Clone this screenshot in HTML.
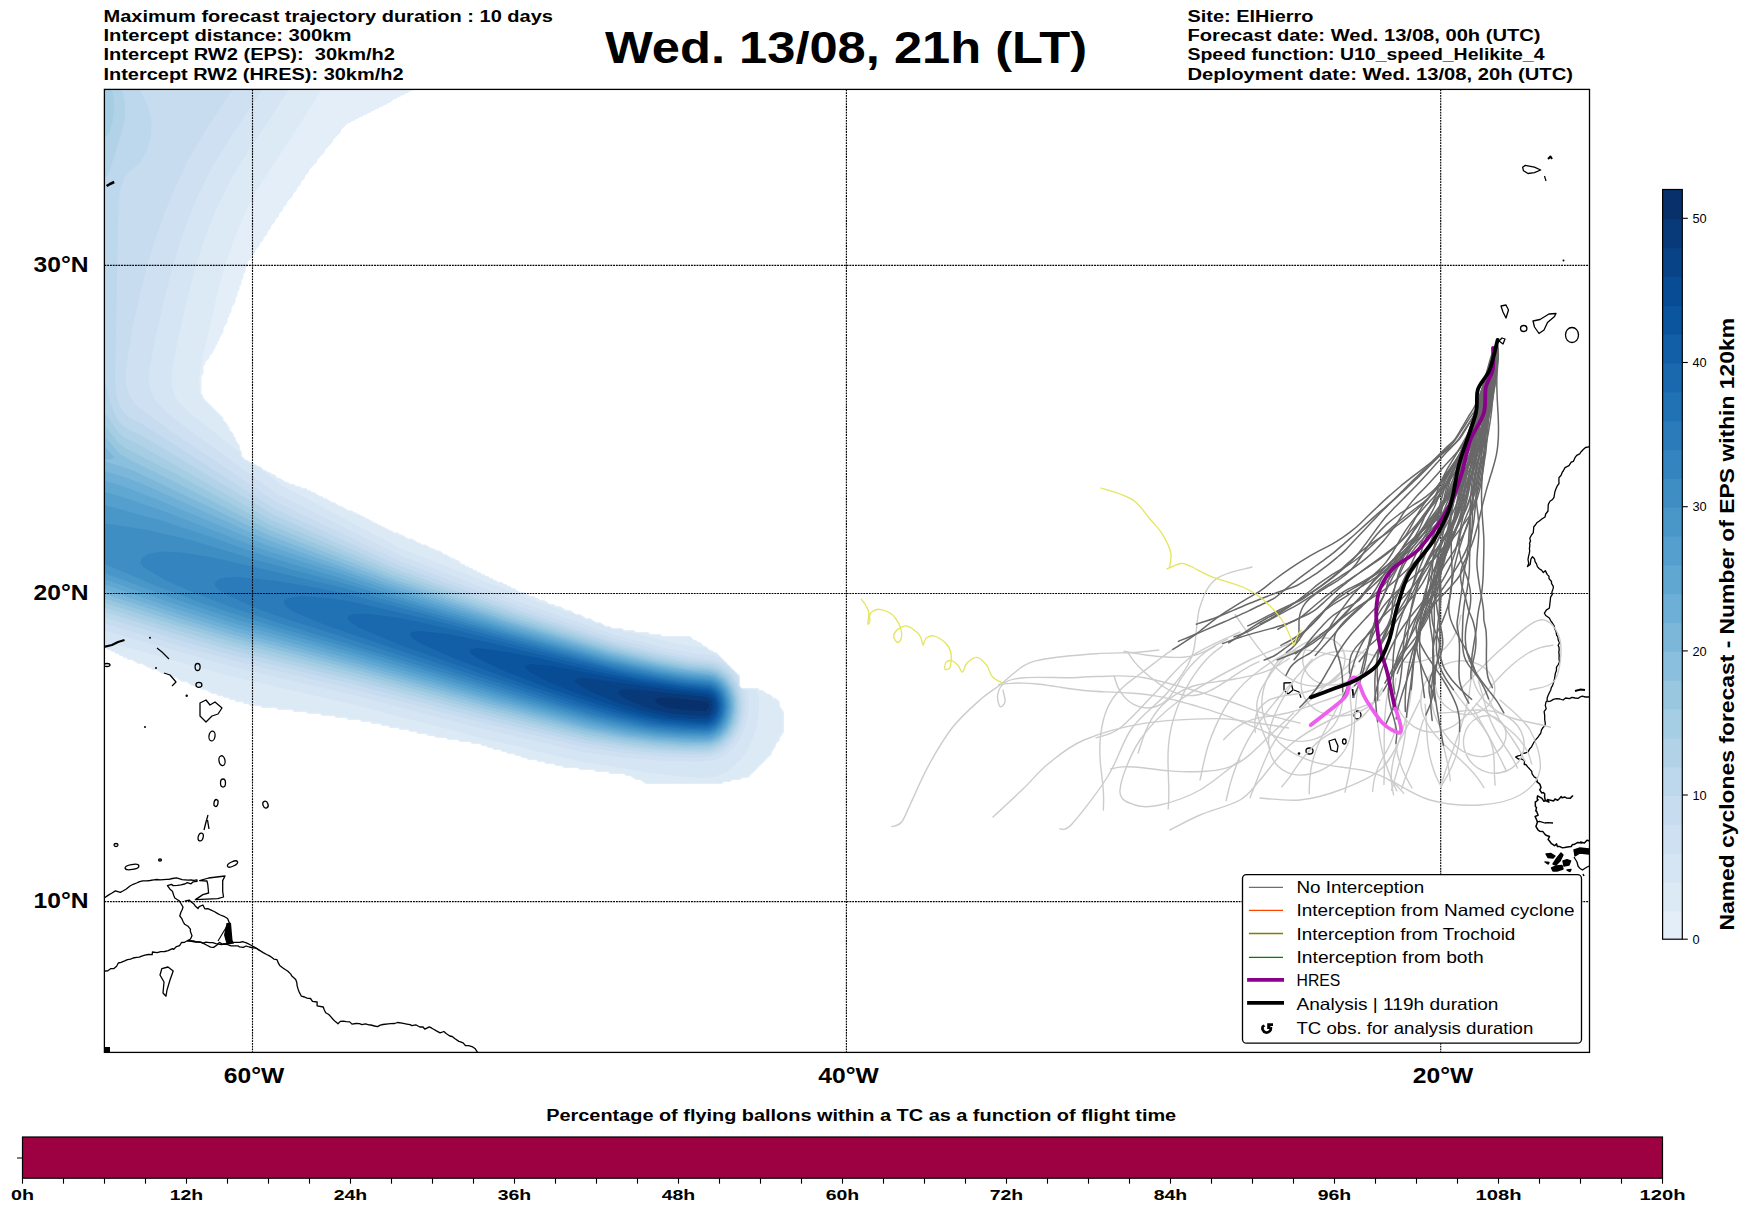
<!DOCTYPE html>
<html><head><meta charset="utf-8"><style>
html,body{margin:0;padding:0;background:#fff;width:1748px;height:1213px;overflow:hidden}
svg{position:absolute;left:0;top:0;font-family:"Liberation Sans",sans-serif}
</style></head><body>
<svg width="1748" height="1213" viewBox="0 0 1748 1213">
<defs><clipPath id="mapclip"><rect x="104.4" y="89.4" width="1485.1" height="963"/></clipPath></defs>
<g clip-path="url(#mapclip)">
<path d="M722,784l-76,0 -6,-4 -4,0 -6,-4 -4,0 -2,-2 -14,0 -2,-2 -12,0 -2,-2 -14,0 -2,-2 -14,0 -2,-2 -6,0 -2,-2 -8,0 -2,-2 -6,0 -2,-2 -8,0 -2,-2 -4,0 -2,-2 -4,0 -2,-2 -6,0 -2,-2 -4,0 -2,-2 -6,0 -2,-2 -4,0 -2,-2 -4,0 -2,-2 -8,0 -2,-2 -10,0 -2,-2 -10,0 -2,-2 -10,0 -2,-2 -6,0 -2,-2 -8,0 -2,-2 -6,0 -2,-2 -8,0 -2,-2 -8,0 -2,-2 -6,0 -2,-2 -8,0 -2,-2 -8,0 -2,-2 -12,0 -2,-2 -10,0 -2,-2 -12,0 -2,-2 -12,0 -2,-2 -12,0 -2,-2 -14,0 -2,-2 -14,0 -2,-2 -10,0 -2,-2 -4,0 -2,-2 -6,0 -2,-2 -4,0 -2,-2 -4,0 -2,-2 -4,0 -2,-2 -4,0 -6,-4 -4,0 -6,-4 -4,0 -6,-4 -4,0 -6,-4 -4,0 -6,-4 -4,0 -6,-4 -4,0 -2,-2 -2,0 -6,-4 -4,0 -6,-4 -4,0 -2,-2 -2,0 -2,-2 -2,0 -2,-2 -2,0 -2,-2 -2,0 -2,-2 -2,0 -2,-2 -2,0 -6,-4 0,-562 2,-2 220,0.5 96,0.5 1,1 0,4 -5,5 -2,0 -2,2 -2,0 -2,2 -2,0 -2,2 -2,0 -2,2 -2,0 -4,4 -2,0 -2,2 -2,0 -2,2 -2,0 -2,2 -2,0 -2,2 -2,0 -2,2 -2,0 -2,2 -2,0 -2,2 -2,0 -2,2 -2,0 -2,2 -2,0 -2,2 -2,0 -7,7 0,2 -8,8 0,2 -8,8 0,2 -8,8 0,2 -8,8 0,2 -4,4 0,2 -4,4 0,2 -4,4 0,2 -4,4 0,2 -6,6 0,2 -4,4 0,2 -4,4 0,2 -4,4 0,2 -4,4 0,2 -3.5,4 0,2 -4,4 0,2 -4,4 0,2 -4,4 0,2 -4,4 0,2 -4,4 0,4 -2,2 0,4 -2,2 0,4 -2,2 0,4 -2,2 0,4 -2,2 0,4 -2,2 0,4 -4,6 0,4 -2,2 0,2 -2,2 0,4 -4,6 0,4 -4,6 0,2 -2,2 0,2 -2,2 0,2 -2,2 0,2 -4,4 0,2 -4,4 0,2 -2,2 0,8 -2,2 0,18 2,2 0,2 20,20 0,2 4,4 0.5,2 2,2 0,2 4,4 0,2 2,2 0,2 4,6 0,4 2,2 0,4 4,4 2,0 2,2 2,0 6,4 2,0 4,4 2,0 2,2 2,0 2,2 2,0 4,4 2,0 6,4 2,0 2,2 4,0 2,2 4,0 2,2 4,0 2,2 2,0 2,2 2,0 6,4 2,0 2,2 2,0 6,4 2,0 6,4 2,0 6,4 4,0.5 2,1.5 2,0.5 2,1.5 2,0.5 2,1.5 2,0.5 2,1.5 2,0.5 2,1.5 2,0.5 2,2 2,0 2,2 2,0 2,2 2,0 2,2 2,0 2,2 2,0 2,2 4,0 2,2 2,0 6,4 4,0 6,4 2,0 2,2 4,0 6,4 2,0 2,1.5 4,0.5 4,3.5 2,0 6,4 2,0 2,2 2,0 4,4 2,0 2,2 2,0 2,2 2,0 2,2 2,0 2,2 2,0 2,2 2,0 2,2 2,0 2,2 2,0 2,2 2,0 2,2 4,0 2,2 2,0 2,2 2,0 2,2 2,0 6,4 4,0 6,4 4,0 2,2 2,0 2,2 4,0 6,4 4,0 2,2 4,0 6,4 4,0 6,4 4,0 6,4 4,0 6,4 4,0 6,4 4,0 2,2 10,0 2,2 10,0 2,2 12,0 2,2 10,0 2,2 28,0 4,4 2,0 2,2 2,0 4,4 2,0 4,4 2,0 2,2 2,0 24,24 0,10 2,2 16,0 2,2 2,0 6,4 2,0 4,4 2,0 4,4 0,4 4,6 0,20 -4,6 0,2 -4,4 0,2 -4,6 0,2 -24,24 -6,0 -2,2 -8,0 -2,2 -6,0 -2,2z" fill="#e3eef9"/>
<path d="M722,783l-76,0 -6,-4 -4,0 -6,-4 -4,0 -2,-2 -14,0 -2,-2 -12,0 -2,-2 -14,0 -2,-2 -14,0 -2,-2 -6,0 -2,-2 -8,0 -2,-2 -6,0 -2,-2 -8,0 -2,-2 -4,0 -2,-2 -4,0 -2,-2 -6,0 -2,-2 -4,0 -2,-2 -6,0 -2,-2 -4,0 -2,-2 -4,0 -2,-2 -8,0 -2,-2 -10,0 -2,-2 -10,0 -2,-2 -10,-0.5 -2,-1.5 -6,-0.5 -2,-1.5 -8,-0.5 -2,-2 -6,0 -2,-2 -8,0 -2,-2 -8,0 -2,-2 -6,0 -2,-2 -8,0 -2,-2 -8,0 -2,-2 -12,0 -2,-2 -10,0 -2,-2 -12,0 -2,-2 -12,0 -2,-2 -12,0 -2,-2 -14,0 -2,-2 -14,0 -2,-2 -10,0 -2,-2 -4,0 -2,-2 -6,0 -2,-2 -4,0 -2,-2 -4,0 -2,-2 -4,0 -2,-2 -4,0 -6,-4 -4,0 -6,-4 -4,0 -6,-4 -4,0 -6,-4 -4,0 -6,-4 -4,0 -6,-4 -4,0 -2,-2 -2,0 -6,-4 -4,0 -6,-4 -4,0 -2,-2 -2,0 -2,-1.5 -2,0 -2,-2 -2,0 -2,-2 -2,0 -2,-2 -2,0 -2,-2 -2,0 -2,-2 -2,0 -1,-1 -1,-74 0.5,-488 1.5,-1.5 164,0 62,1.5 -17,28 -51,78 -12,22.5 -10,23.5 -8,22.5 -8.5,27.5 -16.5,72 -4,24 1,14 2,2 0,2 20,20 0.5,2 4,4 0,2 2,2 0,2 4,4 0,2 2,2 0,2 4.5,6 0,4 2,2 0,4 4,4 3,1 2,2 2,0 2,2 2,0 2,2 2,0 4,4 2,0 2,2 2,0 2,2 2,0 4,4 2,0 6,4 2,0 2,2 4,0.5 2,1.5 4,0.5 2,2 4,0 2,2 2,0 2,2 2,0 6,4 2,0 2,2 2,0 6,4 2,0 6,4 2,0 6,4 4,0 2,2 6,2 2,2 2,0 2,2 2,0 2,2 2,0.5 2,1.5 2,0.5 2,1.5 2,0.5 2,1.5 2,0.5 2,1.5 6,2.5 2,1.5 4,0.5 2,2 2,0 6,4 4,0 6,3.5 2,0.5 2,1.5 4,0.5 6,3.5 2,0 2,2 4,0 4,4 2,0 6,4 6,2 4,4 2,0 2,2 6,2 2,2 2,0 2,2 2,0 2,1.5 6,2.5 2,1.5 2,0 2,2 2,0 2,2 4,0 2,2 2,0 2,2 2,0 2,2 2,0 6,4 4,0 6,4 4,0 2,2 2,0 2,2 4,0 6,4 4,0 2,2 4,0 6,4 4,0 6,4 4,0 6,4 4,0 6,4 4,0 6,4 4,0 2,2 10,0 2,2 10,0 2,2 12,0 2,2 10,0 2,2 28,0 4,4 2,0 2,2 2,0 4,4 2,0 4,4 2,0 2,2 2,0 23.5,23 0,10 2.5,2.5 16,0.5 2,2 2,0 6,4 2,0 4,4.5 2,0 2.5,2.5 0,4 4,6 0,20 -4,6 0,2 -4,4 0,2 -4,6 0,2 -22.5,22.5 -6,0.5 -2,2 -8,0 -2,2 -6,0 -2,2z" fill="#dceaf6"/>
<path d="M706,778l-20,-1 -24,-2.5 -82,-13 -102,-24.5 -127.5,-33 -124.5,-29 -104,-29 -14,-2.5 -8,0.5 -1.5,-36 0,-58 0,-468 1.5,-1.5 194,1.5 -47.5,72 -14.5,23.5 -14,27.5 -12.5,31 -9,28 -8.5,32 -10,43.5 -6,30.5 -0.5,10 0.5,8 3,8 5.5,8 15.5,14 44,34.5 0,3.5 6,5.5 2,0.5 2,2 2,0 2,2 2,0 2,2 1.5,0 22.5,17.5 118,62.5 118,46.5 48,17.5 8,2 2,2 4,0 6,4 4,0 2,2 2,0 2,2 4,0 6,3.5 4,0.5 2,1.5 10,0.5 2,2 5.5,0 40,10 20.5,4 16,2 4,3.5 6,2 23,22.5 0.5,10 2.5,3 15,1 2,10 0,12 -2,14 -4,12 -4.5,10 -6.5,10 -8,8 -8,6 -10,4.5 -10,1.5z" fill="#d5e5f4"/>
<path d="M714,760l-14,1.5 -34,-0.5 -42,-3.5 -42,-5.5 -100,-23.5 -133,-34.5 -117,-27.5 -132,-37 -1.5,-29.5 0,-50 0.5,-466 0,-2 1,-1 167.5,1 -40,60 -17,28 -14.5,30 -14,36 -8.5,28 -8,30 -10,44 -6,30 -1,12 1.5,8 4,10 4.5,6 9.5,9.5 13,10.5 97,70.5 120,60 116,45.5 98,34 53.5,14 26.5,5 20,2.5 8,2.5 18.5,18 0.5,10 3,3.5 4.5,0.5 2,10 0,8 -1,10 -2,8 -6.5,14 -5,7 -6,5.5 -6,4.5 -8,3z" fill="#cee0f2"/>
<path d="M712,756l-20,1.5 -26,-1 -42,-3.5 -40,-6 -102,-24.5 -133,-34.5 -115,-27.5 -50,-13.5 -84,-25 -1.5,-72 1,-174 -0.5,-286 0,-8 1,-1 137.5,1 -33,50 -17.5,30 -17.5,38 -14.5,40 -8,26 -8,32 -6.5,30 -4.5,26 -2,18 0,12 2.5,10 5,8 4.5,4.5 31.5,23.5 106.5,72 121,58 119,45.5 96,32.5 54,14 22,4.5 24,3 12,4.5 6,4.5 5,5.5 3,4.5 0.5,7.5 4.5,4 2,12 -0.5,12 -3.5,14 -8,14 -9,8.5 -6,3.5 -6,2z" fill="#c7dcef"/>
<path d="M704,754l-24,0 -32,-2 -30,-3.5 -34,-5.5 -100,-24 -131.5,-35 -120.5,-29 -50,-14 -82,-25 -1.5,-66 1.5,-468.5 36,0.5 5.5,10 5.5,12 3,10 1.5,10 -0.5,12 -4,14 -7,12.5 -12,10.5 -4,5.5 -4,11.5 -1.5,12 -3.5,178 1,12 1.5,8 2.5,7 4,6 6,5 12,6 132,84.5 122,56 118,44 98,33 49.5,12.5 28.5,5.5 22,2.5 10,4 6,4.5 5,5.5 6.5,12 3,14 -1,16 -5,14 -3.5,6 -5.5,6 -5.5,4.5 -6,3 -6,2 -6,0.5z" fill="#bdd7ec"/>
<path d="M106,177.5l-2,-2.5 -4,-15.5 -0.5,-77.5 20.5,0 5,20 0,16 -2,10 -13,41.5 -2,5.5 -2,2.5zM104,323l0,-3 0,-2.5 0,2.5 0,3zM712,750.5l-6,1 -14,0 -28,-1 -34,-3.5 -44,-7 -102,-25 -130.5,-35 -119.5,-29 -50,-14.5 -84,-26 -1,-44.5 0,-108 1,-72.5 2,-7.5 2,-1 5,21 5,14.5 4,7.5 6,6.5 6,4 10,4 134,80.5 122,54 118,43 105,34 49.5,12 21.5,4 22,2.5 10,4.5 8.5,7 6,10 3.5,12 0.5,14 -3,12 -6,12 -9.5,9.5 -10,5z" fill="#b2d2e8"/>
<path d="M106,136.5l-2,-1.5 -2,-4.5 -2,-9 0,-35.5 1,-4 9.5,0 3,16 0.5,12 -1.5,12 -2.5,8.5 -2,4.5 -2,1.5zM712,748l-6,1 -14,0.5 -30,-1.5 -32,-3.5 -44,-7.5 -100,-25 -125.5,-34 -126.5,-31.5 -54,-15.5 -80,-25 -1,-56 1,-137.5 4,0 2,1.5 12,18 6.5,6 11.5,5 22,12.5 112,64 124,52.5 118,42 98.5,32 47,12 31.5,6 21,2.5 10,3.5 8,6.5 6.5,9.5 3.5,12 0.5,12 -2,12 -6,12 -8.5,9 -10,5z" fill="#a5cde3"/>
<path d="M710,746.5l-26,0.5 -28,-2 -32,-4 -38,-6.5 -100,-25.5 -127,-35 -123,-31 -56,-16.5 -80,-25 -1,-51.5 1,-124 4,0 2,1 12,15.5 7,5.5 51,26 94,51 122,50 120,42 98,31 47,12 31,6 22,2.5 8,2.5 8,6 6.5,9 4,12 0.5,12 -2.5,12 -6.5,12 -8,8 -10,4.5z" fill="#99c7e0"/>
<path d="M710,744.5l-24,0.5 -32,-2.5 -30,-4 -38,-7 -98,-25 -124,-34.5 -128,-33 -54,-15.5 -82,-26.5 -1,-47 1,-113 4,0 2,1 14,16 8,5 44,21.5 96,49 124,49 120,41 98,31 47,11.5 31,6 22,2 8,3 8.5,7 6,10 3,10 -0.5,12 -3,12 -6,10 -8,7 -8,3.5z" fill="#8abfdd"/>
<path d="M710,742.5l-24,0.5 -32,-2.5 -30,-4 -36,-7 -100,-26 -126.5,-35.5 -127.5,-33 -56,-17 -78,-25.5 -0.5,-42.5 0.5,-103 4,0 2,1 9,10 -5,1.5 -9.5,0.5 31.5,10 136,65 124,46.5 118,40 99,30.5 49,12 28,5.5 24,2.5 6,2 8,5.5 6,8.5 3.5,10 0.5,12 -3,12 -5,9.5 -8,7.5 -8,3.5z" fill="#7cb7da"/>
<path d="M106,458l-6,0.5 0,-2 4,0 3,1.5 -1,0zM712,740l-6,1.5 -14,0 -34,-2.5 -28,-3.5 -42,-8 -98,-26.5 -128,-36 -125,-33 -53,-16 -84,-28 0,-118.5 26,8 20,8 120,54 126,45.5 118,38.5 99,30.5 49.5,12 55.5,9 8,5 6,7.5 3.5,8.5 1.5,10 -2,12 -4.5,10 -6.5,7.5 -8,4.5z" fill="#6dafd7"/>
<path d="M712,738.5l-6,1 -12,0 -32,-2 -32,-4 -42,-8.5 -98,-26.5 -124,-35.5 -129.5,-35 -57.5,-18 -79,-27 0,-103.5 24,7 32,12.5 110,46 78,26 46,16.5 120,38.5 98,29.5 25,6.5 45,9.5 30,3.5 6,1.5 8,5.5 4.5,6 3.5,8 1.5,10 -1.5,10 -4,10 -6,7.5 -8,5z" fill="#60a7d2"/>
<path d="M712,736.5l-6,1.5 -14,0 -30,-2 -32,-4.5 -42,-9 -97,-26.5 -127,-37 -127.5,-35 -56,-18 -80.5,-28.5 0,-87 25.5,7.5 40.5,14 98,38 76,23.5 50,17 120,38 98,29 22,5.5 34,7.5 24,4 20,2 6,1.5 6,4 6,7.5 3,8.5 1,8 -1.5,10 -3,8 -5.5,7.5 -8,5z" fill="#549fcd"/>
<path d="M706,736l-28,-0.5 -30,-3 -38,-7 -38,-9.5 -78,-22 -124,-36.5 -132.5,-37.5 -60,-20 -76,-28 -1.5,-0.5 0,-67.5 60,16 44,14.5 58,20.5 78,23 48,15.5 120,36.5 98,29 52,12 26,4.5 28,3.5 8,5 4.5,6 4,10 0,10 -2.5,10 -5,8 -7,6 -8,2z" fill="#4997c9"/>
<path d="M708,734.5l-24,-0.5 -26,-2 -32,-5.5 -36,-8 -73,-20.5 -143,-43 -101.5,-29 -62.5,-20 -53.5,-20 -56.5,-24 0,-39.5 48,7.5 42.5,10 69.5,21 88,23.5 160,48 100,28.5 50,11.5 26,4.5 28,3.5 6,3.5 6,7.5 3,8.5 0.5,8 -2.5,10 -4,8 -7,6 -6,2.5z" fill="#3e8ec4"/>
<path d="M710,732l-8,1 -24,-1 -20,-2 -24,-4 -42,-9.5 -79,-22.5 -231,-70 -48.5,-16 -41.5,-16 -27,-12 -20.5,-12 -3.5,-4 -0.5,-2 1.5,-4 6,-4 14,-2.5 20,1 34,5.5 128,30 264,75 52,11.5 26,4.5 24,2.5 6,3 5.5,5.5 3.5,8 1,8 -1,8 -3,8 -6,7 -6,3z" fill="#3484bf"/>
<path d="M710,730.5l-6,0.5 -22,-0.5 -36,-4 -50,-11 -46.5,-13.5 -78.5,-24 -194,-62 -26,-10 -22,-10 -10,-6 -4,-4 -0.5,-2 3,-4 2.5,-1 6,-1.5 12,-0.5 36,3.5 44.5,7.5 36,8 70,18 183.5,51 52,11.5 26,4 24,3 6,3 5,5.5 2.5,6 1.5,8 -1.5,8 -3.5,8 -4,5 -6,3.5z" fill="#2b7bba"/>
<path d="M710,728.5l-4,1 -18,-0.5 -36,-3.5 -43.5,-9.5 -43,-12 -108,-34 -124,-42 -21,-8 -18,-8 -9,-6 -1.5,-4 0.5,-2 3.5,-2 14,-2 26,2 25,4 87.5,20 177.5,47.5 44,9 24,4 24,2.5 6,3.5 4,4.5 3,7 0.5,6 -1,8 -3,6 -3.5,4.5 -6,4z" fill="#2171b5"/>
<path d="M710,726.5l-4,1 -16,0 -34,-3.5 -38,-8 -43,-12 -93,-30 -79,-28 -43,-18 -10,-6 -2.5,-4 1,-2 3.5,-1.5 12,-1 22,2.5 24,4 54,12 162,41 52,10 32,3.5 5.5,3.5 3.5,4 2.5,6 0.5,6 -1,8 -3,6 -4,4.5 -4,2z" fill="#1a68ae"/>
<path d="M710,724.5l-4,1.5 -14,-0.5 -30,-2.5 -34,-7 -36.5,-10 -68,-22 -65.5,-24 -36.5,-16 -9.5,-6 -2,-4 1.5,-2 8.5,-1 28,3 38.5,8 147.5,35 46,8 28.5,3 4.5,2 4,4 2,4 1.5,6 -0.5,6 -2,6.5 -4,5.5 -4,2.5z" fill="#135fa7"/>
<path d="M710,722.5l-4,1.5 -12,-0.5 -32,-3 -31.5,-6.5 -28,-8 -54.5,-18 -41.5,-16 -29.5,-14 -5.5,-4 -1.5,-2 0,-2 2,-1 6,-1 29.5,4 31,6 65.5,15 38,7.5 40,6.5 26,3 4,1.5 4,4 3,8.5 -0.5,6 -2,6 -2.5,3.5 -4,3z" fill="#0b559f"/>
<path d="M710,720l-4,1.5 -8,0 -30,-2.5 -17.5,-3 -23.5,-6 -42.5,-14 -36,-14 -19,-10 -4.5,-4 0,-2 5,-2 22,2 92,17.5 40,6 24,2.5 6,4 2.5,4 0.5,4 0,6 -1.5,4 -5.5,6z" fill="#084c95"/>
<path d="M708,718.5l-14,0.5 -24,-2 -30.5,-7 -24,-8 -24,-10 -11.5,-6 -4.5,-4 -0.5,-2 5,-2 6,0 96,13.5 26,3 5,3.5 2,4 0.5,4 -2.5,8 -5,4.5z" fill="#084387"/>
<path d="M704,716l-29.5,-2 -20.5,-4 -26.5,-10 -6.5,-4 -3,-4 2,-2 2,-0.5 12,0 72,7.5 4,2 2,2.5 0.5,6.5 -3,6 -3.5,2 -2,0z" fill="#083979"/>
<path d="M706,711l-20.5,-1 -19.5,-2.5 -8,-3.5 -2.5,-2 -0.5,-2 3,-2 8,-0.5 40,4 2,1.5 1,3 -1,3 -2,2z" fill="#08306b"/>
<path d="M104.6,971.0 L107.9,970.8 L110.9,968.6 L113.7,968.7 L116.6,966.2 L118.3,963.0 L121.0,962.3 L124.7,960.9 L127.5,959.6 L130.6,959.2 L133.1,958.0 L136.6,957.3 L139.2,957.1 L142.5,955.8 L144.9,955.1 L148.4,954.5 L152.2,954.7 L152.4,952.0 L157.2,952.7 L160.7,951.7 L164.7,951.5 L168.2,950.7 L172.4,948.6 L173.5,949.4 L176.5,946.6 L179.6,945.6 L181.5,942.5 L184.6,942.3 L187.2,940.8 L189.4,940.6 L193.4,940.8 L196.5,941.8 L199.7,941.8 L203.2,943.1 L206.1,942.2 L209.5,942.7 L212.7,942.7 L215.8,943.7 L217.4,943.9 L221.4,944.6 L223.8,944.0 L227.8,944.7 L230.9,945.9 L232.7,945.9 L237.8,945.8 L239.5,946.9 L243.3,947.3 L246.0,946.0 L249.3,947.0 L253.0,947.8 L255.6,948.0 L257.1,948.7 L261.6,951.6 L263.2,952.6 L266.6,954.5 L269.5,955.9 L271.6,957.3 L273.8,959.1 L276.9,959.6 L278.4,963.2 L279.7,965.4 L282.6,967.7 L285.2,969.5 L287.6,971.0 L290.8,974.1 L291.6,975.7 L295.7,979.5 L296.8,982.5 L297.1,985.6 L298.1,989.2 L299.0,991.6 L301.4,996.2 L304.5,997.0 L307.0,998.1 L310.5,998.5 L312.5,1001.3 L317.1,1002.0 L317.1,1005.8 L323.3,1007.0 L324.3,1010.0 L325.7,1012.7 L328.8,1014.5 L330.5,1016.4 L333.2,1019.5 L335.4,1021.6 L338.0,1023.7 L340.3,1021.4 L343.3,1021.2 L346.3,1021.6 L349.7,1021.9 L352.0,1024.1 L355.9,1023.5 L359.4,1023.6 L362.0,1024.6 L365.4,1023.9 L368.9,1024.8 L370.7,1025.0 L374.6,1026.0 L377.6,1026.6 L380.3,1025.1 L382.9,1024.5 L388.3,1023.8 L390.5,1023.7 L394.7,1023.5 L397.5,1022.5 L402.0,1023.2 L403.3,1023.4 L406.8,1024.1 L410.0,1024.7 L411.9,1025.7 L415.8,1024.8 L419.8,1027.0 L422.8,1026.8 L424.9,1029.2 L429.3,1026.9 L431.8,1028.2 L434.1,1029.5 L436.4,1030.9 L440.1,1032.9 L443.9,1031.5 L446.1,1033.5 L449.8,1036.0 L452.2,1036.5 L454.7,1038.5 L458.9,1041.4 L459.8,1041.7 L463.1,1042.9 L465.6,1045.7 L468.7,1045.6 L472.7,1046.9 L475.3,1048.8 L478.0,1053.0" fill="none" stroke="#000" stroke-width="1.3" stroke-linejoin="round"/>
<path d="M104.6,897.8 L108.4,895.1 L112.0,893.0 L115.4,890.9 L120.3,892.4 L122.9,891.0 L126.3,889.0 L130.0,886.0 L133.2,884.3 L136.6,883.0 L139.0,881.8 L142.5,880.9 L146.6,880.9 L150.0,880.5 L153.7,879.9 L156.7,879.5 L160.0,879.8 L163.6,879.6 L166.4,879.4 L168.7,879.3 L172.4,878.5 L176.7,877.8 L177.5,878.2 L182.1,879.6 L184.7,879.8 L188.4,880.2 L191.0,880.0 L193.8,880.3 L197.0,879.8 L197.0,881.4 L193.2,881.8 L191.0,883.8 L187.3,882.7 L184.7,884.0 L180.9,884.9 L177.6,885.4 L173.2,885.6 L171.5,884.4 L167.4,885.6 L170.0,889.2 L172.4,891.3 L173.7,895.2 L174.8,898.0 L179.1,900.7 L180.6,903.0 L183.0,907.0 L182.3,909.5 L180.9,912.3 L179.8,916.0 L181.8,918.6 L183.0,921.5 L184.7,924.3 L188.0,926.2 L190.5,929.3 L190.3,931.1 L192.0,935.8 L190.5,939.0 L187.2,940.8" fill="none" stroke="#000" stroke-width="1.3" stroke-linejoin="round"/>
<path d="M199.6,880.6 L208.6,878.0 L225.0,876.0 L222.7,880.6 L222.7,891.3 L223.5,897.0 L217.7,898.7 L195.4,899.6 L202.9,894.6 L208.6,893.0 L207.8,884.7 L207.0,881.0 Z" fill="none" stroke="#000" stroke-width="1.3" stroke-linejoin="round"/>
<path d="M184.7,901.2 L189.2,900.1 L191.3,902.0 L193.8,903.9 L195.5,906.3 L198.0,908.6 L199.2,906.7 L202.9,905.0 L204.8,908.8 L207.8,908.6 L211.2,910.1 L214.2,911.5 L217.7,913.6 L220.4,915.0 L224.6,916.7 L227.6,918.5 L229.3,922.7 L230.0,925.9 L229.5,930.2 L230.0,932.2 L229.7,936.2 L231.0,939.0 L230.0,942.4" fill="none" stroke="#000" stroke-width="1.3" stroke-linejoin="round"/>
<path d="M187.2,940.8 L190.3,941.1 L195.2,942.0 L196.7,942.0 L201.2,942.4 L203.9,943.7 L206.4,945.0 L210.6,947.1 L213.6,947.4 L216.7,945.2 L219.4,942.4 L222.6,944.2 L227.6,943.3 L229.8,943.5 L234.2,942.4 L240.0,942.4 L242.4,941.6 L246.4,942.8 L250.7,945.0 L253.4,946.5 L257.1,948.7 L260.0,950.7" fill="none" stroke="#000" stroke-width="1.3" stroke-linejoin="round"/>
<path d="M226.5,923 L231,922.7 L232.5,940 L234,943.5 L226.5,944 L224,935 Z" fill="#000"/>
<path d="M218.0,941.0 L224.0,931.0 L227.6,925.0" fill="none" stroke="#000" stroke-width="1.1" stroke-linejoin="round"/>
<path d="M161.8,968.7 L168.0,967.0 L173.2,971.0 L170.0,980.0 L167.0,990.0 L166.0,996.2 L163.0,993.0 L164.0,982.0 L160.0,975.0 Z" fill="none" stroke="#000" stroke-width="1.3" stroke-linejoin="round"/>
<rect x="104.5" y="1047" width="5.5" height="5.5" fill="#000"/>
<ellipse cx="232.5" cy="864" rx="5.5" ry="2.2" transform="rotate(-25 232.5 864)" fill="none" stroke="#000" stroke-width="1.3"/>
<ellipse cx="132" cy="867" rx="7" ry="2.5" transform="rotate(-10 132 867)" fill="none" stroke="#000" stroke-width="1.3"/>
<ellipse cx="200.7" cy="837" rx="2.5" ry="4" transform="rotate(15 200.7 837)" fill="none" stroke="#000" stroke-width="1.3"/>
<ellipse cx="216" cy="803" rx="2" ry="3.5" transform="rotate(10 216 803)" fill="none" stroke="#000" stroke-width="1.3"/>
<ellipse cx="223" cy="783" rx="2.5" ry="4" transform="rotate(0 223 783)" fill="none" stroke="#000" stroke-width="1.3"/>
<ellipse cx="222" cy="760.7" rx="3" ry="5" transform="rotate(-10 222 760.7)" fill="none" stroke="#000" stroke-width="1.3"/>
<ellipse cx="212" cy="736" rx="3" ry="5" transform="rotate(10 212 736)" fill="none" stroke="#000" stroke-width="1.3"/>
<ellipse cx="197.6" cy="667" rx="2.5" ry="3.5" transform="rotate(0 197.6 667)" fill="none" stroke="#000" stroke-width="1.3"/>
<ellipse cx="198.9" cy="684.8" rx="3" ry="2.5" transform="rotate(0 198.9 684.8)" fill="none" stroke="#000" stroke-width="1.3"/>
<ellipse cx="265.5" cy="804.6" rx="2.5" ry="3.5" transform="rotate(-20 265.5 804.6)" fill="none" stroke="#000" stroke-width="1.3"/>
<ellipse cx="116" cy="845" rx="2" ry="1.5" transform="rotate(0 116 845)" fill="none" stroke="#000" stroke-width="1.3"/>
<ellipse cx="160" cy="860" rx="1.5" ry="1" transform="rotate(0 160 860)" fill="none" stroke="#000" stroke-width="1.3"/>
<path d="M200.0,703.0 L206.0,700.0 L210.0,705.0 L215.0,702.0 L222.0,708.0 L218.0,714.0 L212.0,716.0 L206.0,722.0 L200.0,716.0 Z" fill="none" stroke="#000" stroke-width="1.3" stroke-linejoin="round"/>
<path d="M104.0,647.0 L112.0,645.0 L118.0,642.0 L124.5,640.0" fill="none" stroke="#000" stroke-width="2.2" stroke-linejoin="round"/>
<path d="M157.0,648.0 L162.0,652.0 L169.0,659.0" fill="none" stroke="#000" stroke-width="1.2" stroke-linejoin="round"/>
<ellipse cx="107" cy="665" rx="3" ry="1.5" transform="rotate(0 107 665)" fill="none" stroke="#000" stroke-width="1.3"/>
<path d="M164.0,673.0 L170.0,675.0 L176.0,682.0 L172.0,686.0" fill="none" stroke="#000" stroke-width="1.2" stroke-linejoin="round"/>
<path d="M208.0,815.0 L206.0,822.0 L204.0,830.0" fill="none" stroke="#000" stroke-width="1.3" stroke-linejoin="round"/>
<path d="M207.5,820.0 L209.0,829.0" fill="none" stroke="#000" stroke-width="1.3" stroke-linejoin="round"/>
<path d="M106.6,186.0 L110.0,184.0 L114.2,182.0" fill="none" stroke="#000" stroke-width="2.5" stroke-linejoin="round"/>
<circle cx="150" cy="637.7" r="1" fill="#000"/><circle cx="156" cy="668" r="1" fill="#000"/><circle cx="186.7" cy="695.7" r="1.2" fill="#000"/><circle cx="145" cy="727" r="1" fill="#000"/>
<path d="M1590.0,445.0 L1588.9,446.8 L1585.5,447.5 L1583.0,449.8 L1580.9,452.0 L1579.7,453.8 L1576.7,455.3 L1575.0,457.7 L1573.4,461.3 L1571.2,462.2 L1569.0,465.6 L1565.0,467.6 L1563.1,471.2 L1562.5,471.8 L1561.0,475.5 L1559.0,477.5 L1558.9,479.8 L1559.0,483.5 L1557.3,485.8 L1555.9,489.1 L1555.0,491.4 L1554.5,494.0 L1554.0,497.3 L1552.2,499.8 L1550.0,501.3 L1548.3,504.4 L1548.1,507.7 L1548.0,511.0 L1545.7,514.0 L1545.0,517.0 L1542.2,518.8 L1539.4,521.0 L1536.8,522.8 L1535.4,525.0 L1533.8,526.7 L1533.6,529.3 L1533.2,532.9 L1531.5,535.0 L1529.8,538.2 L1530.5,541.0 L1529.5,543.6 L1529.9,545.0 L1529.4,548.7 L1529.7,550.8 L1529.3,553.4 L1528.5,556.7 L1528.0,559.5 L1528.7,563.6 L1527.5,566.6 L1530.2,564.5 L1530.5,562.2 L1530.9,559.1 L1532.5,556.7 L1534.5,558.9 L1535.1,561.6 L1536.5,563.9 L1537.4,566.6 L1539.3,568.7 L1541.5,570.1 L1543.4,572.6 L1545.3,570.6 L1547.3,574.6 L1549.0,576.2 L1549.0,578.6 L1551.5,581.5 L1551.5,583.4 L1553.3,586.4 L1553.2,588.4 L1551.9,592.1 L1552.3,594.4 L1550.6,597.2 L1550.3,600.3 L1550.0,602.7 L1549.6,606.4 L1549.3,608.2 L1546.5,609.9 L1544.4,613.2 L1545.7,615.5 L1549.3,618.0 L1550.8,620.8 L1552.4,623.0 L1554.3,626.0 L1554.6,628.5 L1556.0,631.4 L1556.7,635.5 L1557.7,636.3 L1558.2,640.0 L1559.5,642.7 L1558.1,645.5 L1559.0,647.1 L1559.2,650.0 L1558.8,651.9 L1559.2,655.6 L1559.0,657.8 L1559.2,660.0 L1559.6,661.9 L1558.0,665.0 L1556.5,667.2 L1556.4,670.7 L1555.4,673.1 L1555.0,675.7 L1554.5,678.9 L1553.7,681.9 L1552.5,685.7 L1551.3,687.6 L1550.7,690.2 L1549.7,692.0 L1548.1,695.5 L1547.3,697.5 L1547.0,701.1 L1546.0,701.9 L1545.3,705.4 L1546.2,708.7 L1544.1,711.6 L1544.4,713.4 L1544.7,715.6 L1544.7,719.7 L1545.3,723.3 L1545.1,725.2 L1542.8,727.8 L1541.5,729.8 L1540.7,733.3 L1539.4,735.0 L1538.2,736.8 L1535.6,739.9 L1534.2,741.8 L1532.1,745.8 L1531.5,747.0 L1530.0,748.4 L1528.0,751.8 L1525.5,753.0 L1521.6,753.7 L1520.3,755.4 L1518.0,755.9 L1515.6,757.0 L1518.6,759.1 L1521.6,759.0 L1524.5,760.6 L1524.2,764.5 L1525.8,764.5 L1527.9,767.1 L1529.5,768.8 L1531.7,771.4 L1532.1,773.9 L1534.4,777.1 L1535.8,777.5 L1537.4,780.7" fill="none" stroke="#000" stroke-width="1.3" stroke-linejoin="round"/>
<path d="M1537.4,780.7 L1536.8,781.7 L1539.8,784.1 L1541.0,787.5 L1539.8,789.8 L1541.7,792.9 L1543.4,792.6 L1544.7,794.0 L1544.6,796.8 L1545.2,800.1 L1545.3,800.5 L1543.9,801.3 L1542.0,798.3 L1537.7,795.8 L1537.4,796.5 L1537.2,799.2 L1538.2,799.8 L1536.3,801.5 L1535.3,801.9 L1535.4,806.4 L1536.5,807.6 L1535.8,810.9 L1536.5,810.9 L1538.1,815.2 L1537.2,815.6 L1535.1,816.5 L1536.9,820.5 L1537.4,822.3 L1535.9,826.5 L1536.0,826.6 L1538.1,830.0 L1539.6,831.2 L1542.7,831.4 L1545.0,834.4 L1546.0,835.2 L1549.5,836.5 L1548.1,839.5 L1549.5,841.0 L1551.5,843.7 L1554.6,845.7 L1556.6,843.9 L1557.4,846.4 L1559.4,846.4 L1562.0,847.7 L1564.7,847.5 L1567.3,847.0 L1571.2,846.5 L1572.6,844.4 L1574.3,844.4 L1577.8,842.4 L1581.8,842.9 L1580.5,842.1 L1584.4,843.0 L1587.0,840.2 L1590.0,841.0" fill="none" stroke="#000" stroke-width="1.5" stroke-linejoin="round"/>
<path d="M1545.3,800.5 L1548.9,802.1 L1547.3,799.6 L1553.7,800.9 L1555.0,799.0 L1557.7,800.2 L1559.3,798.8 L1561.2,796.6 L1562.1,797.8 L1565.0,797.0 L1566.4,798.0 L1570.4,798.2 L1571.0,797.4 L1573.0,795.5" fill="none" stroke="#000" stroke-width="1.5" stroke-linejoin="round"/>
<path d="M1547.3,701.5 L1550.5,701.1 L1553.4,699.4 L1556.4,698.7 L1560.0,699.0 L1563.1,700.0 L1565.6,698.0 L1569.4,698.7 L1572.1,697.4 L1575.0,698.0 L1578.0,698.4 L1579.8,697.2 L1582.3,696.2 L1585.3,697.0 L1590.0,697.0" fill="none" stroke="#000" stroke-width="1.3" stroke-linejoin="round"/>
<path d="M1575.0,691.0 L1580.0,689.6 L1585.0,690.0" fill="none" stroke="#000" stroke-width="2" stroke-linejoin="round"/>
<path d="M1537.0,822.0 L1539.4,821.3 L1545.0,823.0 L1547.8,822.7 L1553.0,823.0" fill="none" stroke="#000" stroke-width="1.3" stroke-linejoin="round"/>
<path d="M1546.0,854.0 L1551.0,853.5 L1555.0,856.0 L1553.0,858.0 L1548.0,857.5 Z" fill="#000" stroke="#000" stroke-width="1.4" stroke-linejoin="round"/>
<path d="M1553.0,864.0 L1557.0,858.0 L1561.0,853.0 L1563.0,855.0 L1560.0,861.0 L1556.0,865.0 Z" fill="#000" stroke="#000" stroke-width="1.4" stroke-linejoin="round"/>
<path d="M1551.5,868.0 L1556.0,866.0 L1562.0,865.5 L1563.0,869.0 L1557.0,871.0 L1553.0,871.0 Z" fill="#000" stroke="#000" stroke-width="1.4" stroke-linejoin="round"/>
<path d="M1563.0,861.0 L1567.0,859.6 L1570.6,861.0 L1569.0,865.0 L1564.0,866.0 Z" fill="#000" stroke="#000" stroke-width="1.4" stroke-linejoin="round"/>
<path d="M1545.0,862.0 L1549.0,862.5 L1548.0,864.0 Z" fill="#000" stroke="#000" stroke-width="1.4" stroke-linejoin="round"/>
<path d="M1567.0,870.0 L1571.0,869.5 L1570.0,871.5 Z" fill="#000" stroke="#000" stroke-width="1.4" stroke-linejoin="round"/>
<path d="M1574.0,850.0 L1580.0,848.0 L1589.0,849.0 L1589.0,854.0 L1580.0,853.0 L1575.0,856.0 Z" fill="#000" stroke="#000" stroke-width="1.4" stroke-linejoin="round"/>
<path d="M1574.0,857.0 L1577.0,862.0 L1578.0,866.0 L1579.7,868.2 L1582.5,870.0 L1584.6,868.5 L1589.0,866.0" fill="none" stroke="#000" stroke-width="1.3" stroke-linejoin="round"/>
<path d="M1583.0,874.0 L1584.0,876.0" fill="none" stroke="#000" stroke-width="1.6" stroke-linejoin="round"/>
<path d="M1501.0,306.0 L1506.0,305.0 L1508.5,310.0 L1506.0,318.0 L1503.0,312.0 Z" fill="none" stroke="#000" stroke-width="1.3" stroke-linejoin="round"/>
<ellipse cx="1523.7" cy="328.5" rx="3.2" ry="3" transform="rotate(0 1523.7 328.5)" fill="none" stroke="#000" stroke-width="1.3"/>
<path d="M1533.0,321.0 L1540.0,319.5 L1549.0,314.0 L1556.0,313.5 L1554.5,316.5 L1547.5,322.5 L1544.0,330.0 L1539.0,333.5 L1534.5,327.0 Z" fill="none" stroke="#000" stroke-width="1.3" stroke-linejoin="round"/>
<ellipse cx="1572" cy="335" rx="6.5" ry="7.5" transform="rotate(0 1572 335)" fill="none" stroke="#000" stroke-width="1.3"/>
<path d="M1499.0,341.0 L1502.0,338.0 L1505.0,339.0 L1503.0,344.0 Z" fill="none" stroke="#000" stroke-width="1.3" stroke-linejoin="round"/>
<path d="M1522.6,167.2 L1525.3,165.4 L1534.4,167.2 L1540.7,170.0 L1534.4,172.6 L1528.0,173.5 L1523.5,170.8 Z" fill="none" stroke="#000" stroke-width="1.3" stroke-linejoin="round"/>
<path d="M1548.0,159.0 L1550.5,156.5 L1552.0,159.0" fill="none" stroke="#000" stroke-width="2" stroke-linejoin="round"/>
<path d="M1544.5,176.0 L1546.0,181.0" fill="none" stroke="#000" stroke-width="1.2" stroke-linejoin="round"/>
<circle cx="1563.5" cy="260.6" r="1" fill="#000"/>
<path d="M1284.0,683.0 L1291.0,682.6 L1293.0,690.0 L1288.0,694.0 L1284.0,690.0 Z" fill="none" stroke="#000" stroke-width="1.3" stroke-linejoin="round"/>
<path d="M1294.0,690.0 L1299.0,692.0 L1301.0,697.8" fill="none" stroke="#000" stroke-width="1.2" stroke-linejoin="round"/>
<path d="M1352.5,689.0 L1353.5,698.0" fill="none" stroke="#000" stroke-width="1.8" stroke-linejoin="round"/>
<ellipse cx="1357.5" cy="715" rx="3.5" ry="4" transform="rotate(0 1357.5 715)" fill="none" stroke="#000" stroke-width="1.3"/>
<path d="M1329.0,741.0 L1335.0,739.0 L1338.0,746.0 L1337.0,752.0 L1331.0,750.0 Z" fill="none" stroke="#000" stroke-width="1.3" stroke-linejoin="round"/>
<ellipse cx="1344.3" cy="741.5" rx="1.8" ry="2.5" transform="rotate(0 1344.3 741.5)" fill="none" stroke="#000" stroke-width="1.3"/>
<ellipse cx="1309.5" cy="751" rx="3.5" ry="3" transform="rotate(0 1309.5 751)" fill="none" stroke="#000" stroke-width="1.3"/>
<circle cx="1299" cy="753.5" r="1.3" fill="#000"/>
<line x1="252.5" y1="89.4" x2="252.5" y2="1052.4" stroke="#000" stroke-width="1.15" stroke-dasharray="1.85,0.93"/>
<line x1="846.4" y1="89.4" x2="846.4" y2="1052.4" stroke="#000" stroke-width="1.15" stroke-dasharray="1.85,0.93"/>
<line x1="1440.7" y1="89.4" x2="1440.7" y2="1052.4" stroke="#000" stroke-width="1.15" stroke-dasharray="1.85,0.93"/>
<line x1="104.4" y1="265.3" x2="1589.5" y2="265.3" stroke="#000" stroke-width="1.15" stroke-dasharray="1.85,0.93"/>
<line x1="104.4" y1="593.5" x2="1589.5" y2="593.5" stroke="#000" stroke-width="1.15" stroke-dasharray="1.85,0.93"/>
<line x1="104.4" y1="901.6" x2="1589.5" y2="901.6" stroke="#000" stroke-width="1.15" stroke-dasharray="1.85,0.93"/>
<path d="M1172.9,649.4C1171.3,650.5 1166.3,653.9 1163.1,656.3C1159.9,658.7 1156.8,661.2 1153.6,663.6C1150.4,666.1 1147.3,668.5 1144.1,670.9C1140.9,673.3 1137.6,675.6 1134.4,678.0C1131.2,680.4 1127.9,682.7 1124.9,685.4C1121.9,688.0 1118.9,690.7 1116.4,693.8C1113.8,696.8 1111.5,700.2 1109.6,703.7C1107.7,707.2 1106.2,710.9 1104.9,714.7C1103.6,718.5 1102.7,722.4 1102.0,726.3C1101.2,730.3 1100.7,734.2 1100.3,738.2C1099.9,742.2 1099.8,746.2 1099.8,750.2C1099.8,754.2 1100.0,758.2 1100.3,762.2C1100.6,766.2 1101.2,770.1 1101.6,774.1C1102.1,778.1 1102.6,782.1 1102.9,786.0C1103.3,790.0 1103.5,794.0 1103.6,798.0C1103.7,802.0 1103.4,808.0 1103.4,810.0" fill="none" stroke="#cccccc" stroke-width="1.4" stroke-linejoin="round" stroke-linecap="round"/>
<path d="M1227.4,639.1C1225.6,640.0 1220.2,642.7 1216.7,644.6C1213.2,646.5 1209.9,648.9 1206.3,650.6C1202.8,652.4 1199.1,654.1 1195.3,655.2C1191.4,656.3 1187.4,656.9 1183.4,657.2C1179.5,657.5 1175.4,657.4 1171.5,657.3C1167.5,657.1 1163.5,656.8 1159.5,656.5C1155.5,656.1 1151.5,655.7 1147.5,655.2C1143.6,654.7 1139.6,654.1 1135.7,653.4C1131.7,652.7 1125.9,651.5 1123.9,651.1" fill="none" stroke="#cccccc" stroke-width="1.4" stroke-linejoin="round" stroke-linecap="round"/>
<path d="M1259.2,661.7C1257.4,662.5 1251.9,664.9 1248.4,666.8C1244.9,668.8 1241.5,670.9 1238.2,673.1C1234.8,675.2 1231.5,677.6 1228.2,679.8C1224.8,682.0 1221.6,684.3 1218.1,686.3C1214.6,688.3 1211.1,690.3 1207.5,691.8C1203.8,693.3 1199.9,694.7 1196.0,695.2C1192.1,695.8 1187.9,695.8 1184.0,695.2C1180.1,694.6 1176.2,693.2 1172.6,691.7C1168.9,690.1 1165.5,687.9 1162.1,685.8C1158.7,683.7 1155.5,681.3 1152.4,678.8C1149.2,676.4 1146.1,673.8 1143.2,671.1C1140.3,668.3 1137.5,665.5 1134.9,662.4C1132.4,659.3 1129.1,654.3 1128.0,652.6" fill="none" stroke="#cccccc" stroke-width="1.4" stroke-linejoin="round" stroke-linecap="round"/>
<path d="M1214.7,646.4C1213.0,647.5 1207.7,650.4 1204.5,652.7C1201.3,655.1 1198.4,657.9 1195.6,660.8C1192.7,663.6 1190.0,666.5 1187.5,669.6C1185.0,672.7 1182.7,676.1 1180.5,679.4C1178.4,682.8 1176.7,686.4 1174.5,689.8C1172.3,693.1 1170.2,696.7 1167.3,699.4C1164.5,702.1 1161.0,704.6 1157.4,706.0C1153.8,707.5 1149.5,708.1 1145.6,707.9C1141.8,707.6 1137.6,706.4 1134.1,704.6C1130.6,702.9 1127.3,700.3 1124.7,697.4C1122.0,694.5 1119.8,691.0 1118.0,687.4C1116.3,683.9 1114.8,678.0 1114.1,676.1" fill="none" stroke="#cccccc" stroke-width="1.4" stroke-linejoin="round" stroke-linecap="round"/>
<path d="M1222.4,646.0C1220.8,647.2 1215.9,650.6 1212.9,653.3C1209.9,655.9 1207.0,658.8 1204.4,661.7C1201.7,664.7 1199.2,667.9 1196.9,671.1C1194.5,674.3 1192.3,677.7 1190.2,681.1C1188.2,684.5 1186.2,688.0 1184.4,691.6C1182.6,695.2 1180.9,698.8 1179.4,702.5C1177.8,706.2 1176.4,709.9 1175.2,713.7C1173.9,717.5 1172.8,721.3 1171.8,725.2C1170.9,729.1 1170.1,733.0 1169.5,737.0C1168.9,740.9 1168.5,744.9 1168.3,748.9C1168.0,752.9 1168.0,756.9 1168.0,760.9C1168.0,764.9 1168.2,768.9 1168.3,772.9C1168.4,776.9 1168.6,780.9 1168.7,784.9C1168.8,788.9 1168.9,792.9 1168.8,796.9C1168.7,800.9 1168.3,806.9 1168.2,808.9" fill="none" stroke="#cccccc" stroke-width="1.4" stroke-linejoin="round" stroke-linecap="round"/>
<path d="M1286.5,652.3C1285.1,653.8 1280.7,657.9 1278.2,661.0C1275.7,664.1 1273.3,667.4 1271.3,670.8C1269.2,674.2 1267.4,677.8 1266.0,681.6C1264.6,685.3 1263.4,689.2 1262.8,693.1C1262.1,697.0 1261.8,701.1 1261.9,705.1C1262.1,709.0 1262.7,713.1 1263.8,716.9C1264.8,720.7 1266.4,724.5 1268.2,728.0C1270.1,731.5 1272.4,734.9 1274.9,737.9C1277.5,741.0 1280.4,743.8 1283.5,746.4C1286.5,748.9 1289.9,751.2 1293.3,753.2C1296.8,755.2 1300.4,756.9 1304.1,758.4C1307.8,759.9 1311.6,761.2 1315.5,762.3C1319.3,763.3 1323.3,764.2 1327.2,764.9C1331.1,765.7 1335.1,766.2 1339.0,766.8C1343.0,767.3 1347.0,767.8 1350.9,768.4C1354.9,768.9 1358.9,769.5 1362.8,770.3C1366.7,771.1 1370.6,772.0 1374.4,773.3C1378.2,774.6 1382.0,776.0 1385.5,777.9C1389.0,779.8 1392.4,782.0 1395.4,784.5C1398.5,787.1 1402.3,791.8 1403.7,793.2" fill="none" stroke="#cccccc" stroke-width="1.4" stroke-linejoin="round" stroke-linecap="round"/>
<path d="M1320.2,634.7C1318.5,635.7 1313.3,638.7 1309.8,640.6C1306.3,642.6 1302.7,644.3 1299.3,646.4C1295.9,648.5 1292.5,650.7 1289.4,653.2C1286.3,655.7 1283.4,658.5 1280.7,661.4C1278.0,664.3 1275.5,667.5 1273.1,670.7C1270.7,673.9 1268.5,677.2 1266.3,680.6C1264.2,684.0 1262.0,687.4 1260.4,691.0C1258.9,694.7 1257.5,698.6 1257.0,702.5C1256.5,706.4 1256.9,710.6 1257.5,714.5C1258.2,718.4 1259.6,722.2 1260.8,726.0C1262.1,729.8 1263.6,733.5 1265.1,737.2C1266.6,740.9 1269.0,746.4 1269.7,748.3" fill="none" stroke="#cccccc" stroke-width="1.4" stroke-linejoin="round" stroke-linecap="round"/>
<path d="M1312.1,659.2C1310.7,660.7 1306.8,665.2 1304.2,668.2C1301.6,671.3 1299.0,674.3 1296.3,677.3C1293.7,680.3 1291.1,683.4 1288.5,686.4C1285.9,689.4 1283.2,692.4 1280.6,695.5C1278.0,698.5 1275.4,701.5 1272.9,704.6C1270.3,707.7 1267.8,710.8 1265.4,714.0C1262.9,717.1 1260.5,720.4 1258.3,723.6C1256.0,726.9 1253.8,730.3 1251.7,733.7C1249.6,737.1 1247.6,740.6 1245.8,744.1C1243.9,747.7 1242.2,751.3 1240.6,754.9C1238.9,758.6 1237.5,762.3 1236.1,766.0C1234.7,769.8 1233.4,773.6 1232.2,777.4C1231.0,781.2 1229.9,785.1 1228.9,788.9C1227.9,792.8 1226.6,798.7 1226.1,800.6" fill="none" stroke="#cccccc" stroke-width="1.4" stroke-linejoin="round" stroke-linecap="round"/>
<path d="M1289.2,658.3C1287.6,659.4 1282.7,662.9 1279.2,664.9C1275.8,667.0 1272.2,668.8 1268.5,670.3C1264.8,671.9 1261.0,673.0 1257.2,674.1C1253.3,675.2 1249.4,676.1 1245.5,676.9C1241.6,677.8 1237.6,678.5 1233.7,679.2C1229.8,679.9 1225.8,680.5 1221.8,681.0C1217.9,681.6 1213.9,682.0 1209.9,682.6C1206.0,683.2 1202.0,683.7 1198.1,684.7C1194.3,685.7 1190.4,686.9 1186.8,688.5C1183.1,690.0 1179.5,692.0 1176.2,694.1C1172.8,696.2 1169.6,698.7 1166.6,701.3C1163.6,703.9 1160.7,706.8 1158.1,709.8C1155.6,712.9 1153.3,716.2 1151.2,719.6C1149.2,723.1 1147.6,726.7 1146.0,730.4C1144.4,734.1 1143.2,737.9 1141.8,741.7C1140.5,745.5 1138.7,751.2 1138.1,753.1" fill="none" stroke="#cccccc" stroke-width="1.4" stroke-linejoin="round" stroke-linecap="round"/>
<path d="M1339.2,704.0C1338.3,705.7 1335.4,711.0 1333.5,714.6C1331.6,718.1 1329.6,721.5 1327.7,725.1C1325.9,728.6 1324.0,732.1 1322.2,735.7C1320.5,739.3 1318.8,743.0 1317.3,746.7C1315.9,750.4 1314.6,754.2 1313.5,758.0C1312.4,761.9 1311.5,765.8 1310.9,769.7C1310.2,773.7 1309.8,777.7 1309.6,781.7C1309.3,785.7 1309.3,791.7 1309.3,793.7" fill="none" stroke="#cccccc" stroke-width="1.4" stroke-linejoin="round" stroke-linecap="round"/>
<path d="M1366.0,648.8C1364.5,650.1 1360.1,654.2 1357.2,656.9C1354.2,659.7 1351.3,662.4 1348.4,665.1C1345.5,667.9 1342.5,670.6 1339.5,673.2C1336.6,675.9 1333.6,678.6 1330.6,681.2C1327.6,683.9 1324.6,686.6 1321.7,689.3C1318.7,692.0 1315.8,694.7 1312.9,697.4C1310.0,700.2 1307.1,703.0 1304.3,705.8C1301.4,708.6 1298.6,711.5 1295.9,714.4C1293.2,717.3 1290.4,720.2 1287.9,723.3C1285.3,726.3 1282.7,729.5 1280.4,732.7C1278.0,735.9 1275.8,739.2 1273.7,742.7C1271.7,746.1 1269.8,749.6 1268.0,753.2C1266.3,756.8 1264.7,760.5 1263.2,764.2C1261.6,767.9 1260.2,771.6 1258.8,775.3C1257.3,779.1 1255.9,782.8 1254.4,786.5C1253.0,790.3 1250.7,795.8 1250.0,797.7" fill="none" stroke="#cccccc" stroke-width="1.4" stroke-linejoin="round" stroke-linecap="round"/>
<path d="M1376.8,652.9C1375.7,654.6 1372.7,659.8 1370.3,663.0C1367.9,666.1 1365.1,669.1 1362.2,671.8C1359.2,674.4 1356.0,676.9 1352.5,678.9C1349.1,680.9 1345.4,682.6 1341.5,683.7C1337.7,684.7 1333.6,685.3 1329.7,685.1C1325.8,684.9 1321.6,684.1 1318.0,682.4C1314.5,680.8 1311.0,678.2 1308.5,675.2C1306.0,672.3 1304.0,668.3 1303.2,664.6C1302.4,660.8 1302.6,656.3 1303.8,652.7C1305.0,649.1 1307.5,645.3 1310.4,642.8C1313.3,640.4 1317.5,638.5 1321.2,638.0C1325.0,637.5 1329.6,638.2 1333.0,639.9C1336.4,641.5 1339.8,644.6 1341.8,647.9C1343.8,651.1 1344.9,655.5 1345.0,659.3C1345.1,663.1 1343.9,667.4 1342.1,670.9C1340.3,674.3 1337.4,677.5 1334.3,679.9C1331.2,682.2 1327.3,683.9 1323.5,685.0C1319.7,686.0 1315.5,686.2 1311.6,685.9C1307.6,685.7 1303.6,684.7 1299.9,683.4C1296.1,682.1 1292.5,680.2 1289.1,678.1C1285.7,676.0 1282.5,673.5 1279.5,671.0C1276.4,668.4 1273.6,665.5 1270.8,662.6C1268.1,659.8 1265.5,656.7 1263.0,653.6C1260.4,650.5 1258.0,647.3 1255.6,644.1C1253.2,641.0 1250.8,637.7 1248.5,634.4C1246.2,631.2 1244.0,627.8 1241.8,624.5C1239.5,621.2 1236.2,616.2 1235.1,614.5" fill="none" stroke="#cccccc" stroke-width="1.4" stroke-linejoin="round" stroke-linecap="round"/>
<path d="M1349.6,673.3C1349.6,675.3 1349.5,681.3 1349.7,685.3C1349.8,689.3 1350.0,693.3 1350.3,697.3C1350.6,701.3 1351.0,705.3 1351.3,709.3C1351.5,713.3 1351.9,717.3 1351.8,721.3C1351.8,725.3 1351.7,729.3 1351.0,733.2C1350.2,737.1 1349.2,741.1 1347.6,744.7C1346.0,748.3 1343.8,751.8 1341.3,754.9C1338.9,758.0 1335.9,760.8 1332.7,763.3C1329.6,765.7 1326.1,767.8 1322.5,769.6C1319.0,771.3 1315.2,772.8 1311.3,773.7C1307.4,774.6 1303.3,775.3 1299.4,775.1C1295.5,774.9 1291.3,774.2 1287.7,772.6C1284.1,771.1 1280.5,768.8 1277.8,766.0C1275.0,763.2 1272.8,759.6 1271.3,756.0C1269.7,752.4 1269.0,748.3 1268.6,744.3C1268.3,740.4 1268.7,736.3 1269.3,732.4C1269.9,728.4 1271.1,724.6 1272.4,720.8C1273.6,717.0 1275.3,713.3 1277.0,709.7C1278.7,706.1 1280.7,702.6 1282.6,699.1C1284.6,695.6 1286.6,692.2 1288.7,688.8C1290.8,685.3 1294.0,680.3 1295.0,678.6" fill="none" stroke="#cccccc" stroke-width="1.4" stroke-linejoin="round" stroke-linecap="round"/>
<path d="M1355.1,665.8C1353.6,667.1 1349.4,671.4 1346.2,673.8C1343.1,676.2 1339.6,678.4 1336.2,680.3C1332.7,682.3 1329.0,684.0 1325.3,685.5C1321.7,687.1 1317.9,688.4 1314.1,689.6C1310.2,690.8 1306.4,691.8 1302.5,692.7C1298.6,693.5 1294.6,694.1 1290.6,694.7C1286.7,695.4 1282.6,695.7 1278.8,696.7C1275.0,697.7 1270.9,698.8 1267.6,700.8C1264.3,702.9 1261.0,705.8 1258.9,709.0C1256.8,712.3 1255.6,716.4 1255.0,720.3C1254.4,724.1 1255.2,730.2 1255.3,732.2" fill="none" stroke="#cccccc" stroke-width="1.4" stroke-linejoin="round" stroke-linecap="round"/>
<path d="M1342.7,691.8C1342.6,693.8 1342.7,699.8 1342.1,703.8C1341.5,707.7 1340.6,711.7 1339.2,715.4C1337.7,719.1 1335.8,722.7 1333.4,725.9C1331.0,729.0 1328.0,731.9 1324.8,734.2C1321.5,736.4 1317.8,738.2 1314.0,739.4C1310.3,740.6 1306.2,741.2 1302.2,741.4C1298.3,741.5 1294.2,741.1 1290.3,740.4C1286.3,739.7 1282.5,738.5 1278.7,737.3C1274.9,736.0 1271.2,734.5 1267.5,732.9C1263.8,731.4 1260.2,729.7 1256.5,728.1C1252.9,726.5 1249.2,724.8 1245.5,723.3C1241.9,721.7 1238.2,720.2 1234.4,718.8C1230.7,717.3 1226.9,716.0 1223.1,714.7C1219.4,713.3 1215.6,712.1 1211.8,710.9C1207.9,709.6 1204.1,708.5 1200.3,707.3C1196.5,706.1 1192.6,705.0 1188.8,703.9C1184.9,702.8 1181.1,701.7 1177.2,700.7C1173.4,699.7 1169.5,698.7 1165.6,697.9C1161.7,697.0 1157.7,696.2 1153.8,695.6C1149.8,694.9 1145.9,694.4 1141.9,694.0C1137.9,693.5 1133.9,693.2 1129.9,693.0C1125.9,692.7 1122.0,692.6 1118.0,692.4C1114.0,692.2 1110.0,692.1 1106.0,691.9C1102.0,691.8 1098.0,691.6 1094.0,691.3C1090.0,691.0 1086.0,690.7 1082.0,690.2C1078.1,689.8 1074.1,689.3 1070.1,688.7C1066.2,688.2 1062.2,687.5 1058.3,686.9C1054.3,686.3 1050.4,685.7 1046.4,685.1C1042.4,684.6 1038.5,684.1 1034.5,683.8C1030.5,683.4 1026.5,683.2 1022.5,683.1C1018.5,683.0 1014.5,683.1 1010.5,683.4C1006.5,683.6 1000.5,684.4 998.6,684.5" fill="none" stroke="#cccccc" stroke-width="1.4" stroke-linejoin="round" stroke-linecap="round"/>
<path d="M1293.5,713.0C1292.1,714.4 1287.8,718.6 1284.9,721.3C1282.0,724.1 1279.0,726.8 1276.1,729.5C1273.2,732.3 1270.3,735.0 1267.4,737.8C1264.5,740.6 1261.8,743.5 1258.9,746.2C1256.0,749.0 1253.2,751.9 1250.1,754.4C1247.1,757.0 1243.9,759.5 1240.5,761.6C1237.1,763.6 1233.4,765.4 1229.7,766.8C1226.0,768.2 1222.0,769.2 1218.1,769.9C1214.2,770.7 1210.2,771.0 1206.2,771.3C1202.2,771.7 1198.2,771.7 1194.2,771.8C1190.2,771.8 1186.2,771.8 1182.2,771.6C1178.2,771.5 1174.2,771.3 1170.3,770.9C1166.3,770.6 1162.3,770.2 1158.3,769.7C1154.3,769.3 1150.4,768.7 1146.4,768.2C1142.4,767.8 1138.5,767.2 1134.5,767.0C1130.5,766.8 1126.5,766.6 1122.5,766.9C1118.5,767.2 1112.6,768.5 1110.7,768.9" fill="none" stroke="#cccccc" stroke-width="1.4" stroke-linejoin="round" stroke-linecap="round"/>
<path d="M1383.3,690.9C1382.1,692.5 1378.7,697.5 1375.9,700.4C1373.1,703.2 1370.0,705.8 1366.6,707.9C1363.3,710.1 1359.6,711.9 1355.8,713.2C1352.1,714.5 1348.1,715.4 1344.2,715.8C1340.2,716.2 1336.1,716.2 1332.2,715.6C1328.3,715.0 1324.2,714.0 1320.7,712.4C1317.1,710.7 1313.5,708.5 1310.7,705.8C1307.8,703.1 1305.2,699.7 1303.6,696.1C1302.0,692.6 1301.1,688.4 1301.0,684.5C1301.0,680.6 1301.9,676.4 1303.5,672.8C1305.0,669.2 1307.5,665.8 1310.3,663.0C1313.1,660.3 1316.6,657.9 1320.1,656.2C1323.6,654.4 1327.6,653.1 1331.4,652.2C1335.3,651.4 1339.4,651.0 1343.3,650.9C1347.3,650.8 1351.3,651.1 1355.3,651.5C1359.3,652.0 1363.2,652.8 1367.1,653.7C1371.0,654.5 1374.9,655.6 1378.7,656.6C1382.6,657.6 1386.4,658.8 1390.3,659.7C1394.2,660.5 1398.2,661.4 1402.1,661.8C1406.1,662.2 1410.2,662.5 1414.1,662.2C1418.1,661.8 1422.1,661.1 1425.9,659.9C1429.7,658.7 1433.4,656.9 1436.7,654.8C1440.1,652.7 1443.2,650.1 1446.0,647.2C1448.7,644.3 1451.1,641.0 1453.2,637.6C1455.2,634.2 1456.9,630.5 1458.2,626.7C1459.5,623.0 1460.5,617.0 1461.0,615.1" fill="none" stroke="#cccccc" stroke-width="1.4" stroke-linejoin="round" stroke-linecap="round"/>
<path d="M1377.6,721.8C1377.8,723.8 1378.5,729.8 1379.1,733.8C1379.6,737.7 1380.3,741.7 1381.1,745.6C1381.9,749.5 1382.8,753.4 1383.9,757.3C1384.9,761.1 1386.1,764.9 1387.5,768.7C1388.8,772.5 1390.3,776.2 1391.8,779.9C1393.4,783.6 1395.9,789.0 1396.7,790.8" fill="none" stroke="#cccccc" stroke-width="1.4" stroke-linejoin="round" stroke-linecap="round"/>
<path d="M1382.2,688.1C1381.2,689.8 1378.4,695.1 1376.3,698.5C1374.2,701.9 1372.1,705.4 1369.7,708.5C1367.2,711.7 1364.6,714.8 1361.6,717.4C1358.6,720.0 1355.2,722.2 1351.7,724.1C1348.2,726.1 1344.4,727.4 1340.7,729.0C1337.0,730.6 1333.2,731.9 1329.7,733.8C1326.2,735.7 1322.9,737.9 1319.7,740.4C1316.6,742.9 1313.8,745.8 1311.1,748.7C1308.3,751.6 1305.7,754.6 1303.2,757.7C1300.7,760.9 1298.4,764.2 1296.1,767.4C1293.8,770.7 1291.7,774.1 1289.4,777.4C1287.0,780.6 1283.1,785.2 1281.9,786.7" fill="none" stroke="#cccccc" stroke-width="1.4" stroke-linejoin="round" stroke-linecap="round"/>
<path d="M1354.5,685.8C1352.9,687.0 1348.2,690.8 1344.7,692.8C1341.3,694.7 1337.4,695.9 1333.7,697.4C1329.9,698.8 1326.1,700.0 1322.4,701.4C1318.6,702.7 1314.9,704.1 1311.1,705.5C1307.3,706.8 1303.6,708.2 1299.8,709.4C1295.9,710.7 1292.1,711.8 1288.2,712.8C1284.3,713.7 1280.4,714.4 1276.5,715.1C1272.5,715.8 1268.5,716.1 1264.6,716.8C1260.7,717.5 1256.7,718.2 1252.9,719.4C1249.1,720.6 1245.3,722.2 1241.9,724.2C1238.4,726.1 1235.2,728.6 1232.2,731.2C1229.2,733.8 1225.1,738.3 1223.7,739.7" fill="none" stroke="#cccccc" stroke-width="1.4" stroke-linejoin="round" stroke-linecap="round"/>
<path d="M1388.5,688.8C1388.1,690.8 1387.0,696.7 1386.4,700.6C1385.9,704.6 1385.5,708.6 1385.2,712.6C1384.8,716.5 1384.6,720.5 1384.5,724.5C1384.3,728.5 1384.3,732.5 1384.2,736.5C1384.2,740.5 1384.2,744.5 1384.2,748.5C1384.3,752.5 1384.3,756.5 1384.3,760.5C1384.3,764.5 1384.3,768.5 1384.3,772.5C1384.2,776.5 1384.0,782.5 1383.9,784.5" fill="none" stroke="#cccccc" stroke-width="1.4" stroke-linejoin="round" stroke-linecap="round"/>
<path d="M1411.2,689.6C1411.0,691.6 1410.4,697.5 1409.7,701.5C1409.0,705.4 1408.1,709.3 1407.2,713.2C1406.2,717.1 1405.1,720.9 1404.0,724.8C1402.9,728.6 1401.6,732.4 1400.5,736.3C1399.3,740.1 1398.0,743.9 1396.8,747.7C1395.7,751.5 1394.4,755.3 1393.5,759.2C1392.7,763.1 1391.9,767.1 1391.5,771.1C1391.2,775.0 1391.3,779.1 1391.6,783.0C1392.0,787.0 1393.2,792.9 1393.5,794.9" fill="none" stroke="#cccccc" stroke-width="1.4" stroke-linejoin="round" stroke-linecap="round"/>
<path d="M1395.9,743.3C1396.2,745.3 1396.8,751.2 1397.7,755.1C1398.6,759.0 1399.9,762.8 1401.3,766.6C1402.7,770.3 1404.4,773.9 1406.2,777.5C1408.0,781.1 1411.0,786.3 1412.0,788.0" fill="none" stroke="#cccccc" stroke-width="1.4" stroke-linejoin="round" stroke-linecap="round"/>
<path d="M1360.7,673.4C1360.3,675.4 1359.0,681.2 1358.4,685.2C1357.7,689.1 1357.0,693.1 1356.6,697.0C1356.1,701.0 1355.8,705.0 1355.5,709.0C1355.2,713.0 1354.9,717.0 1354.6,721.0C1354.4,724.9 1354.2,728.9 1354.0,732.9C1353.7,736.9 1353.6,740.9 1353.3,744.9C1353.0,748.9 1352.5,752.9 1352.0,756.8C1351.4,760.8 1350.7,764.7 1350.0,768.7C1349.2,772.6 1348.3,776.5 1347.5,780.4C1346.7,784.3 1345.4,790.2 1345.0,792.1" fill="none" stroke="#cccccc" stroke-width="1.4" stroke-linejoin="round" stroke-linecap="round"/>
<path d="M1395.9,678.2C1395.7,680.2 1394.4,686.1 1394.4,690.1C1394.5,694.0 1395.1,698.1 1396.1,701.9C1397.2,705.7 1398.8,709.6 1400.8,713.0C1402.8,716.4 1405.3,719.7 1408.2,722.3C1411.1,725.0 1414.6,727.4 1418.2,729.0C1421.7,730.6 1425.8,731.6 1429.7,732.0C1433.7,732.3 1437.8,731.9 1441.7,731.0C1445.5,730.0 1449.3,728.3 1452.7,726.4C1456.2,724.5 1459.4,721.9 1462.4,719.3C1465.4,716.7 1468.1,713.7 1470.8,710.8C1473.5,707.8 1475.9,704.6 1478.5,701.6C1481.0,698.5 1483.5,695.3 1486.0,692.2C1488.6,689.2 1491.2,686.1 1493.8,683.1C1496.5,680.1 1499.2,677.2 1502.0,674.4C1504.9,671.5 1507.8,668.8 1510.8,666.1C1513.8,663.5 1516.8,660.9 1520.1,658.5C1523.3,656.2 1526.6,653.9 1530.1,652.0C1533.7,650.2 1537.3,648.4 1541.1,647.3C1544.9,646.1 1551.0,645.5 1552.9,645.2" fill="none" stroke="#cccccc" stroke-width="1.4" stroke-linejoin="round" stroke-linecap="round"/>
<path d="M1431.3,701.8C1431.8,703.8 1433.0,709.6 1434.3,713.4C1435.6,717.2 1437.1,720.9 1439.0,724.5C1440.8,728.0 1442.9,731.5 1445.2,734.7C1447.6,737.9 1450.2,741.0 1453.0,743.8C1455.9,746.5 1459.1,749.1 1462.5,751.1C1466.0,753.0 1469.8,754.8 1473.6,755.6C1477.4,756.5 1481.7,756.9 1485.5,756.3C1489.4,755.7 1493.5,754.2 1496.7,752.0C1499.8,749.8 1502.8,746.4 1504.3,742.9C1505.8,739.4 1506.4,734.8 1505.7,731.1C1505.0,727.4 1502.7,723.3 1500.0,720.8C1497.2,718.2 1492.9,716.3 1489.2,715.8C1485.4,715.4 1480.9,716.2 1477.5,717.9C1474.0,719.5 1470.7,722.5 1468.4,725.6C1466.2,728.7 1464.6,732.8 1463.9,736.6C1463.2,740.4 1463.3,744.7 1464.2,748.6C1465.1,752.4 1466.8,756.3 1469.0,759.5C1471.2,762.7 1474.3,765.7 1477.5,767.9C1480.7,770.1 1484.7,771.8 1488.5,772.6C1492.3,773.4 1496.6,773.5 1500.4,772.8C1504.3,772.1 1508.3,770.6 1511.5,768.4C1514.7,766.2 1517.7,763.1 1519.8,759.8C1521.9,756.6 1523.4,752.5 1523.9,748.6C1524.5,744.8 1524.1,740.5 1523.1,736.7C1522.1,733.0 1520.1,729.2 1517.8,726.0C1515.4,722.9 1512.3,720.1 1509.0,717.9C1505.8,715.7 1502.0,714.0 1498.2,712.7C1494.5,711.5 1490.4,710.8 1486.5,710.4C1482.5,709.9 1478.5,710.0 1474.5,710.1C1470.5,710.2 1466.5,710.7 1462.5,711.0C1458.5,711.4 1454.6,712.0 1450.6,712.4C1446.6,712.7 1440.6,713.0 1438.6,713.1" fill="none" stroke="#cccccc" stroke-width="1.4" stroke-linejoin="round" stroke-linecap="round"/>
<path d="M1425.2,704.3C1425.3,706.3 1425.8,712.3 1426.0,716.3C1426.3,720.3 1426.3,724.3 1426.6,728.3C1426.8,732.3 1427.0,736.3 1427.4,740.3C1427.8,744.2 1428.3,748.2 1429.0,752.2C1429.7,756.1 1430.6,760.0 1431.7,763.8C1432.8,767.7 1434.1,771.5 1435.6,775.2C1437.1,778.9 1440.0,784.2 1440.9,786.0" fill="none" stroke="#cccccc" stroke-width="1.4" stroke-linejoin="round" stroke-linecap="round"/>
<path d="M1443.4,745.3C1443.8,747.2 1445.2,753.1 1446.1,757.0C1446.9,760.9 1448.0,764.8 1448.7,768.7C1449.4,772.6 1450.0,778.6 1450.3,780.6" fill="none" stroke="#cccccc" stroke-width="1.4" stroke-linejoin="round" stroke-linecap="round"/>
<path d="M1395.9,723.8C1395.5,725.8 1394.6,731.8 1393.5,735.6C1392.3,739.4 1390.6,743.1 1388.9,746.7C1387.2,750.3 1385.0,753.6 1383.1,757.2C1381.3,760.7 1379.4,764.3 1377.9,768.0C1376.4,771.7 1375.2,775.5 1374.3,779.4C1373.4,783.3 1372.9,789.3 1372.6,791.3" fill="none" stroke="#cccccc" stroke-width="1.4" stroke-linejoin="round" stroke-linecap="round"/>
<path d="M1423.3,720.0C1422.7,721.9 1420.8,727.6 1419.8,731.5C1418.8,735.3 1418.0,739.3 1417.1,743.2C1416.1,747.0 1415.1,750.9 1413.8,754.7C1412.6,758.5 1411.2,762.3 1409.8,766.0C1408.4,769.8 1406.8,773.4 1405.5,777.2C1404.1,781.0 1402.4,786.7 1401.7,788.6" fill="none" stroke="#cccccc" stroke-width="1.4" stroke-linejoin="round" stroke-linecap="round"/>
<path d="M1406.5,720.0C1406.3,722.0 1405.9,728.0 1405.4,732.0C1405.0,736.0 1404.4,739.9 1403.7,743.9C1403.0,747.8 1402.2,751.7 1401.3,755.6C1400.4,759.5 1399.3,763.4 1398.2,767.2C1397.2,771.1 1396.0,774.9 1394.9,778.7C1393.8,782.6 1392.2,788.4 1391.6,790.3" fill="none" stroke="#cccccc" stroke-width="1.4" stroke-linejoin="round" stroke-linecap="round"/>
<path d="M1453.4,689.7C1454.6,691.3 1458.0,696.3 1460.4,699.4C1462.8,702.6 1465.4,705.6 1468.0,708.7C1470.6,711.8 1473.2,714.8 1475.7,717.9C1478.3,721.0 1480.9,724.1 1483.1,727.4C1485.4,730.6 1487.6,734.0 1489.3,737.6C1490.9,741.3 1492.1,745.2 1492.9,749.0C1493.7,752.9 1493.9,757.0 1494.1,761.0C1494.4,765.0 1494.3,769.0 1494.4,773.0C1494.6,777.0 1495.0,783.0 1495.1,785.0" fill="none" stroke="#cccccc" stroke-width="1.4" stroke-linejoin="round" stroke-linecap="round"/>
<path d="M1471.6,668.1C1471.9,670.0 1472.2,676.1 1473.3,679.9C1474.3,683.7 1475.9,687.5 1477.8,691.0C1479.7,694.5 1482.1,697.8 1484.8,700.8C1487.4,703.7 1490.5,706.4 1493.7,708.8C1496.9,711.1 1500.4,713.1 1504.0,714.8C1507.6,716.5 1511.5,717.8 1515.3,719.0C1519.1,720.1 1523.0,720.9 1526.9,721.8C1530.8,722.7 1534.8,723.3 1538.7,724.2C1542.6,725.1 1548.3,726.8 1550.3,727.3" fill="none" stroke="#cccccc" stroke-width="1.4" stroke-linejoin="round" stroke-linecap="round"/>
<path d="M1476.2,703.5C1477.8,704.8 1482.3,708.7 1485.4,711.2C1488.6,713.7 1491.8,716.1 1495.0,718.5C1498.2,720.9 1501.4,723.2 1504.6,725.7C1507.7,728.2 1510.8,730.8 1513.7,733.5C1516.5,736.3 1519.3,739.2 1521.7,742.4C1524.1,745.6 1526.3,749.1 1528.0,752.7C1529.6,756.3 1531.1,762.1 1531.7,764.0" fill="none" stroke="#cccccc" stroke-width="1.4" stroke-linejoin="round" stroke-linecap="round"/>
<path d="M1459.6,731.5C1459.4,733.5 1459.4,739.5 1458.8,743.4C1458.2,747.4 1457.3,751.3 1456.2,755.1C1455.0,758.9 1453.5,762.7 1451.9,766.3C1450.3,770.0 1448.4,773.5 1446.5,777.1C1444.6,780.6 1441.5,785.7 1440.5,787.4" fill="none" stroke="#cccccc" stroke-width="1.4" stroke-linejoin="round" stroke-linecap="round"/>
<path d="M1488.6,698.7C1489.5,700.5 1492.0,705.9 1493.9,709.5C1495.7,713.0 1497.7,716.5 1499.7,720.0C1501.8,723.4 1504.0,726.7 1506.2,730.1C1508.4,733.4 1510.8,736.6 1513.0,740.0C1515.2,743.3 1517.4,746.6 1519.4,750.1C1521.4,753.6 1523.9,759.0 1524.7,760.8" fill="none" stroke="#cccccc" stroke-width="1.4" stroke-linejoin="round" stroke-linecap="round"/>
<path d="M1435.1,684.3C1435.6,686.2 1436.4,692.3 1438.0,695.9C1439.7,699.4 1442.2,702.9 1445.0,705.6C1447.8,708.3 1451.4,710.6 1455.0,712.1C1458.6,713.6 1462.8,714.5 1466.7,714.6C1470.6,714.6 1474.9,713.9 1478.4,712.4C1482.0,710.9 1485.6,708.5 1488.2,705.6C1490.8,702.7 1493.0,698.9 1494.0,695.2C1495.0,691.4 1495.0,687.0 1494.2,683.3C1493.4,679.5 1491.4,675.6 1489.0,672.5C1486.6,669.5 1483.2,666.8 1479.8,664.9C1476.4,663.0 1472.3,661.8 1468.4,661.2C1464.6,660.5 1460.4,660.6 1456.5,661.1C1452.6,661.6 1448.6,662.8 1445.0,664.4C1441.4,666.0 1437.8,668.2 1434.8,670.8C1431.8,673.3 1429.1,676.4 1426.9,679.7C1424.8,683.1 1423.1,686.9 1422.1,690.7C1421.1,694.5 1420.7,698.6 1420.8,702.6C1421.0,706.5 1421.8,710.6 1423.0,714.4C1424.2,718.1 1426.1,721.8 1428.1,725.2C1430.1,728.7 1432.6,731.9 1435.1,734.9C1437.6,738.0 1440.5,740.9 1443.3,743.7C1446.1,746.5 1449.1,749.2 1452.0,751.9C1454.9,754.7 1457.9,757.3 1460.8,760.1C1463.7,762.9 1466.6,765.6 1469.4,768.5C1472.1,771.4 1474.8,774.4 1477.2,777.6C1479.7,780.7 1482.8,785.8 1484.0,787.5" fill="none" stroke="#cccccc" stroke-width="1.4" stroke-linejoin="round" stroke-linecap="round"/>
<path d="M1478.4,681.0C1479.0,683.0 1480.7,688.7 1481.8,692.6C1482.9,696.4 1483.8,700.3 1485.0,704.1C1486.1,708.0 1487.2,711.8 1488.6,715.5C1490.0,719.3 1491.6,723.0 1493.3,726.6C1495.0,730.2 1497.0,733.7 1499.0,737.2C1501.0,740.6 1503.3,743.9 1505.4,747.3C1507.6,750.7 1509.9,753.9 1511.9,757.4C1513.9,760.8 1516.6,766.2 1517.5,768.0" fill="none" stroke="#cccccc" stroke-width="1.4" stroke-linejoin="round" stroke-linecap="round"/>
<path d="M1472.5,707.9C1473.5,709.6 1476.6,714.7 1478.6,718.2C1480.6,721.7 1482.5,725.1 1484.5,728.6C1486.5,732.1 1488.4,735.6 1490.3,739.2C1492.2,742.7 1494.0,746.2 1495.9,749.8C1497.7,753.3 1499.5,756.9 1501.3,760.5C1503.1,764.1 1505.6,769.5 1506.5,771.3" fill="none" stroke="#cccccc" stroke-width="1.4" stroke-linejoin="round" stroke-linecap="round"/>
<path d="M1471.0,678.8C1470.8,680.8 1470.2,686.8 1469.6,690.8C1469.0,694.7 1468.3,698.6 1467.5,702.6C1466.6,706.5 1465.7,710.4 1464.6,714.2C1463.6,718.1 1462.4,721.9 1461.2,725.7C1460.0,729.5 1458.8,733.3 1457.5,737.1C1456.2,740.9 1454.8,744.7 1453.5,748.4C1452.2,752.2 1450.8,756.0 1449.5,759.7C1448.1,763.5 1446.8,767.3 1445.5,771.1C1444.3,774.9 1442.5,780.6 1441.9,782.5" fill="none" stroke="#cccccc" stroke-width="1.4" stroke-linejoin="round" stroke-linecap="round"/>
<path d="M1158.7,650.0C1154.7,650.4 1145.2,651.9 1134.7,652.5C1124.2,653.1 1110.5,652.7 1096.0,653.7C1081.5,654.7 1060.0,656.5 1048.0,658.5C1036.0,660.5 1032.0,661.3 1024.0,665.7C1016.0,670.1 1007.2,679.5 1000.0,685.0C992.8,690.5 989.0,691.8 981.0,699.0C973.0,706.2 960.8,716.7 952.0,728.0C943.2,739.3 934.8,754.1 928.0,766.6C921.2,779.1 915.4,793.5 911.0,802.7C906.6,811.9 904.8,818.0 901.6,822.0C898.4,826.0 893.6,825.9 892.0,826.7" fill="none" stroke="#cccccc" stroke-width="1.4" stroke-linejoin="round" stroke-linecap="round"/>
<path d="M1300.0,723.0C1294.1,721.5 1278.3,718.1 1264.4,713.8C1250.5,709.5 1236.4,703.0 1216.4,697.0C1196.4,691.0 1164.4,681.1 1144.3,677.7C1124.2,674.3 1108.0,676.5 1096.0,676.5C1084.0,676.5 1084.0,677.5 1072.0,677.7C1060.0,677.9 1035.2,676.9 1024.0,677.7C1012.8,678.5 1009.4,679.7 1005.0,682.5C1000.6,685.3 998.5,690.6 997.7,694.6C996.9,698.6 998.8,705.4 1000.0,706.6C1001.2,707.8 1004.5,704.6 1005.0,701.8C1005.5,699.0 1003.3,692.0 1003.0,690.0" fill="none" stroke="#cccccc" stroke-width="1.4" stroke-linejoin="round" stroke-linecap="round"/>
<path d="M1288.5,728.0C1282.1,727.0 1262.1,723.6 1250.0,722.0C1237.9,720.4 1233.7,718.4 1216.0,718.6C1198.3,718.8 1166.0,719.8 1144.0,723.4C1122.0,727.0 1100.0,733.2 1084.0,740.0C1068.0,746.8 1058.0,756.0 1048.0,764.0C1038.0,772.0 1033.2,779.2 1024.0,788.0C1014.8,796.8 998.2,812.2 993.0,817.0" fill="none" stroke="#cccccc" stroke-width="1.4" stroke-linejoin="round" stroke-linecap="round"/>
<path d="M1240.0,632.0C1232.0,636.0 1206.0,646.0 1192.0,656.0C1178.0,666.0 1168.0,680.0 1156.0,692.0C1144.0,704.0 1130.0,720.4 1120.0,728.0C1110.0,735.6 1100.0,736.2 1096.0,737.8" fill="none" stroke="#cccccc" stroke-width="1.4" stroke-linejoin="round" stroke-linecap="round"/>
<path d="M1252.0,567.0C1246.0,569.0 1224.7,572.2 1216.0,579.0C1207.3,585.8 1203.6,595.2 1199.6,608.0C1195.6,620.8 1197.3,642.0 1192.0,656.0C1186.7,670.0 1178.0,680.0 1168.0,692.0C1158.0,704.0 1142.0,714.0 1132.0,728.0C1122.0,742.0 1118.0,760.0 1108.0,776.0C1098.0,792.0 1080.0,815.2 1072.0,824.0C1064.0,832.8 1062.0,828.2 1060.0,829.0" fill="none" stroke="#cccccc" stroke-width="1.4" stroke-linejoin="round" stroke-linecap="round"/>
<path d="M1300.0,640.0C1291.7,643.3 1270.0,650.0 1250.0,660.0C1230.0,670.0 1198.3,686.7 1180.0,700.0C1161.7,713.3 1150.0,725.0 1140.0,740.0C1130.0,755.0 1120.8,779.2 1120.0,790.0C1119.2,800.8 1128.3,802.5 1135.0,805.0C1141.7,807.5 1149.2,807.5 1160.0,805.0C1170.8,802.5 1186.7,797.5 1200.0,790.0C1213.3,782.5 1233.3,765.0 1240.0,760.0" fill="none" stroke="#cccccc" stroke-width="1.4" stroke-linejoin="round" stroke-linecap="round"/>
<path d="M1380.0,700.0C1371.7,703.3 1345.0,712.5 1330.0,720.0C1315.0,727.5 1301.7,735.0 1290.0,745.0C1278.3,755.0 1268.3,770.8 1260.0,780.0C1251.7,789.2 1250.0,794.2 1240.0,800.0C1230.0,805.8 1211.7,810.0 1200.0,815.0C1188.3,820.0 1175.0,827.5 1170.0,830.0" fill="none" stroke="#cccccc" stroke-width="1.4" stroke-linejoin="round" stroke-linecap="round"/>
<path d="M1420.0,700.0C1416.7,706.7 1406.7,728.3 1400.0,740.0C1393.3,751.7 1390.0,761.7 1380.0,770.0C1370.0,778.3 1353.3,785.0 1340.0,790.0C1326.7,795.0 1313.3,798.7 1300.0,800.0C1286.7,801.3 1266.7,798.3 1260.0,798.0" fill="none" stroke="#cccccc" stroke-width="1.4" stroke-linejoin="round" stroke-linecap="round"/>
<path d="M1500.0,700.0C1505.0,705.0 1523.3,718.3 1530.0,730.0C1536.7,741.7 1541.7,759.2 1540.0,770.0C1538.3,780.8 1530.0,789.2 1520.0,795.0C1510.0,800.8 1495.0,804.2 1480.0,805.0C1465.0,805.8 1445.0,804.2 1430.0,800.0C1415.0,795.8 1396.7,783.3 1390.0,780.0" fill="none" stroke="#cccccc" stroke-width="1.4" stroke-linejoin="round" stroke-linecap="round"/>
<path d="M1460.0,690.0C1466.7,683.3 1486.7,661.7 1500.0,650.0C1513.3,638.3 1530.0,621.7 1540.0,620.0C1550.0,618.3 1557.5,630.0 1560.0,640.0C1562.5,650.0 1560.0,671.7 1555.0,680.0C1550.0,688.3 1534.2,688.3 1530.0,690.0" fill="none" stroke="#cccccc" stroke-width="1.4" stroke-linejoin="round" stroke-linecap="round"/>
<path d="M1350.0,660.0C1341.7,658.3 1315.0,648.3 1300.0,650.0C1285.0,651.7 1271.7,661.7 1260.0,670.0C1248.3,678.3 1238.3,688.3 1230.0,700.0C1221.7,711.7 1215.0,726.7 1210.0,740.0C1205.0,753.3 1201.7,773.3 1200.0,780.0" fill="none" stroke="#cccccc" stroke-width="1.4" stroke-linejoin="round" stroke-linecap="round"/>
<path d="M1497.0,342.0C1496.7,344.2 1496.0,350.8 1495.3,355.2C1494.6,359.7 1493.8,364.2 1492.7,368.6C1491.5,373.0 1489.9,377.2 1488.5,381.5C1487.0,385.8 1485.5,390.1 1483.9,394.3C1482.4,398.5 1481.0,402.8 1479.0,406.8C1477.0,410.8 1474.4,414.4 1472.2,418.2C1469.9,422.0 1467.9,425.8 1465.6,429.5C1463.3,433.2 1461.2,437.0 1458.4,440.3C1455.5,443.5 1451.8,446.1 1448.3,448.9C1444.9,451.8 1441.3,454.7 1437.5,457.6C1433.7,460.6 1429.8,463.5 1425.8,466.5C1421.8,469.6 1417.6,472.7 1413.5,475.9C1409.4,479.1 1405.2,482.4 1401.1,485.7C1397.1,489.1 1393.1,492.5 1389.3,495.9C1385.6,499.2 1381.9,502.6 1378.5,505.9C1375.1,509.1 1371.8,512.2 1368.7,515.2C1365.6,518.2 1362.9,521.1 1360.0,523.8C1357.1,526.5 1354.3,528.9 1351.3,531.2C1348.4,533.6 1345.4,535.7 1342.1,537.8C1338.8,540.0 1335.4,542.2 1331.6,544.4C1327.7,546.5 1323.4,548.5 1319.0,550.9C1314.6,553.3 1309.9,555.9 1305.1,558.8C1300.3,561.7 1295.3,564.9 1290.3,568.3C1285.4,571.6 1280.3,575.3 1275.5,579.0C1270.6,582.6 1266.1,586.9 1261.3,590.2C1256.5,593.5 1251.3,596.1 1246.7,598.9C1242.2,601.7 1237.8,604.3 1233.7,606.9C1229.7,609.4 1225.9,611.8 1222.3,614.2C1218.8,616.6 1215.5,618.9 1212.3,621.3C1209.0,623.7 1206.1,626.3 1203.0,628.7C1199.9,631.1 1196.9,633.5 1193.6,635.9C1190.4,638.2 1187.0,640.4 1183.5,642.6C1180.1,644.9 1174.7,648.3 1172.9,649.4" fill="none" stroke="#686868" stroke-width="1.5" stroke-linejoin="round" stroke-linecap="round"/>
<path d="M1497.0,342.0C1496.8,344.3 1496.4,351.3 1495.8,355.8C1495.2,360.4 1494.5,365.0 1493.4,369.4C1492.3,373.8 1490.9,378.0 1489.4,382.3C1488.0,386.6 1486.5,390.9 1484.8,395.2C1483.1,399.4 1481.6,403.7 1479.4,407.7C1477.2,411.7 1474.2,415.3 1471.6,419.1C1469.1,422.9 1466.6,426.9 1464.1,430.7C1461.5,434.5 1459.3,438.6 1456.4,442.1C1453.6,445.6 1450.1,448.5 1447.0,451.8C1444.0,455.1 1441.0,458.4 1438.1,461.7C1435.1,464.9 1432.2,468.2 1429.3,471.5C1426.4,474.7 1423.5,477.9 1420.6,481.0C1417.8,484.1 1414.9,487.1 1412.0,490.0C1409.1,493.0 1406.1,495.9 1403.3,498.7C1400.4,501.6 1397.6,504.4 1394.8,507.3C1392.0,510.2 1389.2,513.0 1386.6,516.1C1383.9,519.2 1381.5,522.4 1378.9,525.8C1376.4,529.1 1373.9,532.6 1371.3,536.1C1368.7,539.6 1366.1,543.3 1363.3,546.9C1360.5,550.5 1357.7,554.3 1354.6,557.8C1351.5,561.2 1348.0,564.4 1344.5,567.6C1341.1,570.7 1337.4,573.7 1333.8,576.6C1330.2,579.5 1326.5,582.2 1322.8,584.8C1319.2,587.4 1315.6,589.9 1312.0,592.3C1308.5,594.8 1305.3,597.5 1301.8,599.6C1298.2,601.6 1294.2,602.9 1290.5,604.6C1286.9,606.3 1283.3,608.0 1279.8,609.7C1276.2,611.5 1272.8,613.4 1269.2,615.2C1265.7,617.0 1262.2,618.8 1258.7,620.6C1255.1,622.4 1249.6,625.0 1247.8,625.9" fill="none" stroke="#686868" stroke-width="1.5" stroke-linejoin="round" stroke-linecap="round"/>
<path d="M1497.0,342.0C1496.8,344.2 1496.6,350.9 1496.0,355.3C1495.4,359.7 1494.6,364.2 1493.4,368.6C1492.1,372.9 1490.2,377.1 1488.5,381.4C1486.8,385.6 1485.0,390.0 1483.2,394.3C1481.3,398.5 1479.5,402.9 1477.2,407.0C1474.9,411.1 1471.8,414.8 1469.2,418.7C1466.6,422.7 1464.1,426.7 1461.5,430.6C1458.9,434.4 1456.6,438.5 1453.7,442.0C1450.8,445.4 1447.2,448.3 1444.0,451.4C1440.8,454.6 1437.7,457.7 1434.5,460.9C1431.4,464.1 1428.3,467.2 1425.1,470.4C1422.0,473.5 1418.8,476.7 1415.5,479.8C1412.3,482.9 1409.0,486.1 1405.7,489.2C1402.3,492.3 1398.9,495.3 1395.5,498.4C1392.1,501.4 1388.7,504.4 1385.2,507.3C1381.8,510.3 1378.3,513.1 1375.0,516.1C1371.6,519.1 1368.4,522.1 1365.0,525.1C1361.7,528.1 1358.4,531.1 1355.0,534.2C1351.5,537.2 1348.1,540.3 1344.5,543.4C1340.9,546.5 1337.4,549.7 1333.5,552.8C1329.6,555.9 1325.5,558.8 1321.4,561.8C1317.3,564.8 1313.1,567.8 1309.1,570.8C1305.0,573.8 1301.0,576.9 1297.1,579.8C1293.2,582.8 1289.5,585.8 1285.8,588.8C1282.1,591.7 1278.9,595.0 1275.1,597.6C1271.2,600.1 1267.0,601.8 1262.7,604.0C1258.4,606.2 1254.0,608.3 1249.2,610.6C1244.4,612.9 1239.2,615.2 1233.7,617.6C1228.2,620.1 1222.3,622.6 1216.2,625.3C1210.1,627.9 1203.6,630.8 1197.3,633.5C1191.0,636.2 1181.5,640.1 1178.4,641.4" fill="none" stroke="#686868" stroke-width="1.5" stroke-linejoin="round" stroke-linecap="round"/>
<path d="M1497.0,342.0C1496.4,344.2 1494.8,350.9 1493.6,355.4C1492.5,359.8 1491.6,364.3 1490.2,368.6C1488.8,373.0 1486.9,377.0 1485.2,381.2C1483.6,385.4 1481.9,389.7 1480.2,393.8C1478.5,397.9 1477.0,402.2 1474.9,406.1C1472.9,410.0 1470.2,413.6 1468.0,417.3C1465.8,421.0 1463.7,424.8 1461.5,428.5C1459.3,432.1 1457.4,435.9 1454.9,439.1C1452.3,442.4 1449.0,444.9 1446.0,447.8C1443.1,450.7 1440.1,453.6 1437.1,456.6C1434.1,459.5 1431.1,462.5 1428.0,465.5C1425.0,468.5 1421.9,471.6 1418.8,474.7C1415.6,477.8 1412.5,481.0 1409.3,484.1C1406.2,487.3 1402.9,490.5 1399.7,493.7C1396.5,496.9 1393.3,500.1 1390.1,503.3C1386.9,506.5 1383.6,509.6 1380.5,512.8C1377.4,516.0 1374.4,519.3 1371.3,522.5C1368.3,525.7 1365.3,528.8 1362.4,531.9C1359.5,535.0 1356.6,538.1 1353.7,541.2C1350.9,544.2 1348.2,547.3 1345.4,550.1C1342.5,552.9 1339.5,555.4 1336.6,557.9C1333.6,560.4 1330.7,562.8 1327.7,565.2C1324.6,567.6 1321.6,569.8 1318.3,572.1C1315.1,574.4 1311.7,576.5 1308.2,578.7C1304.6,581.0 1301.2,583.6 1296.9,585.5C1292.7,587.5 1287.8,588.7 1282.9,590.5C1278.0,592.2 1272.8,594.1 1267.5,596.2C1262.2,598.2 1256.7,600.5 1251.1,602.8C1245.4,605.1 1239.6,607.6 1233.7,610.1C1227.8,612.6 1221.8,615.3 1215.6,617.7C1209.4,620.1 1199.6,623.1 1196.4,624.2" fill="none" stroke="#686868" stroke-width="1.5" stroke-linejoin="round" stroke-linecap="round"/>
<path d="M1497.0,342.0C1496.7,344.0 1496.0,349.8 1495.3,353.8C1494.6,357.8 1493.8,362.0 1492.8,366.1C1491.8,370.2 1490.7,374.3 1489.6,378.4C1488.4,382.4 1487.3,386.5 1486.2,390.6C1485.1,394.7 1484.3,398.9 1483.0,402.8C1481.7,406.8 1480.0,410.6 1478.4,414.4C1476.8,418.3 1475.2,422.1 1473.5,426.0C1471.8,429.8 1470.3,433.7 1468.1,437.4C1466.0,441.1 1463.4,444.5 1460.6,448.0C1457.9,451.4 1454.8,454.7 1451.8,458.1C1448.7,461.4 1445.6,464.8 1442.6,468.1C1439.6,471.5 1436.7,474.9 1433.7,478.2C1430.8,481.5 1427.8,484.7 1424.9,487.8C1422.0,490.9 1418.9,493.7 1416.2,496.7C1413.5,499.6 1411.1,502.6 1408.8,505.6C1406.5,508.6 1404.4,511.6 1402.4,514.7C1400.3,517.7 1398.6,520.8 1396.6,523.8C1394.6,526.8 1392.5,529.6 1390.3,532.4C1388.1,535.3 1385.9,538.2 1383.5,541.1C1381.1,543.9 1378.5,546.7 1375.7,549.6C1372.9,552.4 1370.0,555.2 1366.7,557.9C1363.5,560.6 1360.1,563.3 1356.4,565.9C1352.8,568.5 1348.9,571.0 1345.0,573.5C1341.1,576.1 1337.0,578.6 1333.1,581.2C1329.1,583.8 1325.1,586.4 1321.1,589.1C1317.2,591.8 1313.4,594.6 1309.5,597.2C1305.6,599.8 1301.6,602.3 1297.6,604.6C1293.5,607.0 1289.4,609.1 1285.3,611.3C1281.2,613.5 1277.1,615.8 1272.9,618.1C1268.8,620.3 1264.6,622.6 1260.3,624.9C1256.1,627.2 1251.8,629.7 1247.4,631.7C1243.0,633.7 1236.2,636.0 1234.0,636.9" fill="none" stroke="#686868" stroke-width="1.5" stroke-linejoin="round" stroke-linecap="round"/>
<path d="M1497.0,342.0C1496.5,344.2 1494.9,350.8 1493.9,355.2C1492.8,359.5 1491.9,363.8 1491.0,368.1C1490.0,372.3 1489.0,376.5 1488.0,380.7C1487.0,384.9 1485.9,389.1 1484.9,393.2C1483.8,397.3 1483.1,401.5 1481.8,405.6C1480.5,409.7 1478.7,413.5 1477.1,417.5C1475.6,421.5 1474.1,425.6 1472.6,429.7C1471.0,433.9 1469.8,438.2 1468.1,442.3C1466.4,446.5 1464.4,450.5 1462.3,454.5C1460.3,458.5 1458.0,462.4 1455.8,466.3C1453.6,470.2 1451.4,474.1 1449.2,477.9C1447.0,481.8 1444.9,485.6 1442.6,489.3C1440.3,492.9 1438.0,496.4 1435.5,499.7C1433.1,503.0 1430.3,505.9 1427.9,509.1C1425.5,512.2 1423.2,515.3 1421.0,518.6C1418.8,521.8 1416.8,525.1 1414.8,528.4C1412.7,531.8 1411.0,535.3 1408.9,538.7C1406.8,542.0 1404.6,545.3 1402.1,548.6C1399.7,551.9 1397.1,555.2 1394.2,558.4C1391.3,561.5 1388.1,564.7 1384.6,567.6C1381.1,570.6 1377.3,573.5 1373.3,576.2C1369.3,579.0 1365.0,581.5 1360.8,584.1C1356.6,586.6 1352.2,589.0 1348.1,591.5C1344.1,594.0 1340.1,596.6 1336.6,599.3C1333.0,602.0 1329.7,604.9 1326.7,607.8C1323.7,610.8 1321.2,614.1 1318.5,617.2C1315.8,620.2 1313.3,623.3 1310.5,626.1C1307.8,629.0 1305.0,631.6 1302.1,634.3C1299.1,637.0 1296.1,639.6 1293.0,642.2C1290.0,644.7 1286.7,647.1 1283.5,649.4C1280.3,651.7 1277.2,654.2 1273.9,656.0C1270.7,657.7 1265.7,659.4 1264.1,660.1" fill="none" stroke="#686868" stroke-width="1.5" stroke-linejoin="round" stroke-linecap="round"/>
<path d="M1497.0,342.0C1496.5,344.2 1495.0,350.8 1494.0,355.2C1493.1,359.6 1492.2,363.9 1491.2,368.2C1490.3,372.5 1489.4,376.8 1488.3,381.0C1487.3,385.2 1486.1,389.3 1485.0,393.5C1483.8,397.6 1482.9,401.7 1481.4,405.7C1480.0,409.7 1478.0,413.5 1476.3,417.4C1474.6,421.3 1472.9,425.3 1471.2,429.4C1469.6,433.4 1468.3,437.7 1466.5,441.7C1464.7,445.8 1462.8,449.7 1460.7,453.6C1458.5,457.6 1456.2,461.4 1453.8,465.2C1451.3,468.9 1448.9,472.7 1446.0,476.4C1443.2,480.1 1440.2,483.8 1436.8,487.3C1433.3,490.7 1429.5,494.0 1425.3,497.1C1421.1,500.3 1416.2,503.0 1411.7,506.0C1407.2,509.0 1402.5,511.9 1398.3,515.0C1394.0,518.1 1389.9,521.3 1386.3,524.6C1382.7,527.9 1379.5,531.4 1376.6,534.8C1373.7,538.1 1371.2,541.4 1368.8,544.7C1366.4,548.1 1364.5,551.5 1362.4,554.7C1360.2,557.9 1358.3,561.1 1355.9,564.2C1353.4,567.2 1350.9,570.1 1347.8,572.8C1344.8,575.6 1341.3,578.1 1337.7,580.6C1334.0,583.0 1329.8,585.2 1326.0,587.5C1322.2,589.9 1318.1,592.2 1314.8,594.6C1311.5,597.1 1308.4,599.6 1306.1,602.2C1303.8,604.9 1302.2,607.9 1301.1,610.7C1299.9,613.5 1299.5,616.2 1299.2,618.9C1298.8,621.6 1299.0,624.1 1299.0,626.7C1298.9,629.3 1299.2,632.0 1298.7,634.5C1298.3,637.1 1296.6,640.8 1296.1,642.1" fill="none" stroke="#686868" stroke-width="1.5" stroke-linejoin="round" stroke-linecap="round"/>
<path d="M1497.0,342.0C1496.5,344.2 1495.1,350.7 1494.2,354.9C1493.2,359.2 1492.4,363.5 1491.4,367.6C1490.5,371.8 1489.6,375.9 1488.6,380.0C1487.7,384.2 1486.6,388.3 1485.6,392.5C1484.6,396.7 1483.8,401.0 1482.7,405.2C1481.5,409.4 1479.8,413.5 1478.5,417.7C1477.1,421.9 1475.7,426.2 1474.4,430.5C1473.0,434.8 1471.9,439.3 1470.3,443.5C1468.7,447.7 1466.7,451.7 1464.7,455.6C1462.6,459.6 1460.2,463.3 1458.0,467.1C1455.7,470.9 1453.4,474.6 1451.1,478.4C1448.7,482.2 1446.5,486.0 1444.1,489.6C1441.7,493.3 1439.2,496.9 1436.6,500.4C1433.9,503.9 1430.9,507.2 1428.1,510.6C1425.2,514.0 1422.4,517.4 1419.5,520.9C1416.6,524.3 1413.7,527.8 1410.6,531.2C1407.5,534.5 1404.4,538.0 1401.0,541.2C1397.6,544.3 1394.0,547.3 1390.3,550.2C1386.7,553.1 1382.9,555.9 1379.1,558.7C1375.4,561.4 1371.6,564.1 1367.9,566.7C1364.3,569.4 1360.7,572.0 1357.2,574.5C1353.8,577.1 1350.5,579.6 1347.4,582.0C1344.3,584.4 1341.3,586.7 1338.5,589.1C1335.7,591.4 1333.2,593.7 1330.7,596.0C1328.2,598.2 1326.0,600.4 1323.6,602.6C1321.2,604.7 1319.1,606.9 1316.6,608.8C1314.1,610.7 1311.4,612.4 1308.5,614.0C1305.5,615.6 1302.2,616.8 1298.9,618.4C1295.6,620.0 1292.1,621.6 1288.5,623.4C1285.0,625.3 1279.5,628.4 1277.7,629.3" fill="none" stroke="#686868" stroke-width="1.5" stroke-linejoin="round" stroke-linecap="round"/>
<path d="M1497.0,342.0C1497.2,344.3 1498.1,351.1 1498.1,355.6C1498.0,360.0 1497.3,364.3 1496.6,368.6C1495.9,372.9 1495.0,377.1 1493.9,381.3C1492.9,385.5 1491.6,389.6 1490.4,393.8C1489.2,397.9 1488.2,402.2 1486.7,406.2C1485.2,410.2 1483.2,414.1 1481.4,418.0C1479.7,421.9 1478.0,425.8 1476.3,429.7C1474.5,433.7 1473.0,437.7 1470.9,441.5C1468.9,445.3 1466.4,448.8 1463.9,452.4C1461.3,456.0 1458.3,459.4 1455.5,463.0C1452.6,466.5 1449.7,470.1 1446.8,473.7C1444.0,477.3 1441.2,481.1 1438.5,484.7C1435.7,488.4 1433.1,492.0 1430.5,495.5C1427.8,499.0 1425.2,502.2 1422.9,505.6C1420.6,509.0 1418.7,512.4 1416.7,515.7C1414.8,519.1 1413.3,522.4 1411.4,525.7C1409.6,529.0 1408.0,532.2 1405.7,535.4C1403.4,538.5 1400.9,541.3 1397.9,544.3C1394.8,547.3 1391.4,550.3 1387.5,553.3C1383.6,556.4 1379.2,559.5 1374.6,562.7C1370.1,565.9 1365.0,569.2 1360.1,572.5C1355.2,575.8 1350.0,579.2 1345.2,582.5C1340.4,585.8 1335.6,589.0 1331.3,592.2C1327.1,595.4 1323.2,598.5 1319.6,601.5C1316.0,604.4 1312.9,607.2 1309.8,609.9C1306.6,612.5 1304.0,615.1 1300.6,617.3C1297.2,619.4 1293.8,621.2 1289.7,622.8C1285.5,624.5 1280.8,625.7 1275.6,627.2C1270.5,628.7 1264.7,630.2 1258.8,631.9C1252.9,633.5 1246.3,635.3 1240.3,637.3C1234.3,639.2 1225.5,642.5 1222.6,643.5" fill="none" stroke="#686868" stroke-width="1.5" stroke-linejoin="round" stroke-linecap="round"/>
<path d="M1497.0,342.0C1496.1,344.2 1493.1,350.8 1491.6,355.1C1490.1,359.4 1489.0,363.7 1487.8,367.9C1486.6,372.1 1485.5,376.2 1484.4,380.3C1483.3,384.4 1482.1,388.4 1481.1,392.5C1480.0,396.5 1479.3,400.6 1478.1,404.6C1476.9,408.6 1475.3,412.3 1473.9,416.2C1472.5,420.2 1471.2,424.2 1469.8,428.3C1468.4,432.4 1467.3,436.7 1465.6,440.8C1464.0,445.0 1462.0,449.1 1459.9,453.2C1457.8,457.2 1455.3,461.2 1452.8,465.3C1450.4,469.3 1447.9,473.4 1445.2,477.3C1442.5,481.2 1439.8,485.2 1436.8,488.8C1433.8,492.5 1430.6,495.9 1427.1,499.1C1423.7,502.3 1419.8,505.1 1416.1,508.0C1412.4,510.9 1408.7,513.7 1405.1,516.5C1401.6,519.3 1398.1,522.1 1394.8,524.9C1391.5,527.7 1388.4,530.6 1385.4,533.3C1382.4,536.0 1379.4,538.5 1376.7,541.0C1374.0,543.5 1371.5,545.9 1369.0,548.2C1366.6,550.5 1364.3,552.7 1362.0,554.7C1359.6,556.8 1357.4,558.7 1354.9,560.5C1352.4,562.4 1349.9,564.0 1347.0,565.8C1344.2,567.6 1341.1,569.2 1338.0,571.1C1334.8,573.0 1331.4,575.0 1328.0,577.3C1324.6,579.5 1321.0,582.0 1317.6,584.7C1314.1,587.4 1310.7,590.5 1307.2,593.2C1303.8,596.0 1300.3,598.8 1297.0,601.2C1293.6,603.7 1290.2,605.9 1287.0,608.1C1283.9,610.2 1280.9,612.2 1277.9,614.1C1275.0,616.0 1272.2,617.6 1269.2,619.3C1266.2,620.9 1261.6,623.3 1260.1,624.1" fill="none" stroke="#686868" stroke-width="1.5" stroke-linejoin="round" stroke-linecap="round"/>
<path d="M1497.0,342.0C1496.9,344.2 1497.0,350.6 1496.6,354.9C1496.2,359.2 1495.5,363.5 1494.7,367.8C1493.9,372.0 1493.0,376.3 1492.0,380.5C1491.1,384.7 1490.0,388.9 1488.9,393.1C1487.9,397.2 1487.0,401.4 1485.6,405.4C1484.2,409.5 1482.3,413.2 1480.5,417.1C1478.7,421.0 1476.8,424.9 1474.9,428.9C1473.0,432.8 1471.2,436.9 1469.0,440.9C1466.7,444.8 1464.1,448.6 1461.4,452.5C1458.7,456.4 1455.8,460.2 1452.9,464.1C1450.1,468.1 1447.3,472.1 1444.5,476.2C1441.8,480.2 1439.1,484.3 1436.3,488.2C1433.4,492.1 1430.5,495.9 1427.4,499.4C1424.2,502.8 1420.7,505.9 1417.3,509.0C1414.0,512.1 1410.5,515.0 1407.0,517.9C1403.6,520.7 1400.0,523.4 1396.4,526.0C1392.9,528.7 1389.3,531.3 1385.7,533.9C1382.0,536.4 1378.2,538.8 1374.5,541.4C1370.9,544.0 1367.3,546.6 1363.7,549.4C1360.2,552.2 1356.8,555.2 1353.4,558.2C1350.0,561.1 1346.7,564.3 1343.3,567.3C1340.0,570.4 1336.7,573.5 1333.3,576.4C1329.8,579.2 1326.3,582.0 1322.8,584.6C1319.2,587.3 1315.6,589.8 1312.0,592.2C1308.3,594.6 1304.6,596.9 1300.9,599.2C1297.2,601.5 1293.5,603.8 1289.6,606.1C1285.8,608.3 1281.8,610.3 1277.7,612.5C1273.7,614.7 1269.5,616.7 1265.4,619.0C1261.3,621.4 1257.2,624.0 1253.1,626.7C1249.1,629.3 1245.0,632.2 1240.9,634.9C1236.9,637.6 1230.8,641.6 1228.7,642.9" fill="none" stroke="#686868" stroke-width="1.5" stroke-linejoin="round" stroke-linecap="round"/>
<path d="M1497.0,342.0C1496.7,343.7 1495.7,348.8 1495.0,352.3C1494.3,355.8 1493.6,359.5 1492.8,363.1C1492.0,366.7 1491.1,370.3 1490.1,373.9C1489.0,377.6 1487.8,381.2 1486.6,384.9C1485.5,388.5 1484.4,392.3 1483.2,396.0C1482.1,399.6 1480.9,403.4 1479.7,407.0C1478.4,410.6 1477.1,414.2 1475.8,417.7C1474.5,421.2 1473.3,424.7 1472.1,428.1C1470.8,431.5 1469.7,434.9 1468.3,438.3C1467.0,441.6 1465.7,445.0 1464.0,448.2C1462.3,451.5 1460.2,454.6 1458.2,457.8C1456.2,461.1 1454.1,464.4 1452.0,467.8C1449.9,471.2 1447.8,474.7 1445.8,478.1C1443.8,481.6 1441.9,485.2 1440.0,488.6C1438.2,492.0 1436.5,495.4 1434.7,498.5C1433.0,501.6 1431.0,504.4 1429.4,507.3C1427.8,510.2 1426.5,513.0 1425.1,515.8C1423.8,518.6 1422.7,521.3 1421.4,524.2C1420.1,527.0 1418.9,529.9 1417.2,532.9C1415.5,535.8 1413.8,538.9 1411.5,542.0C1409.2,545.1 1406.4,548.2 1403.4,551.3C1400.3,554.4 1396.9,557.7 1393.3,560.7C1389.6,563.8 1385.6,566.8 1381.7,569.6C1377.8,572.4 1373.7,575.0 1369.8,577.4C1366.0,579.8 1362.3,582.0 1358.7,584.0C1355.2,585.9 1351.6,587.3 1348.5,588.9C1345.4,590.6 1342.7,592.2 1340.1,594.1C1337.6,596.1 1335.5,598.1 1333.2,600.5C1330.9,602.9 1328.8,605.6 1326.3,608.6C1323.9,611.5 1321.5,615.0 1318.4,618.3C1315.4,621.5 1311.8,625.0 1308.0,628.2C1304.1,631.4 1299.7,634.7 1295.2,637.5C1290.7,640.4 1283.3,644.0 1280.9,645.3" fill="none" stroke="#686868" stroke-width="1.5" stroke-linejoin="round" stroke-linecap="round"/>
<path d="M1497.0,342.0C1496.4,344.0 1494.3,350.0 1493.2,353.9C1492.1,357.8 1491.3,361.6 1490.4,365.6C1489.5,369.5 1488.7,373.5 1487.7,377.6C1486.7,381.6 1485.6,385.6 1484.5,389.7C1483.5,393.7 1482.4,397.8 1481.3,401.9C1480.1,405.9 1478.9,410.0 1477.4,413.9C1476.0,417.9 1474.4,421.7 1472.8,425.5C1471.3,429.3 1469.6,433.0 1468.1,436.6C1466.5,440.2 1465.0,443.7 1463.6,447.2C1462.1,450.7 1460.8,454.1 1459.3,457.5C1457.8,460.8 1456.1,464.0 1454.7,467.4C1453.3,470.8 1452.1,474.3 1450.9,477.9C1449.7,481.6 1448.7,485.3 1447.6,489.2C1446.5,493.0 1445.5,497.1 1444.2,501.0C1442.8,504.9 1441.5,509.0 1439.5,512.7C1437.5,516.4 1435.0,519.8 1432.4,523.2C1429.9,526.6 1427.0,529.8 1424.1,533.0C1421.1,536.1 1417.8,539.0 1414.6,541.9C1411.4,544.9 1408.0,547.6 1404.6,550.5C1401.3,553.3 1397.9,556.1 1394.7,558.9C1391.4,561.8 1388.1,564.6 1385.2,567.5C1382.2,570.5 1379.4,573.6 1376.9,576.6C1374.4,579.6 1372.1,582.7 1370.0,585.6C1367.9,588.4 1366.1,591.2 1364.2,593.7C1362.4,596.1 1360.9,598.4 1359.0,600.2C1357.2,601.9 1355.1,603.0 1353.1,604.2C1351.0,605.4 1349.0,606.3 1346.7,607.4C1344.5,608.6 1342.1,609.5 1339.6,611.1C1337.0,612.7 1334.3,614.4 1331.5,616.8C1328.7,619.2 1325.8,622.3 1322.7,625.5C1319.7,628.7 1316.3,632.5 1313.1,636.3C1309.8,640.1 1306.5,644.5 1303.4,648.4C1300.2,652.3 1295.6,657.8 1294.1,659.7" fill="none" stroke="#686868" stroke-width="1.5" stroke-linejoin="round" stroke-linecap="round"/>
<path d="M1497.0,342.0C1496.9,343.9 1496.7,349.6 1496.3,353.4C1495.9,357.2 1495.2,361.0 1494.5,364.8C1493.8,368.6 1492.9,372.4 1492.0,376.2C1491.1,380.0 1490.1,383.7 1489.1,387.4C1488.1,391.2 1487.2,394.9 1486.3,398.7C1485.4,402.4 1484.4,406.1 1483.5,409.8C1482.5,413.6 1481.4,417.3 1480.5,421.0C1479.5,424.8 1478.7,428.6 1477.8,432.4C1476.9,436.2 1476.1,440.1 1475.1,444.0C1474.1,447.9 1473.3,451.8 1471.8,455.6C1470.4,459.4 1468.6,463.0 1466.7,466.7C1464.8,470.3 1462.8,474.0 1460.7,477.6C1458.6,481.2 1456.3,484.8 1454.1,488.3C1451.8,491.8 1449.6,495.3 1447.3,498.6C1445.0,501.9 1442.7,505.2 1440.3,508.3C1437.9,511.4 1435.1,514.1 1432.8,517.0C1430.4,519.9 1428.2,522.8 1426.0,525.7C1423.8,528.5 1421.7,531.4 1419.5,534.3C1417.3,537.2 1415.2,540.1 1412.8,543.0C1410.5,545.9 1408.0,548.7 1405.4,551.5C1402.7,554.3 1399.7,556.9 1396.8,559.6C1393.9,562.3 1390.8,565.0 1387.8,567.7C1384.9,570.4 1381.8,573.1 1379.0,575.9C1376.2,578.7 1373.4,581.5 1370.8,584.5C1368.1,587.4 1365.8,590.6 1363.1,593.7C1360.4,596.8 1357.6,599.8 1354.8,603.0C1351.9,606.2 1349.1,609.7 1346.0,613.2C1342.9,616.6 1339.6,620.2 1336.1,623.7C1332.5,627.2 1328.7,630.8 1324.8,634.0C1320.9,637.3 1316.7,640.6 1312.6,643.4C1308.4,646.1 1303.8,648.4 1299.7,650.5C1295.5,652.6 1291.4,654.3 1287.6,655.8C1283.8,657.4 1278.8,659.2 1277.1,659.9" fill="none" stroke="#686868" stroke-width="1.5" stroke-linejoin="round" stroke-linecap="round"/>
<path d="M1497.0,342.0C1496.4,343.8 1494.5,349.2 1493.4,352.9C1492.4,356.6 1491.6,360.3 1490.6,364.0C1489.6,367.8 1488.5,371.6 1487.3,375.3C1486.1,379.1 1484.8,382.9 1483.6,386.7C1482.4,390.5 1481.2,394.3 1480.1,398.1C1478.9,401.8 1477.8,405.6 1476.5,409.3C1475.3,413.0 1474.0,416.6 1472.7,420.2C1471.4,423.9 1470.2,427.5 1468.8,431.1C1467.5,434.8 1466.2,438.4 1464.8,442.1C1463.3,445.7 1461.9,449.4 1460.1,453.1C1458.3,456.7 1456.1,460.1 1454.2,463.7C1452.2,467.3 1450.3,470.9 1448.5,474.5C1446.6,478.1 1444.9,481.7 1443.3,485.4C1441.7,489.0 1440.3,492.7 1438.8,496.4C1437.3,500.0 1436.0,503.7 1434.3,507.3C1432.6,510.9 1430.6,514.3 1428.6,517.8C1426.6,521.4 1424.7,525.1 1422.4,528.7C1420.2,532.4 1417.8,536.2 1415.2,539.9C1412.6,543.6 1409.8,547.4 1406.7,550.9C1403.7,554.5 1400.4,558.0 1397.0,561.3C1393.5,564.5 1389.7,567.4 1386.1,570.3C1382.4,573.1 1378.6,575.7 1374.8,578.2C1371.1,580.7 1367.3,583.0 1363.6,585.3C1359.8,587.6 1356.1,589.8 1352.5,592.1C1348.9,594.5 1345.3,596.9 1341.7,599.2C1338.0,601.6 1334.1,603.7 1330.6,606.2C1327.1,608.7 1323.6,611.4 1320.5,614.0C1317.4,616.7 1314.5,619.6 1312.0,622.3C1309.4,625.1 1307.2,627.9 1305.3,630.5C1303.4,633.0 1302.0,635.6 1300.4,637.8C1298.9,640.0 1297.6,641.8 1296.2,643.5C1294.8,645.2 1293.5,646.6 1291.9,648.1C1290.3,649.6 1287.4,651.6 1286.5,652.3" fill="none" stroke="#686868" stroke-width="1.5" stroke-linejoin="round" stroke-linecap="round"/>
<path d="M1497.0,342.0C1496.9,343.7 1496.7,348.9 1496.3,352.5C1495.9,356.0 1495.2,359.8 1494.5,363.4C1493.8,367.0 1493.0,370.5 1492.2,374.1C1491.3,377.6 1490.3,381.2 1489.4,384.8C1488.5,388.3 1487.7,391.9 1486.7,395.5C1485.8,399.1 1484.9,402.7 1483.9,406.2C1482.9,409.8 1481.7,413.3 1480.6,416.9C1479.6,420.5 1478.6,424.0 1477.6,427.6C1476.6,431.2 1475.7,434.8 1474.7,438.3C1473.7,441.8 1472.9,445.4 1471.7,448.7C1470.5,452.1 1469.0,455.2 1467.6,458.4C1466.3,461.6 1464.9,464.7 1463.5,467.8C1462.2,470.9 1460.8,473.9 1459.4,476.9C1458.0,479.9 1456.6,483.0 1455.1,485.9C1453.6,488.9 1452.1,491.8 1450.3,494.6C1448.5,497.4 1446.3,500.0 1444.3,502.7C1442.4,505.4 1440.5,508.2 1438.6,511.0C1436.8,513.8 1435.0,516.7 1433.1,519.6C1431.2,522.5 1429.4,525.5 1427.4,528.5C1425.4,531.4 1423.4,534.4 1421.0,537.4C1418.7,540.3 1416.1,543.2 1413.3,546.2C1410.5,549.2 1407.6,552.2 1404.5,555.2C1401.4,558.3 1398.1,561.5 1394.7,564.6C1391.4,567.8 1387.9,571.1 1384.5,574.4C1381.2,577.6 1377.8,581.1 1374.5,584.3C1371.1,587.5 1367.5,590.4 1364.3,593.5C1361.0,596.6 1358.0,599.7 1355.0,602.7C1352.1,605.7 1349.4,608.7 1346.6,611.6C1343.8,614.5 1341.2,617.3 1338.4,620.1C1335.7,622.8 1333.0,625.5 1329.9,628.0C1326.9,630.4 1321.8,633.6 1320.2,634.7" fill="none" stroke="#686868" stroke-width="1.5" stroke-linejoin="round" stroke-linecap="round"/>
<path d="M1497.0,342.0C1497.0,344.0 1497.2,350.0 1497.0,353.9C1496.7,357.8 1496.1,361.6 1495.4,365.4C1494.8,369.3 1494.1,373.1 1493.3,376.9C1492.6,380.8 1491.7,384.6 1490.9,388.5C1490.1,392.4 1489.5,396.3 1488.7,400.3C1487.9,404.2 1487.2,408.2 1486.3,412.2C1485.4,416.1 1484.3,420.1 1483.2,424.0C1482.2,427.9 1481.1,431.9 1479.9,435.8C1478.8,439.7 1477.6,443.6 1476.4,447.5C1475.1,451.3 1473.9,455.2 1472.3,459.0C1470.7,462.8 1468.7,466.4 1466.9,470.1C1465.1,473.9 1463.3,477.7 1461.4,481.4C1459.4,485.2 1457.5,489.0 1455.5,492.7C1453.4,496.5 1451.4,500.3 1449.0,503.8C1446.7,507.4 1444.3,510.9 1441.5,514.1C1438.6,517.2 1435.2,520.0 1432.1,522.8C1428.9,525.7 1425.6,528.3 1422.4,531.0C1419.3,533.7 1416.0,536.2 1413.0,538.9C1410.0,541.5 1407.1,544.2 1404.4,546.9C1401.7,549.7 1399.2,552.5 1396.8,555.3C1394.5,558.2 1392.2,561.1 1390.2,564.1C1388.1,567.1 1386.3,570.2 1384.6,573.2C1382.8,576.3 1381.2,579.4 1379.6,582.4C1377.9,585.3 1376.4,588.3 1374.6,591.1C1372.9,593.9 1371.2,596.7 1369.1,599.2C1367.0,601.7 1364.5,603.8 1362.1,606.1C1359.7,608.5 1357.1,610.8 1354.5,613.3C1351.8,615.7 1349.1,618.3 1346.4,621.0C1343.7,623.7 1340.9,626.6 1338.2,629.6C1335.6,632.5 1333.0,635.8 1330.3,638.8C1327.7,641.7 1325.0,644.6 1322.4,647.4C1319.9,650.2 1316.5,654.1 1315.3,655.4" fill="none" stroke="#686868" stroke-width="1.5" stroke-linejoin="round" stroke-linecap="round"/>
<path d="M1497.0,342.0C1496.8,344.0 1496.3,350.1 1495.8,354.1C1495.2,358.1 1494.6,361.9 1493.9,365.8C1493.1,369.8 1492.3,373.8 1491.3,377.8C1490.3,381.7 1489.1,385.5 1488.0,389.3C1487.0,393.2 1485.9,397.0 1484.8,400.8C1483.7,404.6 1482.6,408.4 1481.5,412.2C1480.3,416.0 1479.0,419.7 1477.7,423.6C1476.5,427.5 1475.3,431.4 1474.0,435.3C1472.7,439.3 1471.4,443.3 1469.9,447.3C1468.3,451.2 1466.8,455.2 1464.7,459.0C1462.6,462.8 1460.0,466.4 1457.4,469.9C1454.7,473.5 1451.9,476.9 1448.9,480.4C1446.0,483.8 1442.9,487.1 1439.8,490.4C1436.7,493.8 1433.6,497.2 1430.6,500.6C1427.5,503.9 1424.5,507.4 1421.5,510.8C1418.5,514.2 1415.2,517.4 1412.5,520.9C1409.7,524.4 1407.2,528.1 1404.8,531.7C1402.5,535.3 1400.4,539.0 1398.3,542.6C1396.2,546.1 1394.4,549.7 1392.3,553.0C1390.3,556.3 1388.2,559.5 1385.9,562.4C1383.6,565.3 1381.0,567.9 1378.3,570.6C1375.6,573.2 1372.7,575.7 1369.7,578.4C1366.8,581.1 1363.6,583.8 1360.6,586.8C1357.6,589.8 1354.4,592.9 1351.5,596.4C1348.6,599.8 1345.9,603.7 1343.2,607.4C1340.4,611.2 1337.6,614.9 1335.1,618.7C1332.6,622.4 1330.4,626.3 1328.3,629.8C1326.2,633.3 1324.2,636.7 1322.3,639.6C1320.3,642.5 1318.4,645.1 1316.4,647.3C1314.5,649.5 1312.5,651.3 1310.4,652.9C1308.2,654.5 1305.8,655.5 1303.5,656.9C1301.3,658.2 1298.9,659.4 1296.7,661.1C1294.6,662.7 1292.4,664.6 1290.6,667.0C1288.8,669.4 1286.7,674.0 1285.9,675.4" fill="none" stroke="#686868" stroke-width="1.5" stroke-linejoin="round" stroke-linecap="round"/>
<path d="M1497.0,342.0C1496.6,343.8 1495.3,349.4 1494.3,353.1C1493.4,356.7 1492.6,360.5 1491.5,364.1C1490.3,367.8 1488.8,371.3 1487.4,374.8C1486.0,378.4 1484.6,381.8 1483.3,385.4C1482.0,388.9 1480.9,392.4 1479.7,396.0C1478.5,399.6 1477.5,403.2 1476.4,406.8C1475.3,410.5 1474.1,414.1 1473.0,417.8C1471.9,421.4 1470.9,425.2 1469.9,428.8C1468.9,432.5 1468.0,436.2 1466.8,439.8C1465.7,443.3 1464.7,446.9 1463.2,450.2C1461.7,453.6 1459.8,456.7 1458.1,459.8C1456.4,463.0 1454.6,466.1 1453.0,469.1C1451.3,472.2 1449.7,475.2 1448.3,478.2C1446.9,481.3 1445.8,484.3 1444.7,487.3C1443.7,490.4 1443.0,493.4 1442.2,496.3C1441.5,499.2 1440.6,501.8 1440.0,504.7C1439.4,507.5 1439.2,510.4 1438.7,513.5C1438.2,516.5 1437.9,519.6 1437.2,522.8C1436.5,526.0 1435.8,529.4 1434.5,532.8C1433.2,536.2 1431.6,539.8 1429.5,543.3C1427.3,546.8 1424.6,550.3 1421.8,553.9C1418.9,557.4 1415.6,561.1 1412.3,564.5C1409.0,567.9 1405.4,571.4 1402.0,574.5C1398.5,577.7 1395.1,580.8 1391.7,583.6C1388.4,586.4 1385.3,589.1 1381.9,591.5C1378.6,593.9 1375.2,595.8 1371.7,598.0C1368.3,600.2 1364.9,602.2 1361.3,604.6C1357.6,607.0 1353.9,609.6 1349.9,612.4C1345.9,615.3 1341.6,618.5 1337.2,621.9C1332.8,625.3 1328.2,629.2 1323.5,632.8C1318.8,636.4 1313.7,640.2 1309.0,643.7C1304.3,647.2 1297.6,652.2 1295.4,653.8" fill="none" stroke="#686868" stroke-width="1.5" stroke-linejoin="round" stroke-linecap="round"/>
<path d="M1497.0,342.0C1496.9,344.0 1496.8,350.0 1496.4,354.0C1496.0,357.9 1495.3,361.9 1494.8,365.9C1494.3,369.9 1493.8,373.9 1493.3,377.8C1492.7,381.8 1492.1,385.8 1491.5,389.8C1491.0,393.7 1490.5,397.7 1489.8,401.7C1489.0,405.6 1488.2,409.5 1487.2,413.4C1486.3,417.2 1485.2,421.0 1484.0,424.8C1482.9,428.6 1481.6,432.3 1480.3,436.1C1479.0,439.8 1477.6,443.5 1476.2,447.2C1474.7,451.0 1473.1,454.6 1471.4,458.4C1469.7,462.1 1467.8,465.8 1466.1,469.6C1464.3,473.5 1462.6,477.4 1461.0,481.4C1459.4,485.4 1457.9,489.5 1456.4,493.7C1455.0,497.8 1453.8,502.1 1452.3,506.3C1450.9,510.4 1449.4,514.4 1447.7,518.3C1446.1,522.2 1444.1,525.8 1442.4,529.5C1440.7,533.2 1439.2,536.9 1437.6,540.5C1436.0,544.1 1434.5,547.7 1432.9,551.2C1431.3,554.7 1429.8,558.2 1428.0,561.7C1426.3,565.2 1424.5,568.7 1422.5,572.2C1420.4,575.7 1418.3,579.2 1415.7,582.7C1413.2,586.2 1410.4,589.6 1407.3,593.0C1404.3,596.4 1400.8,599.7 1397.4,603.0C1393.9,606.4 1390.0,609.6 1386.5,613.0C1383.0,616.4 1379.5,619.8 1376.3,623.4C1373.2,626.9 1370.3,630.6 1367.7,634.3C1365.1,638.0 1362.8,641.8 1360.9,645.6C1358.9,649.4 1357.3,653.3 1355.9,657.1C1354.5,660.9 1353.4,664.7 1352.3,668.4C1351.3,672.1 1350.5,675.8 1349.5,679.3C1348.5,682.8 1347.6,686.2 1346.3,689.5C1345.1,692.8 1342.7,697.5 1341.9,699.1" fill="none" stroke="#686868" stroke-width="1.5" stroke-linejoin="round" stroke-linecap="round"/>
<path d="M1497.0,342.0C1497.0,344.0 1497.2,350.1 1496.9,354.1C1496.6,358.1 1495.9,362.0 1495.2,366.0C1494.6,370.0 1493.7,373.9 1492.9,377.8C1492.0,381.8 1491.2,385.8 1490.3,389.8C1489.4,393.8 1488.7,397.8 1487.6,401.8C1486.6,405.8 1485.4,409.8 1484.1,413.7C1482.8,417.7 1481.2,421.5 1479.6,425.3C1478.0,429.1 1476.2,432.8 1474.3,436.5C1472.4,440.1 1470.4,443.6 1468.3,447.2C1466.2,450.7 1464.0,454.1 1461.8,457.5C1459.6,460.9 1457.2,464.3 1455.2,467.8C1453.2,471.3 1451.3,474.9 1449.8,478.6C1448.2,482.4 1446.9,486.2 1445.9,490.1C1444.8,494.1 1444.2,498.2 1443.4,502.2C1442.5,506.1 1441.7,510.0 1440.7,513.8C1439.7,517.5 1438.4,521.0 1437.2,524.5C1436.0,528.0 1434.8,531.4 1433.5,534.7C1432.3,538.1 1430.9,541.4 1429.5,544.7C1428.2,548.0 1426.7,551.2 1425.2,554.5C1423.8,557.9 1422.4,561.2 1421.0,564.7C1419.6,568.2 1418.2,571.8 1416.8,575.3C1415.4,578.9 1413.9,582.5 1412.4,586.0C1410.8,589.5 1409.1,593.1 1407.3,596.4C1405.5,599.8 1403.4,603.0 1401.5,606.2C1399.5,609.4 1397.4,612.5 1395.3,615.7C1393.3,618.8 1391.3,621.9 1389.4,625.2C1387.5,628.4 1385.5,631.6 1383.9,635.1C1382.3,638.6 1380.8,642.2 1379.8,646.2C1378.7,650.1 1378.0,654.3 1377.5,658.7C1377.1,663.1 1377.1,667.8 1377.2,672.5C1377.2,677.1 1377.7,682.1 1377.8,686.6C1377.8,691.2 1377.6,697.7 1377.6,700.0" fill="none" stroke="#686868" stroke-width="1.5" stroke-linejoin="round" stroke-linecap="round"/>
<path d="M1497.0,342.0C1496.6,343.8 1495.4,349.2 1494.6,353.0C1493.8,356.7 1493.1,360.6 1492.4,364.4C1491.7,368.1 1491.1,371.8 1490.4,375.5C1489.8,379.1 1489.0,382.7 1488.3,386.3C1487.5,389.9 1486.9,393.5 1486.0,397.0C1485.1,400.5 1484.0,403.9 1482.9,407.4C1481.9,410.8 1480.7,414.2 1479.5,417.7C1478.4,421.1 1477.2,424.6 1476.1,428.1C1474.9,431.5 1473.9,435.1 1472.7,438.5C1471.5,442.0 1470.4,445.5 1469.1,448.9C1467.7,452.3 1466.2,455.6 1464.8,458.9C1463.4,462.2 1462.1,465.5 1460.7,468.7C1459.3,471.9 1458.0,475.1 1456.6,478.2C1455.3,481.3 1454.1,484.4 1452.6,487.4C1451.2,490.4 1449.5,493.3 1447.7,496.2C1445.9,499.1 1443.8,501.8 1441.9,504.8C1439.9,507.9 1438.0,511.0 1436.1,514.4C1434.2,517.8 1432.3,521.5 1430.3,525.3C1428.3,529.1 1426.3,533.1 1424.2,537.2C1422.1,541.4 1420.0,545.7 1417.9,550.1C1415.8,554.4 1413.6,558.9 1411.6,563.2C1409.5,567.5 1407.4,571.8 1405.5,575.8C1403.6,579.9 1401.8,583.8 1400.2,587.6C1398.7,591.3 1397.2,594.7 1396.0,598.1C1394.8,601.5 1394.0,604.8 1393.1,607.9C1392.3,611.1 1391.8,614.1 1390.9,617.0C1390.0,619.8 1389.1,622.5 1387.8,625.1C1386.5,627.7 1385.0,630.1 1383.1,632.5C1381.3,634.8 1379.0,637.0 1376.7,639.2C1374.4,641.3 1370.7,644.5 1369.5,645.5" fill="none" stroke="#686868" stroke-width="1.5" stroke-linejoin="round" stroke-linecap="round"/>
<path d="M1497.0,342.0C1496.8,344.0 1496.3,350.2 1495.8,354.2C1495.3,358.3 1494.6,362.3 1494.1,366.4C1493.5,370.4 1493.1,374.5 1492.6,378.7C1492.0,382.8 1491.4,386.9 1490.8,391.1C1490.2,395.3 1489.7,399.5 1489.1,403.8C1488.5,408.0 1487.8,412.2 1487.2,416.4C1486.6,420.6 1486.1,424.9 1485.6,429.1C1485.2,433.3 1484.9,437.5 1484.7,441.7C1484.5,445.8 1484.4,449.9 1484.3,453.9C1484.1,457.8 1484.0,461.6 1483.7,465.3C1483.4,469.0 1482.8,472.4 1482.3,475.8C1481.8,479.2 1481.2,482.5 1480.5,485.8C1479.8,489.1 1479.0,492.2 1478.0,495.5C1477.1,498.8 1476.2,502.2 1474.8,505.5C1473.5,508.8 1471.8,512.1 1469.8,515.4C1467.8,518.7 1465.4,521.9 1462.9,525.3C1460.5,528.7 1457.9,532.2 1455.2,535.6C1452.4,539.1 1449.5,542.7 1446.4,546.1C1443.2,549.6 1439.8,553.0 1436.3,556.4C1432.8,559.9 1429.0,563.2 1425.2,566.6C1421.4,570.0 1417.3,573.3 1413.4,576.8C1409.4,580.2 1405.3,583.6 1401.5,587.1C1397.7,590.6 1393.8,594.2 1390.4,598.0C1387.0,601.8 1383.7,605.6 1381.1,609.6C1378.4,613.7 1376.3,617.9 1374.5,622.2C1372.8,626.5 1371.6,631.0 1370.5,635.4C1369.4,639.7 1368.7,644.1 1367.9,648.3C1367.1,652.6 1366.5,656.8 1365.7,660.9C1364.8,665.0 1363.9,668.9 1362.7,673.0C1361.6,677.0 1360.2,680.9 1358.7,685.0C1357.1,689.1 1354.2,695.3 1353.3,697.4" fill="none" stroke="#686868" stroke-width="1.5" stroke-linejoin="round" stroke-linecap="round"/>
<path d="M1497.0,342.0C1497.2,343.9 1498.0,349.6 1498.0,353.5C1498.0,357.3 1497.4,361.3 1497.0,365.2C1496.6,369.1 1496.3,373.0 1495.8,376.9C1495.4,380.8 1494.8,384.6 1494.3,388.5C1493.7,392.4 1493.3,396.2 1492.6,400.0C1492.0,403.8 1491.2,407.6 1490.3,411.3C1489.5,415.0 1488.5,418.6 1487.5,422.3C1486.6,425.9 1485.5,429.5 1484.4,433.1C1483.3,436.8 1482.2,440.4 1480.9,444.0C1479.6,447.7 1478.2,451.4 1476.6,455.0C1475.0,458.7 1473.1,462.3 1471.3,466.0C1469.5,469.6 1467.6,473.4 1465.7,477.1C1463.8,480.8 1461.9,484.6 1459.9,488.3C1457.9,492.0 1456.0,495.8 1453.8,499.3C1451.5,502.9 1449.0,506.3 1446.3,509.6C1443.6,512.8 1440.4,515.8 1437.4,519.0C1434.4,522.1 1431.4,525.2 1428.5,528.4C1425.6,531.6 1422.6,534.8 1419.9,538.1C1417.1,541.4 1414.4,544.7 1412.0,548.2C1409.6,551.6 1407.3,555.1 1405.3,558.6C1403.4,562.1 1401.8,565.7 1400.3,569.2C1398.9,572.7 1397.7,576.1 1396.8,579.4C1395.8,582.7 1395.1,585.9 1394.5,588.9C1393.8,591.9 1393.4,594.7 1393.0,597.4C1392.7,600.2 1392.6,602.9 1392.4,605.6C1392.1,608.3 1392.1,610.9 1391.7,613.6C1391.4,616.4 1390.9,619.0 1390.1,621.9C1389.3,624.8 1388.3,627.8 1387.1,631.0C1385.8,634.2 1384.2,637.6 1382.5,641.3C1380.8,644.9 1377.8,651.0 1376.8,652.9" fill="none" stroke="#686868" stroke-width="1.5" stroke-linejoin="round" stroke-linecap="round"/>
<path d="M1497.0,342.0C1496.8,344.0 1496.2,350.1 1495.6,354.2C1495.0,358.2 1494.3,362.2 1493.5,366.3C1492.7,370.3 1491.8,374.4 1490.9,378.4C1490.0,382.4 1489.1,386.4 1488.2,390.3C1487.2,394.3 1486.4,398.2 1485.5,402.1C1484.6,406.0 1483.5,409.8 1482.5,413.7C1481.5,417.5 1480.4,421.3 1479.3,425.2C1478.3,429.0 1477.2,432.9 1476.1,436.7C1475.0,440.6 1474.0,444.5 1472.8,448.3C1471.7,452.1 1470.4,455.9 1469.1,459.6C1467.8,463.3 1466.2,467.0 1464.8,470.6C1463.4,474.2 1462.0,477.8 1460.6,481.4C1459.3,484.9 1458.0,488.5 1456.6,492.0C1455.2,495.5 1454.0,499.0 1452.4,502.4C1450.7,505.7 1448.9,508.9 1446.7,512.0C1444.4,515.1 1441.7,518.0 1439.1,521.0C1436.4,524.0 1433.7,527.0 1430.9,530.1C1428.1,533.1 1425.2,536.2 1422.4,539.4C1419.6,542.6 1416.7,545.8 1414.2,549.1C1411.6,552.4 1409.2,555.8 1407.1,559.4C1405.0,562.9 1403.1,566.6 1401.4,570.3C1399.7,574.0 1398.3,577.8 1396.9,581.5C1395.4,585.3 1394.2,589.1 1392.8,592.8C1391.4,596.5 1389.9,600.1 1388.4,603.7C1386.8,607.3 1385.2,610.9 1383.3,614.3C1381.4,617.7 1379.4,621.0 1377.1,624.1C1374.9,627.2 1372.3,630.0 1369.8,632.8C1367.3,635.5 1364.5,638.1 1362.1,640.6C1359.8,643.1 1357.4,645.4 1355.5,647.9C1353.7,650.3 1352.2,652.7 1351.2,655.3C1350.2,658.0 1349.8,660.7 1349.5,663.7C1349.2,666.7 1349.6,671.7 1349.6,673.3" fill="none" stroke="#686868" stroke-width="1.5" stroke-linejoin="round" stroke-linecap="round"/>
<path d="M1497.0,342.0C1496.6,344.1 1495.4,350.5 1494.6,354.6C1493.8,358.7 1493.1,362.7 1492.1,366.7C1491.2,370.7 1490.1,374.6 1488.9,378.6C1487.7,382.5 1486.4,386.4 1485.1,390.3C1483.8,394.2 1482.5,398.1 1481.2,401.9C1479.8,405.8 1478.3,409.6 1476.9,413.3C1475.5,417.1 1474.1,420.8 1472.9,424.5C1471.7,428.1 1470.6,431.7 1469.6,435.3C1468.6,438.9 1467.8,442.4 1466.9,445.9C1466.0,449.5 1465.2,452.9 1464.1,456.4C1463.1,459.9 1461.9,463.3 1460.6,466.9C1459.3,470.5 1458.0,474.2 1456.4,478.0C1454.9,481.8 1453.2,485.8 1451.3,489.8C1449.4,493.7 1447.5,497.9 1445.2,501.9C1442.9,505.8 1440.3,509.7 1437.5,513.4C1434.8,517.0 1431.5,520.4 1428.7,523.7C1425.9,527.0 1423.1,530.2 1420.6,533.2C1418.1,536.3 1415.7,539.2 1413.6,542.0C1411.4,544.9 1409.4,547.6 1407.4,550.5C1405.5,553.4 1403.8,556.2 1402.1,559.3C1400.3,562.4 1398.7,565.6 1396.9,569.0C1395.2,572.4 1393.4,576.0 1391.5,579.6C1389.7,583.3 1387.7,587.2 1385.9,591.1C1384.0,595.0 1382.1,598.9 1380.5,602.9C1378.9,606.8 1377.6,610.8 1376.5,614.6C1375.4,618.5 1374.6,622.3 1373.9,625.9C1373.1,629.4 1372.6,632.8 1371.8,636.0C1371.1,639.2 1370.5,642.2 1369.4,645.1C1368.3,648.0 1367.1,650.8 1365.4,653.5C1363.6,656.3 1360.1,660.3 1359.1,661.7" fill="none" stroke="#686868" stroke-width="1.5" stroke-linejoin="round" stroke-linecap="round"/>
<path d="M1497.0,342.0C1496.3,343.9 1493.9,349.4 1492.7,353.2C1491.4,357.0 1490.6,361.0 1489.7,364.8C1488.7,368.7 1487.9,372.6 1486.9,376.5C1486.0,380.4 1484.9,384.3 1483.8,388.1C1482.8,392.0 1481.8,395.9 1480.6,399.8C1479.5,403.6 1478.2,407.5 1477.0,411.2C1475.7,415.0 1474.4,418.7 1473.2,422.4C1471.9,426.1 1470.7,429.7 1469.5,433.3C1468.4,436.9 1467.4,440.4 1466.3,443.9C1465.2,447.4 1464.1,450.8 1462.9,454.1C1461.7,457.5 1460.4,460.8 1459.1,464.1C1457.8,467.5 1456.5,470.9 1455.1,474.4C1453.7,478.0 1452.2,481.6 1450.5,485.4C1448.9,489.1 1447.2,493.1 1445.1,497.0C1443.0,500.9 1440.5,504.9 1437.7,508.8C1435.0,512.7 1431.6,516.5 1428.7,520.4C1425.7,524.2 1422.6,528.2 1419.8,532.0C1417.0,535.7 1414.3,539.5 1411.8,543.1C1409.3,546.7 1407.0,550.1 1404.9,553.5C1402.8,556.9 1401.0,560.1 1399.1,563.2C1397.2,566.4 1395.6,569.5 1393.5,572.5C1391.5,575.6 1389.5,578.6 1387.0,581.5C1384.5,584.5 1381.7,587.5 1378.6,590.5C1375.6,593.5 1372.0,596.4 1368.5,599.5C1365.1,602.5 1361.3,605.6 1358.0,608.6C1354.6,611.6 1351.2,614.7 1348.3,617.5C1345.4,620.3 1342.6,623.0 1340.5,625.6C1338.4,628.2 1336.8,630.5 1335.8,632.9C1334.7,635.2 1334.3,637.4 1334.2,639.7C1334.1,642.1 1334.7,644.4 1335.4,647.0C1336.0,649.6 1337.2,652.3 1338.0,655.5C1338.9,658.6 1340.0,662.0 1340.7,665.7C1341.4,669.5 1342.1,673.6 1342.4,678.0C1342.7,682.3 1342.7,689.5 1342.7,691.8" fill="none" stroke="#686868" stroke-width="1.5" stroke-linejoin="round" stroke-linecap="round"/>
<path d="M1497.0,342.0C1496.9,344.0 1496.7,350.0 1496.3,354.0C1495.8,358.0 1495.1,362.0 1494.2,366.0C1493.4,369.9 1492.1,373.9 1491.0,377.8C1489.9,381.7 1488.7,385.6 1487.5,389.5C1486.3,393.3 1485.2,397.2 1483.8,401.0C1482.4,404.8 1480.9,408.5 1479.2,412.3C1477.5,416.1 1475.6,419.8 1473.6,423.6C1471.6,427.5 1469.4,431.3 1467.2,435.2C1465.0,439.1 1462.7,443.1 1460.4,447.0C1458.1,451.0 1455.7,454.9 1453.4,458.8C1451.1,462.6 1448.7,466.4 1446.7,470.1C1444.7,473.8 1442.9,477.5 1441.3,481.0C1439.7,484.6 1438.4,488.1 1437.1,491.6C1435.7,495.1 1434.7,498.6 1433.1,502.0C1431.6,505.5 1429.8,508.8 1427.7,512.2C1425.5,515.6 1422.7,518.8 1420.1,522.4C1417.5,526.0 1414.6,529.7 1411.9,533.6C1409.1,537.5 1406.2,541.5 1403.7,545.6C1401.2,549.7 1398.7,553.9 1396.7,557.9C1394.7,561.9 1393.0,566.0 1391.6,569.9C1390.2,573.7 1389.3,577.5 1388.3,580.9C1387.3,584.3 1386.7,587.5 1385.6,590.5C1384.6,593.5 1383.6,596.2 1382.1,598.9C1380.6,601.5 1378.7,603.9 1376.6,606.5C1374.4,609.1 1372.0,611.7 1369.3,614.5C1366.7,617.4 1363.8,620.3 1360.9,623.5C1358.0,626.7 1354.8,630.0 1351.8,633.5C1348.9,637.1 1346.0,640.8 1343.3,644.7C1340.7,648.5 1338.2,652.6 1335.7,656.7C1333.3,660.8 1331.1,665.1 1328.6,669.3C1326.2,673.6 1323.8,678.0 1321.0,682.3C1318.1,686.5 1314.9,690.9 1311.4,695.0C1307.9,699.2 1301.8,705.2 1299.8,707.3" fill="none" stroke="#686868" stroke-width="1.5" stroke-linejoin="round" stroke-linecap="round"/>
<path d="M1497.0,342.0C1497.0,344.0 1497.0,349.8 1496.8,353.7C1496.5,357.7 1495.9,361.6 1495.3,365.6C1494.8,369.5 1494.0,373.5 1493.3,377.4C1492.6,381.3 1491.8,385.2 1491.1,389.0C1490.4,392.9 1489.9,396.8 1489.2,400.6C1488.6,404.5 1487.9,408.3 1487.2,412.1C1486.4,416.0 1485.6,419.8 1484.7,423.6C1483.8,427.4 1482.7,431.2 1481.7,435.0C1480.6,438.9 1479.5,442.7 1478.3,446.5C1477.1,450.4 1475.8,454.2 1474.5,458.0C1473.3,461.8 1471.8,465.6 1470.6,469.3C1469.5,473.1 1468.4,476.9 1467.4,480.6C1466.5,484.3 1465.7,488.0 1465.0,491.7C1464.3,495.4 1463.8,499.1 1463.1,502.6C1462.4,506.2 1461.7,509.7 1460.9,513.2C1460.1,516.6 1459.1,520.0 1458.0,523.4C1457.0,526.8 1455.9,530.2 1454.7,533.6C1453.4,537.0 1452.1,540.5 1450.6,544.0C1449.2,547.5 1447.6,551.1 1445.9,554.7C1444.3,558.4 1442.5,562.1 1440.7,565.9C1439.0,569.6 1437.1,573.5 1435.2,577.3C1433.4,581.1 1431.4,584.9 1429.6,588.7C1427.7,592.5 1425.9,596.3 1424.1,600.1C1422.4,603.8 1420.6,607.5 1419.1,611.1C1417.5,614.7 1416.2,618.3 1414.9,621.9C1413.6,625.5 1412.6,629.0 1411.4,632.6C1410.2,636.2 1409.1,639.7 1407.7,643.3C1406.4,647.0 1405.0,650.6 1403.3,654.4C1401.6,658.1 1399.5,661.9 1397.4,665.9C1395.3,669.9 1393.1,674.0 1390.7,678.2C1388.4,682.4 1384.5,688.8 1383.3,690.9" fill="none" stroke="#686868" stroke-width="1.5" stroke-linejoin="round" stroke-linecap="round"/>
<path d="M1497.0,342.0C1496.7,344.2 1495.6,350.8 1495.0,355.0C1494.3,359.2 1493.7,363.2 1492.9,367.3C1492.1,371.4 1491.2,375.5 1490.3,379.6C1489.4,383.7 1488.3,387.8 1487.3,391.9C1486.3,396.0 1485.2,400.1 1484.2,404.1C1483.2,408.2 1482.1,412.2 1481.1,416.1C1480.1,420.0 1479.1,423.9 1478.1,427.8C1477.2,431.6 1476.3,435.4 1475.6,439.3C1474.8,443.1 1474.1,446.9 1473.5,450.8C1472.8,454.6 1472.3,458.5 1471.5,462.4C1470.8,466.3 1470.0,470.1 1469.1,474.0C1468.3,477.9 1467.4,481.9 1466.4,485.8C1465.4,489.7 1464.3,493.6 1463.0,497.4C1461.8,501.3 1460.4,505.2 1458.8,508.9C1457.2,512.6 1455.4,516.3 1453.5,519.9C1451.7,523.5 1449.5,527.0 1447.6,530.5C1445.7,534.1 1443.7,537.6 1441.9,541.2C1440.2,544.8 1438.5,548.3 1436.9,551.9C1435.3,555.5 1433.8,559.1 1432.3,562.7C1430.7,566.2 1429.3,569.8 1427.7,573.3C1426.0,576.7 1424.3,580.1 1422.4,583.4C1420.4,586.7 1418.2,589.9 1415.8,593.0C1413.4,596.2 1410.7,599.2 1407.9,602.3C1405.2,605.5 1402.1,608.5 1399.3,611.8C1396.5,615.2 1393.6,618.6 1391.1,622.4C1388.6,626.2 1386.3,630.3 1384.4,634.6C1382.4,638.9 1380.8,643.5 1379.5,648.2C1378.1,653.0 1377.2,658.0 1376.5,662.9C1375.7,667.8 1375.2,672.9 1375.0,677.6C1374.7,682.4 1374.9,687.1 1375.0,691.4C1375.2,695.7 1375.5,699.8 1375.8,703.5C1376.0,707.1 1376.3,710.4 1376.6,713.4C1376.9,716.5 1377.4,720.4 1377.6,721.8" fill="none" stroke="#686868" stroke-width="1.5" stroke-linejoin="round" stroke-linecap="round"/>
<path d="M1497.0,342.0C1496.7,344.0 1495.8,350.1 1495.2,354.1C1494.6,358.1 1494.0,362.0 1493.2,365.8C1492.5,369.7 1491.6,373.3 1490.6,376.9C1489.7,380.6 1488.6,384.1 1487.6,387.7C1486.6,391.3 1485.6,394.9 1484.6,398.5C1483.6,402.0 1482.6,405.6 1481.6,409.2C1480.7,412.8 1479.7,416.4 1478.8,420.1C1477.8,423.7 1476.9,427.5 1476.1,431.2C1475.2,434.9 1474.5,438.7 1473.6,442.4C1472.8,446.2 1472.0,449.9 1471.1,453.6C1470.3,457.2 1469.2,460.8 1468.3,464.3C1467.5,467.9 1466.6,471.3 1465.8,474.7C1465.0,478.1 1464.3,481.5 1463.6,484.8C1462.9,488.1 1462.3,491.4 1461.5,494.6C1460.7,497.9 1459.9,501.1 1459.0,504.3C1458.1,507.6 1457.0,510.8 1455.9,514.2C1454.9,517.5 1453.8,521.0 1452.7,524.5C1451.6,528.0 1450.4,531.5 1449.2,535.1C1448.0,538.7 1446.8,542.4 1445.6,546.1C1444.4,549.7 1443.2,553.4 1442.0,557.1C1440.8,560.7 1439.7,564.3 1438.5,567.9C1437.3,571.5 1436.1,575.0 1434.9,578.5C1433.7,582.0 1432.5,585.5 1431.2,589.0C1429.9,592.5 1428.5,595.9 1427.1,599.4C1425.7,603.0 1424.3,606.5 1422.8,610.1C1421.3,613.7 1419.8,617.4 1418.1,621.1C1416.4,624.8 1414.6,628.5 1412.8,632.2C1410.9,635.8 1408.9,639.5 1407.0,643.0C1405.0,646.6 1402.8,650.1 1400.8,653.5C1398.9,656.9 1397.1,660.3 1395.3,663.7C1393.6,667.0 1391.9,670.2 1390.2,673.5C1388.4,676.7 1385.8,681.5 1384.9,683.1" fill="none" stroke="#686868" stroke-width="1.5" stroke-linejoin="round" stroke-linecap="round"/>
<path d="M1497.0,342.0C1496.8,344.1 1496.3,350.3 1495.8,354.3C1495.3,358.4 1494.7,362.4 1494.1,366.3C1493.4,370.3 1492.7,374.2 1491.9,378.1C1491.2,382.0 1490.3,385.9 1489.5,389.7C1488.7,393.5 1488.0,397.3 1487.3,401.0C1486.6,404.8 1485.9,408.4 1485.2,412.1C1484.5,415.7 1483.9,419.3 1483.4,422.9C1482.8,426.6 1482.3,430.2 1481.9,434.0C1481.4,437.7 1481.0,441.5 1480.6,445.3C1480.2,449.1 1479.8,453.1 1479.2,457.0C1478.6,460.8 1477.8,464.8 1477.1,468.7C1476.3,472.5 1475.5,476.5 1474.7,480.3C1473.8,484.1 1472.8,487.9 1471.8,491.5C1470.7,495.2 1469.7,498.7 1468.4,502.3C1467.1,505.8 1465.7,509.1 1464.2,512.5C1462.6,516.0 1460.9,519.3 1459.2,522.8C1457.6,526.4 1455.9,530.0 1454.3,533.8C1452.6,537.6 1451.0,541.5 1449.4,545.6C1447.7,549.7 1446.1,554.0 1444.4,558.2C1442.8,562.4 1441.1,566.8 1439.4,570.9C1437.6,575.1 1435.9,579.3 1433.9,583.2C1432.0,587.1 1429.9,590.8 1427.7,594.3C1425.5,597.8 1423.1,601.1 1420.7,604.3C1418.2,607.6 1415.6,610.5 1413.0,613.7C1410.5,616.9 1407.8,620.1 1405.3,623.5C1402.9,627.0 1400.4,630.6 1398.1,634.5C1395.7,638.4 1393.4,642.6 1391.3,646.9C1389.2,651.2 1387.1,655.9 1385.3,660.5C1383.5,665.1 1381.6,669.9 1380.2,674.5C1378.8,679.2 1377.7,683.8 1376.7,688.2C1375.8,692.5 1374.8,698.6 1374.4,700.6" fill="none" stroke="#686868" stroke-width="1.5" stroke-linejoin="round" stroke-linecap="round"/>
<path d="M1497.0,342.0C1496.5,343.9 1494.9,349.8 1494.0,353.7C1493.1,357.6 1492.4,361.5 1491.5,365.3C1490.6,369.1 1489.6,372.8 1488.7,376.5C1487.7,380.2 1486.5,383.8 1485.6,387.5C1484.6,391.1 1483.7,394.7 1482.8,398.4C1481.9,402.0 1481.1,405.7 1480.2,409.3C1479.4,413.0 1478.5,416.7 1477.7,420.4C1476.9,424.2 1476.1,427.9 1475.3,431.7C1474.5,435.5 1473.8,439.4 1473.0,443.2C1472.2,447.1 1471.5,451.0 1470.6,454.9C1469.7,458.7 1468.6,462.6 1467.6,466.5C1466.6,470.4 1465.7,474.3 1464.6,478.2C1463.6,482.2 1462.5,486.2 1461.3,490.2C1460.0,494.2 1458.8,498.3 1457.2,502.4C1455.6,506.4 1453.8,510.5 1451.9,514.6C1449.9,518.7 1447.5,522.8 1445.3,526.9C1443.1,531.0 1440.7,535.2 1438.4,539.3C1436.2,543.4 1433.9,547.5 1431.8,551.6C1429.7,555.6 1427.6,559.6 1425.8,563.5C1423.9,567.4 1422.2,571.3 1420.6,575.0C1418.9,578.8 1417.5,582.5 1415.8,586.1C1414.2,589.7 1412.7,593.3 1410.9,596.8C1409.1,600.3 1407.3,603.8 1405.2,607.3C1403.2,610.7 1400.8,614.2 1398.6,617.6C1396.3,621.0 1393.9,624.5 1391.6,627.9C1389.4,631.4 1387.1,634.8 1385.0,638.1C1382.9,641.4 1380.9,644.7 1379.1,647.8C1377.2,650.9 1375.6,653.9 1374.0,656.7C1372.4,659.5 1371.0,662.1 1369.5,664.7C1368.1,667.3 1367.0,669.7 1365.5,672.1C1364.0,674.5 1362.6,676.7 1360.7,679.0C1358.9,681.3 1355.5,684.7 1354.5,685.8" fill="none" stroke="#686868" stroke-width="1.5" stroke-linejoin="round" stroke-linecap="round"/>
<path d="M1497.0,342.0C1496.9,344.1 1496.7,350.4 1496.2,354.4C1495.7,358.5 1495.2,362.5 1494.2,366.5C1493.2,370.5 1491.6,374.4 1490.2,378.3C1488.8,382.1 1487.2,385.9 1485.8,389.6C1484.3,393.4 1482.9,397.2 1481.4,401.0C1480.0,404.9 1478.5,408.7 1477.2,412.7C1475.8,416.7 1474.5,420.7 1473.2,424.9C1471.9,429.1 1470.7,433.4 1469.6,437.7C1468.4,442.1 1467.4,446.5 1466.3,450.8C1465.1,455.2 1464.0,459.5 1462.7,463.6C1461.4,467.7 1459.9,471.7 1458.4,475.5C1457.0,479.4 1455.4,483.0 1453.9,486.7C1452.4,490.3 1450.8,493.8 1449.3,497.4C1447.7,501.0 1446.3,504.6 1444.8,508.3C1443.3,512.1 1441.9,515.9 1440.5,519.9C1439.2,524.0 1437.9,528.2 1436.9,532.5C1435.9,536.8 1435.1,541.4 1434.4,545.9C1433.8,550.3 1433.4,555.0 1433.0,559.4C1432.6,563.7 1432.4,568.1 1432.0,572.1C1431.6,576.1 1431.3,579.9 1430.7,583.4C1430.1,586.9 1429.4,590.2 1428.4,593.3C1427.4,596.5 1426.1,599.3 1424.6,602.4C1423.1,605.4 1421.3,608.3 1419.3,611.5C1417.4,614.7 1415.1,618.0 1413.0,621.6C1410.9,625.2 1408.7,629.0 1406.7,633.1C1404.7,637.1 1402.8,641.5 1401.1,645.8C1399.4,650.1 1397.9,654.6 1396.7,658.9C1395.5,663.1 1394.6,667.4 1394.0,671.5C1393.4,675.5 1393.0,679.3 1393.1,683.0C1393.2,686.7 1394.5,691.9 1394.8,693.7" fill="none" stroke="#686868" stroke-width="1.5" stroke-linejoin="round" stroke-linecap="round"/>
<path d="M1497.0,342.0C1496.7,343.9 1496.0,349.6 1495.4,353.6C1494.8,357.5 1494.2,361.5 1493.4,365.6C1492.5,369.7 1491.3,374.0 1490.2,378.2C1489.1,382.3 1487.8,386.5 1486.7,390.6C1485.5,394.7 1484.4,398.8 1483.3,402.8C1482.1,406.8 1481.0,410.8 1479.8,414.8C1478.6,418.7 1477.4,422.6 1476.2,426.4C1475.0,430.3 1473.8,434.1 1472.5,437.9C1471.3,441.6 1470.0,445.4 1468.6,449.1C1467.3,452.8 1465.9,456.5 1464.3,460.2C1462.7,463.9 1460.8,467.5 1459.0,471.2C1457.3,474.9 1455.5,478.6 1453.6,482.3C1451.8,486.1 1449.9,489.9 1448.1,493.7C1446.2,497.5 1444.4,501.3 1442.5,505.1C1440.6,508.9 1438.6,512.6 1436.7,516.3C1434.8,520.0 1432.8,523.5 1431.1,527.1C1429.4,530.6 1427.8,534.1 1426.3,537.5C1424.9,541.0 1423.6,544.4 1422.5,547.7C1421.4,551.1 1420.4,554.4 1419.5,557.8C1418.6,561.2 1417.9,564.5 1417.0,567.9C1416.2,571.3 1415.5,574.7 1414.6,578.2C1413.7,581.6 1412.7,585.1 1411.7,588.6C1410.6,592.1 1409.4,595.5 1408.1,599.0C1406.9,602.4 1405.5,605.8 1404.2,609.2C1402.9,612.5 1401.6,615.8 1400.6,619.1C1399.5,622.3 1398.5,625.5 1397.7,628.6C1396.9,631.7 1396.2,634.7 1395.7,637.6C1395.1,640.6 1394.7,643.5 1394.4,646.3C1394.0,649.1 1393.6,651.8 1393.4,654.6C1393.2,657.4 1393.1,660.2 1393.0,663.0C1392.8,665.8 1392.6,668.6 1392.2,671.5C1391.8,674.3 1391.3,677.1 1390.6,680.0C1390.0,682.9 1388.8,687.3 1388.5,688.8" fill="none" stroke="#686868" stroke-width="1.5" stroke-linejoin="round" stroke-linecap="round"/>
<path d="M1497.0,342.0C1497.0,343.9 1497.0,349.7 1496.7,353.6C1496.4,357.6 1495.9,361.6 1495.2,365.6C1494.6,369.6 1493.7,373.8 1492.7,377.8C1491.8,381.8 1490.7,385.7 1489.7,389.6C1488.6,393.5 1487.6,397.4 1486.5,401.3C1485.4,405.2 1484.2,409.0 1483.0,412.8C1481.8,416.7 1480.5,420.5 1479.3,424.4C1478.1,428.2 1476.8,432.1 1475.7,436.1C1474.6,440.0 1473.5,444.0 1472.5,448.1C1471.5,452.1 1470.6,456.3 1469.6,460.5C1468.7,464.6 1467.7,468.8 1466.9,473.1C1466.1,477.4 1465.4,481.8 1464.7,486.1C1463.9,490.4 1463.3,494.8 1462.4,499.0C1461.5,503.2 1460.7,507.5 1459.4,511.4C1458.2,515.4 1456.7,519.2 1454.9,522.7C1453.1,526.3 1450.9,529.5 1448.7,532.8C1446.6,536.0 1444.2,538.9 1441.8,542.0C1439.5,545.0 1437.0,547.9 1434.8,551.0C1432.6,554.1 1430.3,557.1 1428.4,560.5C1426.4,563.8 1424.7,567.3 1423.1,570.9C1421.5,574.6 1420.2,578.5 1419.0,582.3C1417.7,586.2 1416.7,590.2 1415.6,594.0C1414.6,597.8 1413.6,601.7 1412.6,605.1C1411.7,608.6 1410.7,611.8 1409.8,614.7C1408.9,617.7 1408.0,620.2 1407.3,622.7C1406.6,625.2 1406.0,627.3 1405.5,629.7C1405.0,632.0 1404.6,634.1 1404.3,636.7C1404.0,639.3 1403.8,642.1 1403.5,645.4C1403.3,648.8 1403.0,652.6 1402.6,657.0C1402.3,661.4 1402.1,666.6 1401.4,671.9C1400.8,677.3 1400.0,683.4 1398.6,689.3C1397.2,695.2 1395.4,701.5 1393.2,707.4C1391.0,713.3 1386.8,721.7 1385.5,724.5" fill="none" stroke="#686868" stroke-width="1.5" stroke-linejoin="round" stroke-linecap="round"/>
<path d="M1497.0,342.0C1497.0,343.9 1497.4,349.5 1497.2,353.3C1497.0,357.1 1496.5,361.1 1496.1,365.0C1495.6,368.9 1495.1,373.0 1494.5,376.9C1493.9,380.8 1493.1,384.7 1492.5,388.6C1491.8,392.5 1491.2,396.4 1490.6,400.2C1489.9,404.0 1489.3,407.8 1488.6,411.6C1487.9,415.4 1487.2,419.1 1486.5,422.9C1485.8,426.6 1485.1,430.3 1484.4,434.0C1483.6,437.6 1482.9,441.3 1482.1,444.9C1481.3,448.4 1480.5,452.0 1479.6,455.3C1478.7,458.7 1477.7,462.0 1476.8,465.2C1476.0,468.4 1475.2,471.5 1474.6,474.6C1474.0,477.8 1473.6,480.8 1473.3,483.9C1472.9,487.1 1472.9,490.3 1472.8,493.6C1472.7,497.0 1472.7,500.4 1472.6,504.0C1472.6,507.7 1472.5,511.5 1472.4,515.4C1472.3,519.4 1472.2,523.7 1472.0,528.0C1471.7,532.2 1471.4,536.7 1470.9,541.0C1470.3,545.3 1469.5,549.7 1468.5,553.8C1467.5,557.8 1466.3,561.8 1464.8,565.4C1463.3,569.0 1461.6,572.4 1459.7,575.5C1457.7,578.6 1455.5,581.4 1453.1,584.1C1450.8,586.9 1448.2,589.3 1445.7,592.0C1443.1,594.7 1440.3,597.2 1437.8,600.2C1435.3,603.1 1432.8,606.2 1430.6,609.6C1428.3,613.1 1426.3,616.9 1424.5,620.9C1422.6,624.9 1421.0,629.2 1419.6,633.7C1418.3,638.1 1417.2,642.9 1416.2,647.5C1415.2,652.2 1414.4,657.0 1413.8,661.7C1413.2,666.4 1412.9,671.2 1412.5,675.8C1412.1,680.5 1411.5,687.3 1411.2,689.6" fill="none" stroke="#686868" stroke-width="1.5" stroke-linejoin="round" stroke-linecap="round"/>
<path d="M1497.0,342.0C1496.4,344.1 1494.4,350.5 1493.4,354.7C1492.4,358.8 1491.8,362.8 1491.0,366.9C1490.2,370.9 1489.5,374.9 1488.6,379.0C1487.8,383.0 1486.7,386.9 1485.8,390.9C1485.0,394.9 1484.1,399.0 1483.4,403.0C1482.6,407.0 1481.9,411.0 1481.3,414.9C1480.7,418.9 1480.1,422.8 1479.6,426.7C1479.1,430.6 1478.7,434.4 1478.2,438.2C1477.7,442.0 1477.2,445.7 1476.6,449.5C1476.0,453.2 1475.4,456.9 1474.5,460.6C1473.7,464.3 1472.6,468.0 1471.7,471.8C1470.8,475.5 1469.8,479.4 1469.0,483.3C1468.1,487.2 1467.3,491.2 1466.5,495.1C1465.6,499.1 1465.0,503.2 1464.0,507.1C1463.0,511.0 1461.9,514.9 1460.5,518.7C1459.0,522.5 1457.3,526.2 1455.3,529.8C1453.2,533.5 1450.9,537.0 1448.3,540.7C1445.7,544.3 1442.8,547.9 1439.8,551.7C1436.9,555.4 1433.6,559.3 1430.7,563.3C1427.8,567.4 1424.8,571.7 1422.3,576.2C1419.9,580.6 1417.7,585.4 1415.9,590.1C1414.2,594.9 1412.9,599.9 1411.9,604.7C1410.8,609.6 1410.3,614.5 1409.7,619.1C1409.1,623.8 1408.7,628.3 1408.1,632.5C1407.5,636.7 1406.9,640.6 1406.0,644.3C1405.0,648.1 1403.9,651.5 1402.5,654.8C1401.1,658.2 1399.2,661.2 1397.6,664.4C1395.9,667.7 1394.0,670.8 1392.6,674.1C1391.1,677.5 1389.6,680.9 1389.0,684.5C1388.3,688.2 1388.3,692.2 1388.7,696.2C1389.0,700.2 1390.1,704.5 1391.1,708.6C1392.1,712.7 1393.6,716.9 1394.5,720.9C1395.4,724.9 1396.5,728.8 1396.7,732.5C1396.9,736.3 1396.0,741.5 1395.9,743.3" fill="none" stroke="#686868" stroke-width="1.5" stroke-linejoin="round" stroke-linecap="round"/>
<path d="M1497.0,342.0C1496.6,343.8 1495.6,349.3 1494.8,353.0C1494.1,356.8 1493.4,360.7 1492.5,364.4C1491.6,368.1 1490.4,371.8 1489.2,375.4C1488.1,379.1 1486.8,382.8 1485.7,386.5C1484.6,390.2 1483.5,393.9 1482.4,397.6C1481.4,401.3 1480.3,405.1 1479.2,408.8C1478.2,412.6 1477.1,416.4 1476.0,420.1C1474.9,423.8 1473.8,427.6 1472.7,431.2C1471.7,434.9 1470.6,438.5 1469.5,442.1C1468.4,445.6 1467.3,449.0 1466.2,452.4C1465.0,455.7 1463.8,458.9 1462.7,462.2C1461.7,465.4 1460.7,468.6 1459.9,471.8C1459.0,475.1 1458.2,478.3 1457.4,481.8C1456.6,485.2 1456.0,488.7 1455.0,492.3C1454.1,495.9 1453.1,499.6 1451.7,503.4C1450.4,507.2 1448.8,511.2 1447.0,515.1C1445.3,519.0 1443.3,523.1 1441.2,527.1C1439.1,531.1 1436.8,535.1 1434.4,538.9C1432.1,542.8 1429.5,546.6 1427.0,550.2C1424.6,553.9 1422.1,557.4 1419.6,560.9C1417.2,564.4 1414.8,567.7 1412.4,571.1C1410.1,574.4 1407.7,577.7 1405.4,581.1C1403.1,584.5 1400.8,587.8 1398.5,591.3C1396.1,594.8 1393.7,598.3 1391.4,601.9C1389.2,605.5 1386.9,609.3 1384.7,612.9C1382.6,616.6 1380.6,620.3 1378.6,623.9C1376.7,627.5 1374.9,631.1 1373.3,634.5C1371.7,637.9 1370.3,641.2 1369.0,644.4C1367.7,647.7 1366.6,650.7 1365.6,653.8C1364.6,657.0 1364.1,660.1 1363.2,663.4C1362.4,666.6 1361.2,671.7 1360.7,673.4" fill="none" stroke="#686868" stroke-width="1.5" stroke-linejoin="round" stroke-linecap="round"/>
<path d="M1497.0,342.0C1496.8,344.0 1496.4,350.0 1496.1,353.9C1495.7,357.9 1495.1,361.8 1494.8,365.7C1494.4,369.7 1494.2,373.6 1493.9,377.6C1493.5,381.6 1493.0,385.6 1492.5,389.7C1492.0,393.7 1491.5,397.8 1490.9,401.9C1490.3,406.0 1489.6,410.1 1488.8,414.2C1488.0,418.2 1487.1,422.3 1486.2,426.3C1485.4,430.2 1484.4,434.2 1483.5,438.1C1482.6,442.0 1481.6,445.9 1480.8,449.7C1479.9,453.6 1479.1,457.4 1478.4,461.2C1477.6,464.9 1476.7,468.7 1476.1,472.4C1475.5,476.2 1475.0,479.9 1474.6,483.7C1474.1,487.5 1473.9,491.3 1473.5,495.1C1473.1,499.0 1472.8,502.8 1472.2,506.6C1471.6,510.4 1471.0,514.2 1469.9,518.0C1468.8,521.8 1467.5,525.6 1465.9,529.3C1464.3,533.1 1462.3,536.9 1460.2,540.7C1458.1,544.5 1455.6,548.3 1453.2,552.1C1450.7,556.0 1447.9,559.8 1445.5,563.7C1443.1,567.6 1440.6,571.5 1438.6,575.4C1436.6,579.4 1434.8,583.4 1433.5,587.3C1432.1,591.3 1431.0,595.2 1430.4,599.1C1429.7,603.1 1429.5,607.0 1429.4,610.9C1429.3,614.8 1429.5,618.7 1429.9,622.7C1430.3,626.7 1431.1,630.7 1431.7,634.9C1432.3,639.1 1433.0,643.4 1433.3,647.8C1433.6,652.2 1433.8,656.8 1433.7,661.4C1433.6,666.1 1433.2,670.9 1432.8,675.8C1432.4,680.7 1431.7,685.7 1431.3,690.7C1431.0,695.6 1430.7,700.7 1430.8,705.7C1431.0,710.6 1431.9,718.0 1432.2,720.4" fill="none" stroke="#686868" stroke-width="1.5" stroke-linejoin="round" stroke-linecap="round"/>
<path d="M1497.0,342.0C1496.6,343.8 1495.4,349.2 1494.6,352.9C1493.9,356.6 1493.2,360.4 1492.4,364.0C1491.5,367.7 1490.5,371.1 1489.5,374.7C1488.5,378.2 1487.3,381.7 1486.3,385.2C1485.3,388.7 1484.3,392.2 1483.4,395.7C1482.5,399.3 1481.7,402.8 1481.0,406.3C1480.2,409.8 1479.6,413.3 1479.0,416.9C1478.4,420.4 1477.9,424.0 1477.3,427.5C1476.8,431.1 1476.3,434.6 1475.6,438.2C1475.0,441.8 1474.3,445.3 1473.3,448.9C1472.4,452.5 1471.2,456.1 1470.0,459.7C1468.8,463.3 1467.5,467.0 1466.3,470.7C1465.1,474.5 1463.8,478.2 1462.7,482.1C1461.6,486.0 1460.5,489.9 1459.5,493.9C1458.5,497.9 1457.6,501.9 1456.7,506.0C1455.7,510.0 1454.8,514.1 1453.8,518.2C1452.8,522.3 1451.8,526.5 1450.5,530.6C1449.2,534.7 1447.9,538.8 1446.3,542.8C1444.7,546.9 1442.8,550.8 1441.0,554.8C1439.2,558.8 1437.1,562.7 1435.3,566.6C1433.5,570.5 1431.7,574.4 1430.1,578.2C1428.5,582.0 1427.0,585.8 1425.9,589.5C1424.7,593.3 1423.8,597.0 1423.1,600.6C1422.3,604.2 1421.8,607.8 1421.4,611.3C1421.0,614.9 1421.1,618.4 1420.8,621.8C1420.5,625.1 1420.2,628.4 1419.5,631.6C1418.8,634.7 1417.8,637.8 1416.5,640.7C1415.2,643.6 1413.5,646.3 1411.7,649.0C1409.9,651.7 1407.7,654.3 1405.9,656.9C1404.1,659.6 1402.2,662.1 1400.8,664.9C1399.3,667.7 1397.8,672.1 1397.2,673.5" fill="none" stroke="#686868" stroke-width="1.5" stroke-linejoin="round" stroke-linecap="round"/>
<path d="M1497.0,342.0C1496.5,343.8 1494.9,349.3 1494.0,353.1C1493.1,356.9 1492.4,360.7 1491.5,364.7C1490.5,368.6 1489.4,372.6 1488.4,376.6C1487.4,380.6 1486.3,384.6 1485.4,388.6C1484.4,392.6 1483.6,396.6 1482.7,400.6C1481.8,404.6 1481.1,408.6 1480.2,412.5C1479.4,416.5 1478.6,420.4 1477.8,424.4C1476.9,428.3 1476.1,432.2 1475.1,436.1C1474.2,440.1 1473.2,444.0 1472.1,448.0C1471.0,451.9 1469.8,455.9 1468.5,459.9C1467.2,463.9 1465.7,467.9 1464.5,471.9C1463.2,475.8 1461.9,479.9 1460.9,483.8C1459.8,487.8 1458.9,491.8 1458.1,495.7C1457.3,499.5 1456.7,503.4 1456.1,507.1C1455.5,510.8 1455.0,514.4 1454.4,517.9C1453.8,521.4 1453.1,524.8 1452.3,528.2C1451.4,531.6 1450.5,534.9 1449.4,538.3C1448.3,541.7 1447.0,545.0 1445.7,548.6C1444.4,552.2 1442.8,555.8 1441.5,559.6C1440.2,563.4 1438.8,567.4 1437.9,571.6C1437.0,575.7 1436.3,580.0 1435.9,584.4C1435.6,588.7 1435.5,593.1 1435.8,597.5C1436.0,601.8 1436.7,606.1 1437.3,610.3C1437.9,614.4 1438.8,618.4 1439.6,622.3C1440.3,626.2 1441.4,629.9 1442.0,633.4C1442.5,637.0 1442.9,640.3 1442.8,643.6C1442.6,646.8 1442.0,649.9 1441.1,653.0C1440.1,656.1 1438.6,659.1 1437.2,662.2C1435.9,665.3 1434.0,668.4 1432.7,671.5C1431.4,674.7 1430.2,677.9 1429.6,681.2C1429.0,684.5 1428.9,687.9 1429.2,691.3C1429.4,694.8 1430.9,700.1 1431.3,701.8" fill="none" stroke="#686868" stroke-width="1.5" stroke-linejoin="round" stroke-linecap="round"/>
<path d="M1497.0,342.0C1496.8,343.8 1496.1,349.3 1495.5,353.0C1495.0,356.8 1494.4,360.6 1493.7,364.4C1493.1,368.2 1492.4,371.9 1491.7,375.7C1491.0,379.5 1490.3,383.3 1489.6,387.1C1488.9,390.9 1488.2,394.7 1487.3,398.4C1486.5,402.2 1485.6,406.0 1484.6,409.7C1483.5,413.4 1482.4,417.1 1481.2,420.8C1479.9,424.4 1478.5,428.0 1477.1,431.6C1475.7,435.2 1474.2,438.8 1472.7,442.3C1471.1,445.9 1469.5,449.5 1467.9,453.1C1466.3,456.6 1464.5,460.2 1463.0,463.9C1461.5,467.5 1460.0,471.2 1458.8,475.0C1457.6,478.8 1456.5,482.6 1455.6,486.5C1454.7,490.3 1454.1,494.3 1453.5,498.2C1452.8,502.2 1452.4,506.1 1452.0,510.1C1451.5,514.0 1451.1,518.0 1450.7,521.9C1450.3,525.8 1449.9,529.8 1449.4,533.7C1449.0,537.6 1448.5,541.5 1447.8,545.4C1447.1,549.3 1446.3,553.2 1445.3,557.1C1444.4,560.9 1443.4,564.8 1442.3,568.5C1441.1,572.3 1439.9,576.1 1438.6,579.7C1437.2,583.4 1435.7,586.9 1434.2,590.4C1432.7,593.9 1431.0,597.3 1429.5,600.6C1428.0,604.0 1426.2,607.2 1425.0,610.5C1423.7,613.9 1422.7,617.2 1422.0,620.7C1421.2,624.2 1420.6,627.8 1420.2,631.5C1419.8,635.2 1419.6,639.1 1419.6,643.2C1419.6,647.3 1419.7,651.5 1420.0,655.9C1420.2,660.3 1420.5,664.9 1421.0,669.5C1421.4,674.1 1422.1,678.9 1422.7,683.6C1423.3,688.3 1424.2,695.2 1424.5,697.6" fill="none" stroke="#686868" stroke-width="1.5" stroke-linejoin="round" stroke-linecap="round"/>
<path d="M1497.0,342.0C1496.7,343.9 1495.8,349.6 1495.2,353.4C1494.5,357.2 1493.9,361.1 1493.2,364.8C1492.4,368.6 1491.6,372.2 1490.8,376.0C1490.0,379.7 1489.1,383.5 1488.4,387.3C1487.7,391.1 1487.1,394.9 1486.4,398.8C1485.8,402.6 1485.2,406.5 1484.5,410.3C1483.8,414.1 1483.2,417.9 1482.3,421.7C1481.5,425.5 1480.6,429.2 1479.6,433.0C1478.6,436.7 1477.5,440.4 1476.3,444.1C1475.1,447.8 1473.8,451.5 1472.4,455.3C1471.0,459.0 1469.4,462.7 1468.0,466.4C1466.7,470.2 1465.4,474.0 1464.3,477.9C1463.2,481.7 1462.3,485.6 1461.5,489.4C1460.6,493.2 1460.0,497.1 1459.3,500.8C1458.6,504.5 1458.1,508.2 1457.3,511.8C1456.5,515.4 1455.6,518.9 1454.6,522.3C1453.6,525.8 1452.5,529.1 1451.2,532.5C1449.9,535.9 1448.5,539.2 1447.1,542.5C1445.7,545.9 1444.0,549.3 1442.7,552.7C1441.3,556.1 1440.0,559.6 1439.0,563.2C1438.0,566.7 1437.2,570.3 1436.6,573.9C1436.0,577.5 1435.6,581.1 1435.3,584.7C1434.9,588.3 1434.9,591.8 1434.7,595.4C1434.5,598.9 1434.4,602.4 1434.3,606.0C1434.2,609.7 1434.4,613.3 1434.3,617.3C1434.3,621.2 1434.3,625.2 1434.1,629.6C1434.0,634.0 1433.7,638.6 1433.5,643.5C1433.3,648.5 1433.1,653.8 1433.1,659.4C1433.0,664.9 1433.0,670.9 1433.3,676.9C1433.6,682.9 1434.2,689.2 1435.0,695.3C1435.7,701.4 1436.8,707.6 1437.7,713.4C1438.7,719.3 1439.7,725.0 1440.7,730.3C1441.6,735.6 1442.9,742.8 1443.4,745.3" fill="none" stroke="#686868" stroke-width="1.5" stroke-linejoin="round" stroke-linecap="round"/>
<path d="M1497.0,342.0C1496.5,343.8 1494.8,348.9 1493.8,352.6C1492.9,356.2 1492.3,360.0 1491.5,363.7C1490.8,367.5 1490.1,371.2 1489.3,374.9C1488.5,378.6 1487.6,382.3 1486.7,386.1C1485.8,389.9 1484.8,393.7 1483.8,397.5C1482.8,401.3 1481.8,405.1 1480.7,409.0C1479.6,412.9 1478.4,416.8 1477.2,420.8C1476.0,424.7 1474.8,428.7 1473.5,432.7C1472.3,436.6 1471.0,440.7 1469.7,444.6C1468.5,448.6 1467.2,452.5 1465.9,456.4C1464.6,460.2 1463.1,464.0 1461.8,467.7C1460.6,471.5 1459.4,475.2 1458.3,478.9C1457.2,482.7 1456.3,486.4 1455.4,490.1C1454.5,493.9 1453.8,497.7 1453.0,501.6C1452.3,505.6 1451.6,509.6 1450.9,513.7C1450.3,517.8 1449.6,522.0 1448.9,526.2C1448.3,530.5 1447.7,534.9 1447.0,539.2C1446.3,543.5 1445.7,547.8 1444.9,552.0C1444.2,556.2 1443.3,560.4 1442.5,564.3C1441.6,568.3 1440.7,572.1 1439.8,575.8C1438.8,579.4 1437.9,582.9 1436.7,586.3C1435.6,589.7 1434.4,592.9 1433.1,596.2C1431.8,599.4 1430.4,602.6 1429.0,605.9C1427.6,609.2 1426.1,612.5 1424.8,616.1C1423.5,619.6 1422.5,623.3 1421.4,627.1C1420.3,631.0 1419.4,635.0 1418.4,639.0C1417.4,643.0 1416.5,647.2 1415.4,651.3C1414.4,655.4 1413.3,659.6 1412.1,663.6C1410.9,667.7 1409.5,671.7 1408.2,675.6C1407.0,679.5 1405.7,683.3 1404.4,687.1C1403.2,690.8 1402.0,694.5 1400.9,698.1C1399.8,701.7 1398.7,705.2 1397.9,708.7C1397.1,712.2 1396.4,717.2 1396.2,718.9" fill="none" stroke="#686868" stroke-width="1.5" stroke-linejoin="round" stroke-linecap="round"/>
<path d="M1497.0,342.0C1496.6,343.9 1495.5,349.6 1494.8,353.4C1494.1,357.2 1493.5,361.1 1492.7,364.8C1492.0,368.6 1491.3,372.2 1490.5,375.9C1489.6,379.6 1488.6,383.3 1487.7,387.1C1486.7,390.9 1485.6,394.7 1484.5,398.6C1483.4,402.5 1482.3,406.5 1481.1,410.5C1479.9,414.4 1478.6,418.4 1477.4,422.3C1476.1,426.3 1474.9,430.2 1473.6,434.0C1472.4,437.7 1471.2,441.4 1470.0,445.1C1468.8,448.7 1467.7,452.2 1466.5,455.7C1465.3,459.1 1464.0,462.5 1462.8,465.9C1461.7,469.4 1460.6,472.8 1459.7,476.3C1458.7,479.9 1457.8,483.5 1456.9,487.2C1456.0,490.9 1455.3,494.7 1454.5,498.5C1453.7,502.2 1452.9,506.1 1452.1,509.8C1451.3,513.4 1450.4,517.1 1449.7,520.6C1448.9,524.0 1448.1,527.3 1447.4,530.5C1446.7,533.7 1446.0,536.6 1445.4,539.6C1444.8,542.5 1444.2,545.2 1443.7,548.0C1443.2,550.8 1442.9,553.6 1442.6,556.6C1442.2,559.5 1442.0,562.6 1441.7,565.9C1441.3,569.2 1441.0,572.7 1440.4,576.3C1439.8,580.0 1439.2,583.9 1438.2,587.8C1437.3,591.8 1436.0,595.9 1434.7,600.0C1433.4,604.0 1432.0,608.2 1430.3,612.2C1428.7,616.2 1426.8,620.1 1424.7,623.9C1422.6,627.6 1420.2,631.2 1417.7,634.6C1415.3,638.1 1412.6,641.3 1410.1,644.6C1407.6,647.9 1404.8,651.0 1402.5,654.3C1400.2,657.6 1397.2,662.7 1396.2,664.4" fill="none" stroke="#686868" stroke-width="1.5" stroke-linejoin="round" stroke-linecap="round"/>
<path d="M1497.0,342.0C1496.9,343.8 1496.6,349.3 1496.2,353.0C1495.9,356.7 1495.4,360.5 1494.9,364.2C1494.5,367.8 1494.2,371.3 1493.8,374.9C1493.3,378.5 1492.8,382.1 1492.2,385.8C1491.7,389.4 1491.2,393.2 1490.7,396.9C1490.2,400.6 1489.6,404.5 1489.1,408.2C1488.6,412.0 1488.0,415.7 1487.5,419.4C1486.9,423.2 1486.4,426.8 1485.7,430.5C1485.1,434.1 1484.5,437.7 1483.7,441.4C1482.8,445.0 1481.9,448.6 1480.7,452.3C1479.5,456.0 1478.0,459.7 1476.4,463.5C1474.8,467.4 1473.1,471.4 1471.3,475.5C1469.5,479.6 1467.5,483.8 1465.7,488.1C1463.8,492.4 1461.9,496.9 1460.3,501.3C1458.6,505.7 1457.0,510.1 1455.7,514.4C1454.4,518.8 1453.3,523.0 1452.6,527.3C1451.9,531.5 1451.5,535.7 1451.3,539.9C1451.1,544.1 1451.3,548.3 1451.4,552.5C1451.5,556.8 1451.8,561.1 1451.9,565.6C1452.0,570.0 1452.2,574.6 1452.0,579.2C1451.8,583.9 1451.5,588.7 1450.7,593.4C1449.9,598.1 1448.8,602.9 1447.5,607.4C1446.1,611.9 1444.4,616.3 1442.7,620.4C1441.1,624.4 1439.0,628.2 1437.6,631.8C1436.2,635.3 1435.0,638.5 1434.2,641.6C1433.4,644.7 1433.0,647.5 1432.8,650.4C1432.6,653.3 1432.8,656.0 1433.0,659.0C1433.2,662.0 1433.8,665.0 1434.0,668.4C1434.2,671.8 1434.5,675.4 1434.4,679.2C1434.3,683.0 1434.1,687.1 1433.5,691.2C1432.8,695.2 1431.8,699.5 1430.6,703.5C1429.3,707.4 1426.6,713.0 1425.9,714.9" fill="none" stroke="#686868" stroke-width="1.5" stroke-linejoin="round" stroke-linecap="round"/>
<path d="M1497.0,342.0C1496.7,343.9 1495.8,349.5 1495.2,353.3C1494.6,357.1 1494.0,361.0 1493.4,364.8C1492.9,368.6 1492.4,372.4 1491.8,376.1C1491.3,379.9 1490.6,383.6 1490.0,387.4C1489.4,391.1 1488.8,394.9 1488.2,398.7C1487.5,402.4 1486.9,406.2 1486.2,410.0C1485.6,413.8 1484.9,417.6 1484.2,421.5C1483.6,425.3 1482.9,429.2 1482.3,433.0C1481.7,436.9 1481.1,440.8 1480.5,444.6C1479.9,448.5 1479.4,452.3 1478.8,456.1C1478.1,459.8 1477.4,463.5 1476.7,467.2C1476.0,470.9 1475.4,474.5 1474.7,478.1C1474.0,481.7 1473.4,485.2 1472.6,488.7C1471.8,492.1 1470.9,495.6 1469.9,499.0C1468.8,502.4 1467.6,505.7 1466.2,509.1C1464.8,512.4 1463.1,515.7 1461.4,519.0C1459.7,522.3 1457.8,525.6 1455.9,528.9C1454.0,532.3 1451.9,535.6 1450.0,539.0C1448.1,542.3 1446.1,545.7 1444.3,549.0C1442.6,552.4 1441.0,555.8 1439.6,559.2C1438.2,562.5 1437.0,565.9 1435.9,569.2C1434.8,572.6 1434.0,575.8 1433.1,579.0C1432.2,582.2 1431.5,585.4 1430.8,588.5C1430.0,591.5 1429.2,594.5 1428.4,597.6C1427.7,600.6 1427.2,603.7 1426.5,606.8C1425.8,610.0 1425.0,613.1 1424.1,616.5C1423.1,619.9 1422.0,623.3 1420.8,627.0C1419.6,630.6 1418.2,634.5 1416.8,638.6C1415.4,642.7 1413.8,647.1 1412.5,651.6C1411.3,656.2 1410.0,661.1 1409.0,666.0C1408.0,670.9 1407.2,676.1 1406.6,681.2C1406.0,686.3 1405.5,691.6 1405.3,696.6C1405.0,701.6 1405.3,708.9 1405.3,711.4" fill="none" stroke="#686868" stroke-width="1.5" stroke-linejoin="round" stroke-linecap="round"/>
<path d="M1497.0,342.0C1496.7,343.8 1495.6,349.0 1494.9,352.7C1494.3,356.3 1493.6,360.1 1493.1,363.8C1492.6,367.5 1492.2,371.0 1491.7,374.7C1491.2,378.3 1490.7,381.9 1490.2,385.6C1489.8,389.3 1489.3,392.9 1489.0,396.6C1488.6,400.4 1488.2,404.1 1487.9,407.9C1487.5,411.7 1487.3,415.5 1487.0,419.4C1486.7,423.3 1486.4,427.3 1486.1,431.2C1485.8,435.2 1485.6,439.3 1485.2,443.3C1484.8,447.3 1484.4,451.3 1483.8,455.3C1483.2,459.2 1482.4,463.1 1481.6,467.0C1480.9,470.8 1480.1,474.6 1479.4,478.4C1478.7,482.1 1478.0,485.8 1477.4,489.4C1476.8,493.0 1476.4,496.6 1476.0,500.2C1475.6,503.8 1475.3,507.3 1474.9,510.9C1474.5,514.5 1474.2,518.1 1473.7,521.8C1473.1,525.5 1472.6,529.2 1471.7,533.1C1470.8,537.0 1469.7,541.0 1468.2,545.1C1466.6,549.1 1464.7,553.3 1462.4,557.6C1460.2,561.8 1457.5,566.2 1454.7,570.7C1451.9,575.1 1448.7,579.7 1445.6,584.3C1442.6,588.9 1439.2,593.5 1436.1,598.2C1433.1,602.9 1430.0,607.7 1427.3,612.5C1424.7,617.3 1422.2,622.2 1420.3,627.1C1418.4,632.0 1417.1,637.0 1416.0,642.0C1414.9,646.9 1414.3,651.9 1413.7,656.7C1413.1,661.5 1412.7,666.3 1412.3,670.8C1411.8,675.2 1411.4,679.6 1410.9,683.5C1410.4,687.5 1409.8,691.2 1409.2,694.5C1408.7,697.9 1408.2,700.9 1407.9,703.6C1407.5,706.4 1407.2,708.7 1407.0,711.0C1406.8,713.2 1406.6,716.1 1406.6,717.2" fill="none" stroke="#686868" stroke-width="1.5" stroke-linejoin="round" stroke-linecap="round"/>
<path d="M1497.0,342.0C1496.4,344.0 1494.6,350.1 1493.6,354.1C1492.6,358.0 1491.9,361.9 1491.0,365.9C1490.1,369.8 1489.0,373.6 1488.0,377.6C1487.1,381.5 1486.1,385.5 1485.1,389.5C1484.2,393.5 1483.3,397.6 1482.4,401.6C1481.5,405.6 1480.6,409.7 1479.6,413.7C1478.6,417.7 1477.6,421.7 1476.7,425.6C1475.7,429.5 1474.7,433.3 1473.8,437.1C1472.9,440.9 1472.1,444.6 1471.3,448.3C1470.5,452.0 1469.9,455.7 1469.2,459.4C1468.5,463.2 1467.8,466.8 1467.2,470.6C1466.6,474.4 1466.1,478.2 1465.6,482.0C1465.0,485.8 1464.5,489.7 1463.7,493.5C1462.9,497.2 1462.1,501.0 1460.9,504.7C1459.8,508.3 1458.3,511.9 1456.7,515.3C1455.1,518.7 1453.1,522.0 1451.1,525.3C1449.2,528.6 1447.0,531.8 1445.0,535.1C1442.9,538.5 1440.9,541.8 1439.0,545.4C1437.2,549.0 1435.4,552.7 1434.0,556.8C1432.5,560.8 1431.3,565.2 1430.3,569.6C1429.2,574.1 1428.5,578.9 1427.7,583.7C1426.8,588.4 1426.1,593.3 1425.2,598.0C1424.4,602.6 1423.5,607.3 1422.5,611.6C1421.5,615.9 1420.3,619.9 1419.5,623.7C1418.6,627.6 1417.9,631.1 1417.4,634.4C1416.9,637.8 1416.6,640.8 1416.6,643.9C1416.6,647.0 1416.9,649.9 1417.5,652.9C1418.0,655.9 1419.0,658.9 1420.1,662.1C1421.2,665.2 1422.5,668.4 1423.9,671.7C1425.3,675.0 1427.0,678.5 1428.5,681.8C1429.9,685.2 1431.5,688.6 1432.6,691.8C1433.8,695.0 1434.9,699.7 1435.3,701.3" fill="none" stroke="#686868" stroke-width="1.5" stroke-linejoin="round" stroke-linecap="round"/>
<path d="M1497.0,342.0C1496.9,344.0 1496.9,350.1 1496.6,354.0C1496.3,358.0 1495.9,361.9 1495.4,365.7C1495.0,369.5 1494.4,373.3 1493.8,377.0C1493.3,380.7 1492.6,384.4 1492.0,388.1C1491.3,391.8 1490.6,395.4 1489.8,399.1C1489.0,402.8 1488.2,406.4 1487.2,410.1C1486.2,413.8 1485.0,417.5 1483.9,421.2C1482.7,424.9 1481.4,428.7 1480.1,432.5C1478.9,436.3 1477.7,440.1 1476.6,443.9C1475.5,447.7 1474.5,451.5 1473.6,455.3C1472.7,459.1 1471.8,462.8 1471.1,466.5C1470.3,470.2 1469.8,473.9 1469.2,477.5C1468.6,481.2 1468.2,484.7 1467.4,488.3C1466.7,491.8 1465.9,495.3 1464.8,498.8C1463.7,502.2 1462.3,505.6 1460.7,509.0C1459.1,512.4 1457.2,515.8 1455.2,519.2C1453.3,522.6 1451.1,525.9 1449.2,529.3C1447.2,532.8 1445.2,536.2 1443.7,539.7C1442.1,543.2 1440.7,546.7 1439.8,550.4C1438.9,554.1 1438.4,557.8 1438.3,561.7C1438.2,565.6 1438.9,569.6 1439.2,573.7C1439.6,577.8 1440.2,582.0 1440.5,586.3C1440.7,590.6 1440.9,595.0 1440.7,599.5C1440.5,603.9 1439.8,608.5 1439.3,613.0C1438.7,617.5 1438.0,622.1 1437.6,626.6C1437.1,631.1 1436.7,635.6 1436.5,639.9C1436.4,644.3 1436.2,648.7 1436.7,652.9C1437.2,657.1 1438.0,661.3 1439.4,665.4C1440.8,669.5 1442.7,673.6 1445.1,677.6C1447.4,681.7 1452.0,687.7 1453.4,689.7" fill="none" stroke="#686868" stroke-width="1.5" stroke-linejoin="round" stroke-linecap="round"/>
<path d="M1497.0,342.0C1497.0,343.9 1497.3,349.5 1497.2,353.3C1497.1,357.1 1496.7,360.9 1496.3,364.7C1495.9,368.6 1495.3,372.5 1494.7,376.4C1494.1,380.3 1493.4,384.2 1492.7,388.2C1492.0,392.1 1491.3,396.0 1490.7,399.9C1490.0,403.8 1489.4,407.7 1488.8,411.5C1488.2,415.3 1487.7,419.1 1487.2,422.8C1486.7,426.5 1486.3,430.1 1485.9,433.7C1485.5,437.4 1485.2,440.9 1484.9,444.5C1484.6,448.1 1484.4,451.7 1484.0,455.4C1483.7,459.0 1483.3,462.7 1482.9,466.4C1482.6,470.2 1482.3,474.0 1482.1,477.9C1481.9,481.7 1481.7,485.6 1481.6,489.5C1481.5,493.3 1481.5,497.1 1481.6,500.8C1481.7,504.4 1481.8,508.0 1482.0,511.4C1482.2,514.9 1482.4,518.1 1482.7,521.4C1482.9,524.6 1483.2,527.7 1483.4,530.9C1483.6,534.0 1483.8,537.1 1483.9,540.5C1483.9,543.8 1483.9,547.2 1483.8,550.8C1483.8,554.4 1483.6,558.3 1483.5,562.3C1483.4,566.2 1483.4,570.5 1483.2,574.7C1483.0,578.8 1482.7,583.2 1482.3,587.3C1481.9,591.4 1481.4,595.5 1480.8,599.3C1480.1,603.0 1479.2,606.6 1478.6,610.0C1478.1,613.4 1477.6,616.5 1477.3,619.5C1476.9,622.6 1476.8,625.4 1476.4,628.3C1476.0,631.2 1475.5,634.0 1475.0,637.1C1474.5,640.1 1473.9,643.2 1473.4,646.6C1472.9,649.9 1472.2,653.5 1471.9,657.0C1471.6,660.6 1471.7,666.2 1471.6,668.1" fill="none" stroke="#686868" stroke-width="1.5" stroke-linejoin="round" stroke-linecap="round"/>
<path d="M1497.0,342.0C1496.7,343.9 1496.0,349.7 1495.4,353.5C1494.9,357.4 1494.4,361.2 1493.6,364.9C1492.9,368.7 1491.9,372.3 1490.8,375.9C1489.8,379.6 1488.5,383.2 1487.3,386.9C1486.1,390.5 1484.8,394.2 1483.4,397.8C1482.1,401.5 1480.7,405.2 1479.3,408.9C1477.9,412.6 1476.5,416.3 1475.1,420.1C1473.7,423.9 1472.3,427.8 1471.0,431.6C1469.7,435.5 1468.4,439.4 1467.1,443.3C1465.8,447.2 1464.7,451.2 1463.4,455.0C1462.1,458.9 1460.7,462.7 1459.4,466.4C1458.2,470.1 1457.0,473.7 1455.9,477.2C1454.8,480.8 1453.8,484.2 1452.8,487.5C1451.9,490.9 1451.1,494.1 1450.3,497.4C1449.5,500.7 1448.9,503.9 1448.2,507.3C1447.5,510.6 1446.9,514.0 1446.2,517.7C1445.5,521.4 1444.7,525.3 1443.9,529.4C1443.0,533.6 1442.1,538.0 1441.0,542.7C1440.0,547.4 1438.7,552.3 1437.6,557.4C1436.5,562.4 1435.3,567.8 1434.4,572.9C1433.6,578.1 1433.0,583.5 1432.5,588.4C1432.0,593.4 1431.7,598.2 1431.6,602.6C1431.5,606.9 1431.6,611.0 1431.8,614.6C1432.0,618.1 1432.3,621.2 1432.9,624.0C1433.5,626.8 1434.5,629.1 1435.3,631.4C1436.1,633.6 1437.3,635.5 1437.9,637.5C1438.6,639.6 1439.0,641.5 1439.4,643.7C1439.7,645.9 1439.7,648.1 1440.0,650.7C1440.3,653.3 1440.4,656.2 1441.1,659.3C1441.9,662.4 1442.8,665.8 1444.6,669.2C1446.3,672.6 1448.9,676.2 1451.7,679.7C1454.5,683.1 1458.0,686.7 1461.3,690.0C1464.6,693.2 1469.9,697.7 1471.6,699.3" fill="none" stroke="#686868" stroke-width="1.5" stroke-linejoin="round" stroke-linecap="round"/>
<path d="M1497.0,342.0C1496.5,344.2 1494.7,350.8 1493.8,355.0C1492.9,359.1 1492.4,363.1 1491.6,367.0C1490.8,371.0 1490.1,374.9 1489.2,378.7C1488.3,382.6 1487.3,386.4 1486.3,390.3C1485.4,394.1 1484.4,397.9 1483.5,401.7C1482.5,405.4 1481.6,409.2 1480.8,413.0C1479.9,416.7 1479.1,420.5 1478.5,424.3C1477.8,428.0 1477.2,431.8 1476.7,435.7C1476.1,439.5 1475.8,443.3 1475.3,447.2C1474.9,451.1 1474.7,455.1 1474.2,459.1C1473.7,463.0 1473.1,467.0 1472.5,471.0C1471.8,475.1 1471.1,479.1 1470.4,483.2C1469.6,487.3 1468.7,491.4 1467.9,495.4C1467.0,499.5 1466.0,503.5 1465.1,507.5C1464.2,511.5 1463.3,515.4 1462.4,519.3C1461.5,523.2 1460.7,527.0 1459.9,530.8C1459.2,534.6 1458.5,538.3 1457.6,542.0C1456.8,545.6 1456.0,549.3 1454.9,552.9C1453.8,556.5 1452.6,560.0 1451.1,563.6C1449.6,567.2 1447.8,570.7 1445.9,574.3C1444.0,577.9 1441.9,581.5 1439.5,585.2C1437.2,588.8 1434.4,592.4 1431.8,596.1C1429.2,599.7 1426.3,603.4 1424.0,607.1C1421.7,610.8 1419.2,614.5 1417.9,618.3C1416.6,622.1 1416.0,626.0 1416.2,630.0C1416.5,633.9 1417.9,638.0 1419.6,642.1C1421.2,646.2 1423.8,650.5 1426.4,654.8C1429.0,659.1 1432.3,663.5 1435.2,668.0C1438.2,672.4 1441.4,677.0 1444.1,681.5C1446.9,685.9 1449.5,690.5 1451.7,694.9C1453.9,699.3 1455.9,703.6 1457.2,707.8C1458.5,712.1 1459.1,716.2 1459.5,720.1C1459.9,724.1 1459.5,729.6 1459.6,731.5" fill="none" stroke="#686868" stroke-width="1.5" stroke-linejoin="round" stroke-linecap="round"/>
<path d="M1497.0,342.0C1497.2,343.9 1498.2,349.5 1498.3,353.2C1498.5,357.0 1498.1,360.8 1497.8,364.5C1497.5,368.2 1497.1,371.9 1496.6,375.6C1496.0,379.3 1495.4,382.9 1494.7,386.6C1494.0,390.3 1493.2,394.0 1492.4,397.7C1491.5,401.4 1490.6,405.2 1489.6,409.0C1488.6,412.8 1487.5,416.6 1486.5,420.5C1485.4,424.4 1484.2,428.3 1483.2,432.2C1482.1,436.1 1481.0,440.0 1480.0,443.9C1479.0,447.8 1478.1,451.8 1477.2,455.6C1476.3,459.5 1475.3,463.3 1474.5,467.1C1473.7,470.9 1473.1,474.7 1472.5,478.5C1472.0,482.3 1471.6,486.0 1471.2,489.8C1470.9,493.6 1470.7,497.3 1470.5,501.1C1470.3,504.8 1470.3,508.5 1470.2,512.2C1470.1,515.8 1470.1,519.5 1470.1,523.0C1470.1,526.5 1470.2,529.9 1470.2,533.3C1470.2,536.6 1470.2,539.7 1470.1,542.8C1470.0,545.9 1469.9,548.8 1469.8,551.8C1469.7,554.7 1469.6,557.5 1469.5,560.4C1469.4,563.4 1469.6,566.3 1469.4,569.4C1469.3,572.5 1469.0,575.7 1468.6,579.2C1468.2,582.6 1467.6,586.3 1467.0,590.1C1466.3,594.0 1465.3,598.1 1464.6,602.2C1464.0,606.4 1463.5,610.8 1463.1,615.0C1462.8,619.2 1462.7,623.6 1462.6,627.6C1462.4,631.6 1462.3,635.6 1462.3,639.1C1462.4,642.7 1462.5,645.9 1462.9,648.9C1463.2,651.9 1463.7,654.5 1464.5,657.0C1465.3,659.5 1466.4,661.7 1467.8,663.9C1469.2,666.2 1471.2,668.2 1473.0,670.6C1474.8,673.0 1476.8,675.4 1478.6,678.3C1480.5,681.1 1482.4,684.2 1484.0,687.6C1485.7,691.0 1487.9,696.8 1488.6,698.7" fill="none" stroke="#686868" stroke-width="1.5" stroke-linejoin="round" stroke-linecap="round"/>
<path d="M1497.0,342.0C1496.6,344.0 1495.2,349.9 1494.5,353.8C1493.8,357.7 1493.4,361.5 1492.9,365.3C1492.4,369.0 1492.1,372.6 1491.6,376.3C1491.0,380.0 1490.3,383.7 1489.7,387.5C1489.0,391.2 1488.3,395.0 1487.7,398.8C1487.0,402.7 1486.3,406.5 1485.6,410.4C1484.9,414.2 1484.2,418.1 1483.5,422.0C1482.8,425.9 1482.0,429.8 1481.3,433.7C1480.5,437.6 1479.8,441.4 1479.0,445.3C1478.2,449.1 1477.5,453.0 1476.6,456.7C1475.7,460.5 1474.6,464.2 1473.7,467.9C1472.8,471.5 1471.9,475.1 1471.0,478.7C1470.2,482.2 1469.4,485.7 1468.5,489.2C1467.6,492.6 1466.8,496.0 1465.9,499.4C1465.0,502.7 1464.0,506.1 1462.9,509.4C1461.8,512.8 1460.6,516.2 1459.2,519.7C1457.9,523.2 1456.4,526.7 1454.8,530.4C1453.3,534.0 1451.5,537.8 1449.9,541.7C1448.3,545.5 1446.5,549.5 1445.1,553.6C1443.7,557.7 1442.4,561.9 1441.5,566.2C1440.6,570.4 1440.2,574.8 1439.8,579.1C1439.4,583.4 1439.3,587.8 1439.3,592.1C1439.2,596.4 1439.4,600.7 1439.4,604.9C1439.4,609.1 1439.4,613.3 1439.4,617.4C1439.5,621.5 1439.7,625.6 1439.8,629.7C1439.8,633.7 1440.0,637.7 1439.8,641.7C1439.6,645.6 1439.1,649.5 1438.5,653.3C1438.0,657.1 1437.2,660.8 1436.7,664.4C1436.1,667.9 1435.4,671.4 1435.1,674.7C1434.8,678.0 1435.1,682.7 1435.1,684.3" fill="none" stroke="#686868" stroke-width="1.5" stroke-linejoin="round" stroke-linecap="round"/>
<path d="M1497.0,342.0C1496.9,343.8 1496.7,349.2 1496.4,352.8C1496.1,356.5 1495.6,360.3 1495.1,364.0C1494.6,367.7 1494.1,371.4 1493.5,375.0C1493.0,378.6 1492.4,382.2 1491.9,385.9C1491.3,389.5 1490.9,393.2 1490.5,396.8C1490.1,400.5 1489.8,404.2 1489.4,407.9C1489.1,411.7 1488.8,415.4 1488.5,419.2C1488.2,422.9 1488.0,426.7 1487.7,430.4C1487.4,434.2 1487.1,437.9 1486.8,441.7C1486.4,445.4 1486.2,449.1 1485.7,452.8C1485.2,456.4 1484.5,460.1 1483.9,463.7C1483.2,467.4 1482.5,471.0 1481.7,474.7C1480.9,478.5 1480.0,482.2 1479.0,486.0C1478.1,489.8 1477.0,493.6 1475.9,497.5C1474.7,501.3 1473.5,505.2 1472.2,509.2C1471.0,513.1 1469.6,517.1 1468.3,521.0C1467.0,525.0 1465.7,528.9 1464.4,532.8C1463.1,536.7 1461.8,540.6 1460.6,544.5C1459.4,548.3 1458.2,552.1 1457.2,555.9C1456.2,559.6 1455.2,563.4 1454.4,567.1C1453.6,570.8 1453.2,574.5 1452.6,578.1C1452.0,581.8 1451.4,585.4 1450.9,588.9C1450.3,592.4 1449.8,595.9 1449.5,599.3C1449.1,602.8 1448.6,606.1 1448.8,609.5C1449.0,612.8 1449.6,616.1 1450.6,619.4C1451.6,622.8 1453.3,626.1 1454.9,629.5C1456.5,632.9 1458.5,636.3 1460.4,639.8C1462.4,643.4 1464.6,647.0 1466.5,650.8C1468.4,654.6 1470.4,658.6 1472.0,662.6C1473.7,666.6 1475.8,672.8 1476.5,674.8" fill="none" stroke="#686868" stroke-width="1.5" stroke-linejoin="round" stroke-linecap="round"/>
<path d="M1497.0,342.0C1496.9,344.1 1496.6,350.5 1496.3,354.7C1495.9,358.8 1495.5,362.7 1495.0,366.8C1494.5,370.9 1494.0,375.2 1493.3,379.3C1492.7,383.4 1491.9,387.4 1491.2,391.4C1490.5,395.4 1489.8,399.4 1489.0,403.3C1488.3,407.3 1487.6,411.3 1486.9,415.2C1486.2,419.2 1485.5,423.2 1484.9,427.2C1484.3,431.3 1483.7,435.3 1483.2,439.4C1482.7,443.4 1482.3,447.5 1481.8,451.6C1481.4,455.7 1481.1,459.8 1480.6,463.9C1480.1,467.9 1479.4,471.9 1478.7,475.8C1478.0,479.8 1477.2,483.7 1476.3,487.5C1475.3,491.3 1474.2,495.0 1473.0,498.7C1471.8,502.4 1470.4,505.9 1469.1,509.5C1467.7,513.0 1466.2,516.4 1464.9,519.8C1463.6,523.2 1462.3,526.5 1461.3,529.9C1460.4,533.2 1459.6,536.5 1459.3,539.8C1459.0,543.1 1459.0,546.4 1459.3,549.8C1459.6,553.2 1460.4,556.5 1461.2,560.0C1462.1,563.5 1463.4,567.0 1464.6,570.6C1465.8,574.2 1467.4,577.9 1468.4,581.6C1469.4,585.4 1470.2,589.2 1470.5,593.1C1470.9,596.9 1470.8,600.9 1470.3,604.8C1469.9,608.7 1468.7,612.7 1467.9,616.8C1467.2,620.8 1466.2,624.8 1465.8,628.9C1465.4,632.9 1465.2,637.0 1465.4,641.0C1465.6,645.1 1466.1,649.1 1467.1,653.1C1468.2,657.1 1469.8,661.1 1471.7,665.1C1473.7,669.1 1476.1,673.1 1478.8,677.1C1481.4,681.0 1484.6,685.0 1487.6,688.9C1490.6,692.9 1494.0,696.8 1496.7,700.8C1499.4,704.8 1502.6,710.9 1503.8,712.9" fill="none" stroke="#686868" stroke-width="1.5" stroke-linejoin="round" stroke-linecap="round"/>
<path d="M1497.0,342.0C1496.9,343.7 1496.4,348.7 1496.1,352.2C1495.8,355.7 1495.5,359.2 1495.2,362.8C1494.9,366.4 1494.8,370.2 1494.5,373.8C1494.3,377.5 1494.0,381.3 1493.7,384.9C1493.5,388.6 1493.2,392.3 1492.9,395.9C1492.6,399.6 1492.3,403.2 1492.0,406.7C1491.6,410.2 1491.2,413.7 1490.8,417.2C1490.3,420.6 1489.8,424.0 1489.2,427.4C1488.7,430.8 1488.0,434.2 1487.4,437.7C1486.7,441.1 1485.9,444.6 1485.1,448.2C1484.2,451.7 1483.2,455.4 1482.2,459.1C1481.2,462.8 1480.1,466.7 1479.0,470.6C1478.0,474.5 1476.9,478.5 1475.9,482.5C1475.0,486.6 1474.0,490.7 1473.3,494.7C1472.5,498.7 1471.9,502.8 1471.3,506.7C1470.8,510.6 1470.4,514.4 1470.1,518.2C1469.7,521.9 1469.5,525.5 1469.3,529.0C1469.0,532.6 1468.9,536.0 1468.7,539.4C1468.4,542.9 1468.2,546.2 1467.8,549.6C1467.5,553.0 1467.0,556.4 1466.4,559.9C1465.8,563.4 1465.0,566.9 1464.4,570.5C1463.9,574.1 1463.5,577.9 1463.0,581.6C1462.5,585.3 1461.9,589.0 1461.4,592.7C1460.9,596.3 1460.3,600.0 1459.8,603.5C1459.3,607.1 1458.8,610.5 1458.4,613.9C1457.9,617.4 1457.0,620.7 1457.0,624.0C1457.0,627.3 1458.1,630.4 1458.5,633.8C1458.9,637.1 1459.2,640.5 1459.4,644.1C1459.5,647.7 1459.5,651.5 1459.4,655.4C1459.4,659.4 1459.0,663.6 1459.0,667.8C1459.0,672.0 1458.8,676.5 1459.5,680.5C1460.2,684.6 1461.6,688.6 1463.2,692.3C1464.7,696.1 1467.9,701.3 1468.8,703.1" fill="none" stroke="#686868" stroke-width="1.5" stroke-linejoin="round" stroke-linecap="round"/>
<path d="M1497.0,342.0C1496.9,343.8 1496.7,349.3 1496.5,353.0C1496.3,356.6 1496.0,360.2 1495.7,363.8C1495.4,367.5 1495.1,371.1 1494.6,374.7C1494.2,378.4 1493.6,382.0 1493.1,385.6C1492.6,389.3 1492.0,392.9 1491.5,396.5C1491.0,400.2 1490.4,403.9 1489.9,407.5C1489.3,411.2 1488.8,414.8 1488.2,418.5C1487.7,422.2 1487.1,425.8 1486.5,429.5C1485.8,433.2 1485.1,436.9 1484.4,440.6C1483.7,444.2 1482.9,448.0 1482.2,451.7C1481.4,455.4 1480.5,459.1 1479.8,462.9C1479.0,466.6 1478.2,470.3 1477.6,474.0C1477.0,477.7 1476.6,481.3 1476.3,484.9C1476.1,488.5 1476.0,492.0 1476.1,495.3C1476.2,498.7 1476.5,502.0 1476.8,505.1C1477.1,508.3 1477.6,511.3 1477.9,514.3C1478.2,517.3 1478.5,520.1 1478.6,523.1C1478.8,526.1 1478.8,529.0 1478.8,532.1C1478.7,535.2 1478.5,538.4 1478.3,541.8C1478.0,545.2 1477.6,548.7 1477.4,552.4C1477.2,556.1 1476.8,560.1 1476.9,564.0C1477.0,568.0 1477.6,572.2 1478.1,576.2C1478.6,580.2 1479.3,584.3 1479.9,588.2C1480.6,592.0 1481.4,595.8 1482.0,599.5C1482.6,603.1 1483.2,606.5 1483.5,609.9C1483.9,613.4 1483.5,616.7 1483.9,620.0C1484.3,623.4 1485.4,626.5 1485.9,630.0C1486.3,633.5 1486.4,637.1 1486.5,641.0C1486.6,644.8 1486.4,648.9 1486.4,653.1C1486.4,657.2 1486.3,661.7 1486.5,665.8C1486.8,670.0 1487.1,674.3 1488.1,678.0C1489.1,681.6 1491.7,686.0 1492.4,687.6" fill="none" stroke="#686868" stroke-width="1.5" stroke-linejoin="round" stroke-linecap="round"/>
<path d="M1497.0,342.0C1497.1,343.9 1497.4,349.8 1497.4,353.6C1497.4,357.3 1497.1,361.0 1497.0,364.5C1496.9,368.1 1496.9,371.5 1496.9,375.0C1496.8,378.4 1496.8,381.8 1496.8,385.2C1496.9,388.6 1497.0,391.9 1497.1,395.3C1497.2,398.8 1497.4,402.2 1497.6,405.7C1497.8,409.2 1498.0,412.8 1498.2,416.4C1498.3,420.0 1498.5,423.7 1498.5,427.4C1498.5,431.1 1498.5,434.8 1498.3,438.4C1498.1,442.1 1497.8,445.7 1497.3,449.3C1496.8,452.9 1496.1,456.4 1495.2,459.9C1494.4,463.3 1493.3,466.7 1492.3,470.2C1491.3,473.7 1490.1,477.1 1489.1,480.7C1488.0,484.2 1486.9,487.9 1485.9,491.6C1484.9,495.4 1483.9,499.2 1482.9,503.2C1482.0,507.2 1481.1,511.3 1480.1,515.3C1479.2,519.4 1478.2,523.6 1477.1,527.5C1476.0,531.5 1474.9,535.5 1473.7,539.2C1472.5,542.9 1471.1,546.5 1469.8,549.7C1468.5,553.0 1467.0,556.0 1465.7,558.8C1464.4,561.6 1462.9,564.0 1462.0,566.5C1461.2,569.0 1460.8,571.3 1460.6,573.7C1460.5,576.1 1460.5,578.3 1460.9,580.9C1461.2,583.5 1462.0,586.1 1462.8,589.1C1463.6,592.1 1464.7,595.3 1465.7,598.8C1466.6,602.2 1467.3,606.1 1468.5,610.0C1469.8,613.9 1472.1,618.0 1473.3,622.2C1474.5,626.3 1475.4,630.7 1475.7,634.9C1476.1,639.2 1476.0,643.5 1475.6,647.5C1475.3,651.6 1474.3,655.7 1473.5,659.5C1472.8,663.2 1471.5,666.9 1471.1,670.1C1470.7,673.3 1471.1,677.4 1471.0,678.8" fill="none" stroke="#686868" stroke-width="1.5" stroke-linejoin="round" stroke-linecap="round"/>
<path d="M1100.9,488.0C1104.1,489.0 1114.2,491.7 1120.0,494.0C1125.8,496.3 1130.6,497.8 1135.6,502.0C1140.6,506.2 1145.6,513.7 1150.0,519.0C1154.4,524.3 1158.6,528.1 1162.0,533.6C1165.4,539.1 1169.3,546.5 1170.6,552.0C1171.9,557.5 1170.1,563.7 1169.6,566.5C1169.1,569.3 1165.6,569.1 1167.5,568.6C1169.4,568.1 1177.1,563.9 1181.0,563.5C1184.9,563.1 1185.9,564.3 1191.0,566.5C1196.1,568.7 1203.2,573.4 1211.8,576.8C1220.4,580.2 1234.2,583.2 1242.7,587.0C1251.2,590.8 1256.5,594.0 1263.0,599.5C1269.5,605.0 1277.2,613.1 1282.0,620.0C1286.8,626.9 1290.0,636.6 1292.0,640.7C1294.0,644.8 1293.0,645.8 1294.0,644.8C1295.0,643.8 1296.8,636.9 1298.0,634.5C1299.2,632.1 1300.9,631.1 1301.5,630.4" fill="none" stroke="#e4e55e" stroke-width="1.3" stroke-linejoin="round" stroke-linecap="round"/>
<path d="M861.4,599.4C862.1,600.3 864.3,602.8 865.5,605.0C866.7,607.2 868.4,609.7 868.8,612.8C869.2,615.9 867.6,622.2 867.8,623.7C868.0,625.2 869.5,623.2 869.8,621.7C870.1,620.2 869.3,616.6 869.8,614.8C870.3,613.0 871.4,611.9 873.0,611.0C874.6,610.1 876.9,609.0 879.7,609.3C882.5,609.6 886.9,611.2 889.6,612.8C892.3,614.4 894.2,616.5 896.0,619.0C897.8,621.5 899.6,624.5 900.5,627.6C901.4,630.7 902.0,635.0 901.5,637.5C901.0,640.0 898.8,642.7 897.5,642.5C896.2,642.3 893.9,638.4 893.6,636.5C893.4,634.6 894.9,632.5 896.0,631.0C897.1,629.5 898.6,628.4 900.5,627.6C902.4,626.8 904.6,625.3 907.4,626.1C910.2,626.9 915.0,630.6 917.3,632.6C919.6,634.6 920.1,635.9 921.0,638.0C921.9,640.1 922.1,644.7 922.8,645.0C923.5,645.3 924.3,641.2 925.0,640.0C925.7,638.8 925.7,638.2 927.2,637.5C928.7,636.8 931.1,635.0 934.2,636.0C937.3,637.0 943.2,640.6 946.0,643.5C948.8,646.4 950.3,649.4 951.0,653.4C951.7,657.4 951.0,664.6 950.0,667.2C949.0,669.8 945.7,670.0 945.0,669.2C944.3,668.4 944.8,663.7 946.0,662.3C947.2,660.9 950.0,660.3 952.0,660.8C954.0,661.3 956.3,663.3 958.0,665.2C959.7,667.1 960.9,672.5 962.4,672.2C963.9,671.9 964.4,665.8 966.8,663.3C969.2,660.8 973.4,657.0 976.7,657.3C980.0,657.6 984.0,661.9 986.6,665.2C989.2,668.5 989.8,673.9 992.6,677.0C995.4,680.1 1001.7,682.5 1003.5,683.6" fill="none" stroke="#e4e55e" stroke-width="1.3" stroke-linejoin="round" stroke-linecap="round"/>
<path d="M1493.0,348.0C1493.0,351.6 1493.9,363.0 1492.7,369.6C1491.5,376.2 1487.3,380.2 1485.8,387.4C1484.3,394.6 1486.4,404.1 1483.8,413.0C1481.2,421.9 1473.6,430.9 1470.0,440.8C1466.4,450.7 1465.0,462.6 1462.0,472.5C1459.0,482.4 1455.6,491.9 1452.0,500.0C1448.4,508.1 1446.2,512.7 1440.5,521.0C1434.8,529.3 1425.9,542.1 1418.0,550.0C1410.1,557.9 1399.2,562.4 1393.0,568.6C1386.8,574.8 1383.5,581.2 1380.8,587.0C1378.1,592.8 1377.4,597.4 1376.7,603.6C1376.0,609.8 1376.0,616.1 1376.7,624.0C1377.4,631.9 1379.1,643.1 1380.8,651.0C1382.5,658.9 1384.6,662.0 1387.0,671.6C1389.4,681.2 1393.7,702.5 1395.0,708.7" fill="none" stroke="#8b008b" stroke-width="3.8" stroke-linejoin="round" stroke-linecap="round"/>
<path d="M1395.0,708.7C1395.3,709.4 1396.0,709.8 1397.0,713.0C1398.0,716.2 1400.8,724.7 1401.0,728.0C1401.2,731.3 1400.9,733.3 1398.0,732.6C1395.1,731.9 1388.1,728.4 1383.5,724.0C1378.9,719.6 1373.7,711.2 1370.4,706.5C1367.2,701.8 1365.7,699.4 1364.0,696.0C1362.3,692.6 1361.3,689.0 1360.0,686.0C1358.7,683.0 1357.7,679.0 1356.0,678.0C1354.3,677.0 1351.7,677.0 1350.0,680.0C1348.3,683.0 1349.3,690.9 1345.8,696.0C1342.3,701.1 1334.8,706.0 1329.0,710.8C1323.2,715.6 1313.8,722.6 1310.7,725.0" fill="none" stroke="#ef5fef" stroke-width="3.8" stroke-linejoin="round" stroke-linecap="round"/>
<path d="M1497.6,339.9C1496.3,344.8 1493.0,361.4 1489.7,369.6C1486.4,377.9 1480.2,382.2 1477.9,389.4C1475.6,396.6 1478.2,403.1 1475.9,413.0C1473.6,422.9 1467.0,439.4 1464.0,448.7C1461.0,457.9 1460.3,458.8 1458.0,468.5C1455.7,478.2 1454.0,494.9 1450.0,506.8C1446.0,518.7 1440.7,528.8 1434.0,539.8C1427.3,550.8 1415.8,561.4 1409.6,572.7C1403.4,584.0 1400.4,596.5 1397.0,607.8C1393.6,619.1 1392.4,631.1 1389.0,640.7C1385.6,650.3 1382.2,659.0 1376.7,665.5C1371.2,672.0 1362.9,676.2 1356.0,680.0C1349.1,683.8 1343.0,685.1 1335.5,688.0C1328.0,690.9 1314.8,695.8 1310.7,697.4" fill="none" stroke="#000" stroke-width="3.8" stroke-linejoin="round" stroke-linecap="round"/>
</g>
<rect x="104.4" y="89.4" width="1485.1" height="963" fill="none" stroke="#000" stroke-width="1.3"/>
<rect x="1242.5" y="874.6" width="339" height="168.6" rx="4" ry="4" fill="#fff" stroke="#000" stroke-width="1.3"/>
<line x1="1248.9" y1="887.4" x2="1283" y2="887.4" stroke="#6e6e6e" stroke-width="1.3"/>
<text x="1296.5" y="892.9" font-size="16.5" font-weight="normal" text-anchor="start" textLength="127.7" lengthAdjust="spacingAndGlyphs">No Interception</text>
<line x1="1248.9" y1="910.4" x2="1283" y2="910.4" stroke="#ff4500" stroke-width="1.3"/>
<text x="1296.5" y="916.1" font-size="16.5" font-weight="normal" text-anchor="start" textLength="278.1" lengthAdjust="spacingAndGlyphs">Interception from Named cyclone</text>
<line x1="1248.9" y1="933.5" x2="1283" y2="933.5" stroke="#808000" stroke-width="1.3"/>
<text x="1296.5" y="939.8" font-size="16.5" font-weight="normal" text-anchor="start" textLength="218.8" lengthAdjust="spacingAndGlyphs">Interception from Trochoid</text>
<line x1="1248.9" y1="957.3" x2="1283" y2="957.3" stroke="#008000" stroke-width="1.3"/>
<text x="1296.5" y="963.1" font-size="16.5" font-weight="normal" text-anchor="start" textLength="187.1" lengthAdjust="spacingAndGlyphs">Interception from both</text>
<line x1="1247.1" y1="979.9" x2="1284" y2="979.9" stroke="#8b008b" stroke-width="3.9"/>
<text x="1296.5" y="986.3" font-size="16.5" font-weight="normal" text-anchor="start" textLength="43.8" lengthAdjust="spacingAndGlyphs">HRES</text>
<line x1="1247.1" y1="1002.9" x2="1284" y2="1002.9" stroke="#000" stroke-width="3.9"/>
<text x="1296.5" y="1009.8" font-size="16.5" font-weight="normal" text-anchor="start" textLength="201.9" lengthAdjust="spacingAndGlyphs">Analysis | 119h duration</text>
<path d="M1263.3,1025.8 A4.2,4.2 0 1 0 1270.7,1027.2" fill="none" stroke="#000" stroke-width="2.7"/><path d="M1267.2,1023.3 L1273,1023.3 L1273,1025.9 L1270.4,1025.9 L1270.4,1029 L1267.2,1029 Z" fill="#000"/><path d="M1261.9,1026.6 L1263.8,1024.3 L1265.3,1026.9 Z" fill="#000"/>
<text x="1296.5" y="1033.9" font-size="16.5" font-weight="normal" text-anchor="start" textLength="236.8" lengthAdjust="spacingAndGlyphs">TC obs. for analysis duration</text>
<rect x="1662.6" y="910.37" width="19.7" height="29.83" fill="#e3eef9"/>
<rect x="1662.6" y="881.53" width="19.7" height="29.83" fill="#dceaf6"/>
<rect x="1662.6" y="852.70" width="19.7" height="29.83" fill="#d5e5f4"/>
<rect x="1662.6" y="823.86" width="19.7" height="29.83" fill="#cee0f2"/>
<rect x="1662.6" y="795.03" width="19.7" height="29.83" fill="#c7dcef"/>
<rect x="1662.6" y="766.19" width="19.7" height="29.83" fill="#bdd7ec"/>
<rect x="1662.6" y="737.36" width="19.7" height="29.83" fill="#b2d2e8"/>
<rect x="1662.6" y="708.52" width="19.7" height="29.83" fill="#a5cde3"/>
<rect x="1662.6" y="679.69" width="19.7" height="29.83" fill="#99c7e0"/>
<rect x="1662.6" y="650.85" width="19.7" height="29.83" fill="#8abfdd"/>
<rect x="1662.6" y="622.02" width="19.7" height="29.83" fill="#7cb7da"/>
<rect x="1662.6" y="593.18" width="19.7" height="29.83" fill="#6dafd7"/>
<rect x="1662.6" y="564.35" width="19.7" height="29.83" fill="#60a7d2"/>
<rect x="1662.6" y="535.52" width="19.7" height="29.83" fill="#549fcd"/>
<rect x="1662.6" y="506.68" width="19.7" height="29.83" fill="#4997c9"/>
<rect x="1662.6" y="477.85" width="19.7" height="29.83" fill="#3e8ec4"/>
<rect x="1662.6" y="449.01" width="19.7" height="29.83" fill="#3484bf"/>
<rect x="1662.6" y="420.18" width="19.7" height="29.83" fill="#2b7bba"/>
<rect x="1662.6" y="391.34" width="19.7" height="29.83" fill="#2171b5"/>
<rect x="1662.6" y="362.51" width="19.7" height="29.83" fill="#1a68ae"/>
<rect x="1662.6" y="333.67" width="19.7" height="29.83" fill="#135fa7"/>
<rect x="1662.6" y="304.84" width="19.7" height="29.83" fill="#0b559f"/>
<rect x="1662.6" y="276.00" width="19.7" height="29.83" fill="#084c95"/>
<rect x="1662.6" y="247.17" width="19.7" height="29.83" fill="#084387"/>
<rect x="1662.6" y="218.33" width="19.7" height="29.83" fill="#083979"/>
<rect x="1662.6" y="189.50" width="19.7" height="29.83" fill="#08306b"/>
<rect x="1662.6" y="189.5" width="19.7" height="749.7" fill="none" stroke="#000" stroke-width="1.2"/>
<line x1="1682.3" y1="939.2" x2="1687.8" y2="939.2" stroke="#000" stroke-width="1.1"/>
<text x="1692.5" y="943.8" font-size="12.8" font-weight="normal" text-anchor="start">0</text>
<line x1="1682.3" y1="795.0" x2="1687.8" y2="795.0" stroke="#000" stroke-width="1.1"/>
<text x="1692.5" y="799.6" font-size="12.8" font-weight="normal" text-anchor="start">10</text>
<line x1="1682.3" y1="650.9" x2="1687.8" y2="650.9" stroke="#000" stroke-width="1.1"/>
<text x="1692.5" y="655.5" font-size="12.8" font-weight="normal" text-anchor="start">20</text>
<line x1="1682.3" y1="506.7" x2="1687.8" y2="506.7" stroke="#000" stroke-width="1.1"/>
<text x="1692.5" y="511.3" font-size="12.8" font-weight="normal" text-anchor="start">30</text>
<line x1="1682.3" y1="362.5" x2="1687.8" y2="362.5" stroke="#000" stroke-width="1.1"/>
<text x="1692.5" y="367.1" font-size="12.8" font-weight="normal" text-anchor="start">40</text>
<line x1="1682.3" y1="218.3" x2="1687.8" y2="218.3" stroke="#000" stroke-width="1.1"/>
<text x="1692.5" y="222.9" font-size="12.8" font-weight="normal" text-anchor="start">50</text>
<text transform="translate(1734.2,930.5) rotate(-90)" font-size="19.5" font-weight="bold" textLength="612.5" lengthAdjust="spacingAndGlyphs">Named cyclones forecast - Number of EPS within 120km</text>
<rect x="22.5" y="1137" width="1640.0" height="41.200000000000045" fill="#9e0142" stroke="#000" stroke-width="1.2"/>
<line x1="17" y1="1158" x2="22.5" y2="1158" stroke="#000" stroke-width="1"/>
<line x1="22.5" y1="1178.2" x2="22.5" y2="1183.7" stroke="#000" stroke-width="1.1"/>
<line x1="63.5" y1="1178.2" x2="63.5" y2="1183.7" stroke="#000" stroke-width="1.1"/>
<line x1="104.5" y1="1178.2" x2="104.5" y2="1183.7" stroke="#000" stroke-width="1.1"/>
<line x1="145.5" y1="1178.2" x2="145.5" y2="1183.7" stroke="#000" stroke-width="1.1"/>
<line x1="186.5" y1="1178.2" x2="186.5" y2="1183.7" stroke="#000" stroke-width="1.1"/>
<line x1="227.5" y1="1178.2" x2="227.5" y2="1183.7" stroke="#000" stroke-width="1.1"/>
<line x1="268.5" y1="1178.2" x2="268.5" y2="1183.7" stroke="#000" stroke-width="1.1"/>
<line x1="309.5" y1="1178.2" x2="309.5" y2="1183.7" stroke="#000" stroke-width="1.1"/>
<line x1="350.5" y1="1178.2" x2="350.5" y2="1183.7" stroke="#000" stroke-width="1.1"/>
<line x1="391.5" y1="1178.2" x2="391.5" y2="1183.7" stroke="#000" stroke-width="1.1"/>
<line x1="432.5" y1="1178.2" x2="432.5" y2="1183.7" stroke="#000" stroke-width="1.1"/>
<line x1="473.5" y1="1178.2" x2="473.5" y2="1183.7" stroke="#000" stroke-width="1.1"/>
<line x1="514.5" y1="1178.2" x2="514.5" y2="1183.7" stroke="#000" stroke-width="1.1"/>
<line x1="555.5" y1="1178.2" x2="555.5" y2="1183.7" stroke="#000" stroke-width="1.1"/>
<line x1="596.5" y1="1178.2" x2="596.5" y2="1183.7" stroke="#000" stroke-width="1.1"/>
<line x1="637.5" y1="1178.2" x2="637.5" y2="1183.7" stroke="#000" stroke-width="1.1"/>
<line x1="678.5" y1="1178.2" x2="678.5" y2="1183.7" stroke="#000" stroke-width="1.1"/>
<line x1="719.5" y1="1178.2" x2="719.5" y2="1183.7" stroke="#000" stroke-width="1.1"/>
<line x1="760.5" y1="1178.2" x2="760.5" y2="1183.7" stroke="#000" stroke-width="1.1"/>
<line x1="801.5" y1="1178.2" x2="801.5" y2="1183.7" stroke="#000" stroke-width="1.1"/>
<line x1="842.5" y1="1178.2" x2="842.5" y2="1183.7" stroke="#000" stroke-width="1.1"/>
<line x1="883.5" y1="1178.2" x2="883.5" y2="1183.7" stroke="#000" stroke-width="1.1"/>
<line x1="924.5" y1="1178.2" x2="924.5" y2="1183.7" stroke="#000" stroke-width="1.1"/>
<line x1="965.5" y1="1178.2" x2="965.5" y2="1183.7" stroke="#000" stroke-width="1.1"/>
<line x1="1006.5" y1="1178.2" x2="1006.5" y2="1183.7" stroke="#000" stroke-width="1.1"/>
<line x1="1047.5" y1="1178.2" x2="1047.5" y2="1183.7" stroke="#000" stroke-width="1.1"/>
<line x1="1088.5" y1="1178.2" x2="1088.5" y2="1183.7" stroke="#000" stroke-width="1.1"/>
<line x1="1129.5" y1="1178.2" x2="1129.5" y2="1183.7" stroke="#000" stroke-width="1.1"/>
<line x1="1170.5" y1="1178.2" x2="1170.5" y2="1183.7" stroke="#000" stroke-width="1.1"/>
<line x1="1211.5" y1="1178.2" x2="1211.5" y2="1183.7" stroke="#000" stroke-width="1.1"/>
<line x1="1252.5" y1="1178.2" x2="1252.5" y2="1183.7" stroke="#000" stroke-width="1.1"/>
<line x1="1293.5" y1="1178.2" x2="1293.5" y2="1183.7" stroke="#000" stroke-width="1.1"/>
<line x1="1334.5" y1="1178.2" x2="1334.5" y2="1183.7" stroke="#000" stroke-width="1.1"/>
<line x1="1375.5" y1="1178.2" x2="1375.5" y2="1183.7" stroke="#000" stroke-width="1.1"/>
<line x1="1416.5" y1="1178.2" x2="1416.5" y2="1183.7" stroke="#000" stroke-width="1.1"/>
<line x1="1457.5" y1="1178.2" x2="1457.5" y2="1183.7" stroke="#000" stroke-width="1.1"/>
<line x1="1498.5" y1="1178.2" x2="1498.5" y2="1183.7" stroke="#000" stroke-width="1.1"/>
<line x1="1539.5" y1="1178.2" x2="1539.5" y2="1183.7" stroke="#000" stroke-width="1.1"/>
<line x1="1580.5" y1="1178.2" x2="1580.5" y2="1183.7" stroke="#000" stroke-width="1.1"/>
<line x1="1621.5" y1="1178.2" x2="1621.5" y2="1183.7" stroke="#000" stroke-width="1.1"/>
<line x1="1662.5" y1="1178.2" x2="1662.5" y2="1183.7" stroke="#000" stroke-width="1.1"/>
<text x="22.5" y="1199.5" font-size="15.3" font-weight="bold" text-anchor="middle" textLength="23.0" lengthAdjust="spacingAndGlyphs">0h</text>
<text x="186.5" y="1199.5" font-size="15.3" font-weight="bold" text-anchor="middle" textLength="33.5" lengthAdjust="spacingAndGlyphs">12h</text>
<text x="350.5" y="1199.5" font-size="15.3" font-weight="bold" text-anchor="middle" textLength="33.5" lengthAdjust="spacingAndGlyphs">24h</text>
<text x="514.5" y="1199.5" font-size="15.3" font-weight="bold" text-anchor="middle" textLength="33.5" lengthAdjust="spacingAndGlyphs">36h</text>
<text x="678.5" y="1199.5" font-size="15.3" font-weight="bold" text-anchor="middle" textLength="33.5" lengthAdjust="spacingAndGlyphs">48h</text>
<text x="842.5" y="1199.5" font-size="15.3" font-weight="bold" text-anchor="middle" textLength="33.5" lengthAdjust="spacingAndGlyphs">60h</text>
<text x="1006.5" y="1199.5" font-size="15.3" font-weight="bold" text-anchor="middle" textLength="33.5" lengthAdjust="spacingAndGlyphs">72h</text>
<text x="1170.5" y="1199.5" font-size="15.3" font-weight="bold" text-anchor="middle" textLength="33.5" lengthAdjust="spacingAndGlyphs">84h</text>
<text x="1334.5" y="1199.5" font-size="15.3" font-weight="bold" text-anchor="middle" textLength="33.5" lengthAdjust="spacingAndGlyphs">96h</text>
<text x="1498.5" y="1199.5" font-size="15.3" font-weight="bold" text-anchor="middle" textLength="46.0" lengthAdjust="spacingAndGlyphs">108h</text>
<text x="1662.5" y="1199.5" font-size="15.3" font-weight="bold" text-anchor="middle" textLength="46.0" lengthAdjust="spacingAndGlyphs">120h</text>
<text x="546.2" y="1120.7" font-size="16" font-weight="bold" text-anchor="start" textLength="630.0" lengthAdjust="spacingAndGlyphs">Percentage of flying ballons within a TC as a function of flight time</text>
<text x="103.5" y="21.7" font-size="16" font-weight="bold" text-anchor="start" textLength="449.5" lengthAdjust="spacingAndGlyphs">Maximum forecast trajectory duration : 10 days</text>
<text x="103.5" y="40.9" font-size="16" font-weight="bold" text-anchor="start" textLength="248.0" lengthAdjust="spacingAndGlyphs">Intercept distance: 300km</text>
<text x="103.5" y="60.2" font-size="16" font-weight="bold" text-anchor="start" textLength="291.5" lengthAdjust="spacingAndGlyphs">Intercept RW2 (EPS):&#160; 30km/h2</text>
<text x="103.5" y="79.5" font-size="16" font-weight="bold" text-anchor="start" textLength="300.0" lengthAdjust="spacingAndGlyphs">Intercept RW2 (HRES): 30km/h2</text>
<text x="1187.5" y="21.7" font-size="16" font-weight="bold" text-anchor="start" textLength="126.0" lengthAdjust="spacingAndGlyphs">Site: ElHierro</text>
<text x="1187.5" y="40.9" font-size="16" font-weight="bold" text-anchor="start" textLength="353.0" lengthAdjust="spacingAndGlyphs">Forecast date: Wed. 13/08, 00h (UTC)</text>
<text x="1187.5" y="60.2" font-size="16" font-weight="bold" text-anchor="start" textLength="357.0" lengthAdjust="spacingAndGlyphs">Speed function: U10_speed_Helikite_4</text>
<text x="1187.5" y="79.5" font-size="16" font-weight="bold" text-anchor="start" textLength="385.5" lengthAdjust="spacingAndGlyphs">Deployment date: Wed. 13/08, 20h (UTC)</text>
<text x="605.0" y="63.2" font-size="44" font-weight="bold" text-anchor="start" textLength="482.0" lengthAdjust="spacingAndGlyphs">Wed. 13/08, 21h (LT)</text>
<text x="88.5" y="272.0" font-size="22.5" font-weight="bold" text-anchor="end" textLength="55.0" lengthAdjust="spacingAndGlyphs">30°N</text>
<text x="88.5" y="599.7" font-size="22.5" font-weight="bold" text-anchor="end" textLength="55.0" lengthAdjust="spacingAndGlyphs">20°N</text>
<text x="88.5" y="908.0" font-size="22.5" font-weight="bold" text-anchor="end" textLength="55.0" lengthAdjust="spacingAndGlyphs">10°N</text>
<text x="254.0" y="1083.0" font-size="22.5" font-weight="bold" text-anchor="middle" textLength="60.5" lengthAdjust="spacingAndGlyphs">60°W</text>
<text x="848.5" y="1083.0" font-size="22.5" font-weight="bold" text-anchor="middle" textLength="60.5" lengthAdjust="spacingAndGlyphs">40°W</text>
<text x="1443.0" y="1083.0" font-size="22.5" font-weight="bold" text-anchor="middle" textLength="60.5" lengthAdjust="spacingAndGlyphs">20°W</text>
</svg>
</body></html>
